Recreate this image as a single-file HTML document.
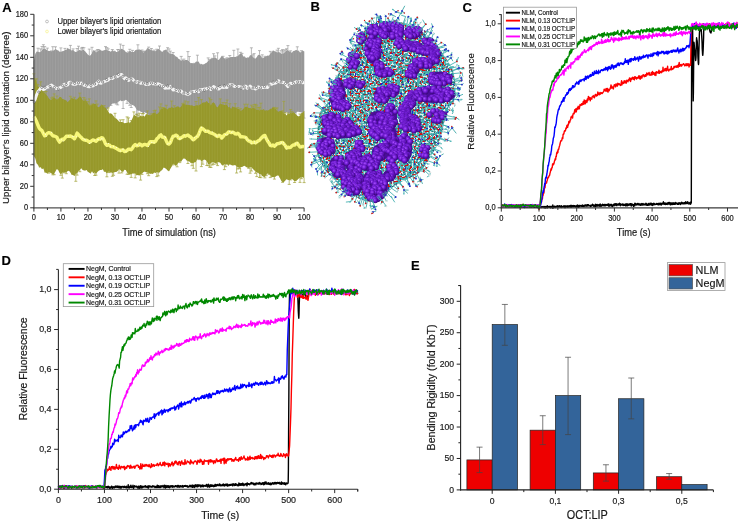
<!DOCTYPE html>
<html><head><meta charset="utf-8"><style>
html,body{margin:0;padding:0;background:#fff;overflow:hidden;}
svg{display:block;font-family:"Liberation Sans",sans-serif;will-change:transform;}
text{stroke:#1a1a1a;stroke-width:0.18px;}
</style></head><body>
<svg width="738" height="522" viewBox="0 0 738 522">
<text transform="translate(2.2 11.6) scale(1 1.0)" font-size="13" font-weight="bold" fill="#000">A</text>
<text transform="translate(310.6 11.4) scale(1 1.0)" font-size="13" font-weight="bold" fill="#000">B</text>
<text transform="translate(462.6 11.8) scale(1 1.0)" font-size="13" font-weight="bold" fill="#000">C</text>
<text transform="translate(1.4 264.9) scale(1 1.0)" font-size="13" font-weight="bold" fill="#000">D</text>
<text transform="translate(411 270.1) scale(1 1.0)" font-size="13" font-weight="bold" fill="#000">E</text>
<path d="M33.9,61.0L35.3,53.8L36.6,51.8L38.0,51.2L39.3,52.2L40.7,52.1L42.0,50.2L43.4,48.7L44.7,48.8L46.1,49.6L47.4,50.6L48.8,50.9L50.1,51.1L51.5,51.3L52.8,50.8L54.2,50.2L55.5,48.7L56.9,50.0L58.2,50.6L59.6,51.8L60.9,51.8L62.3,51.2L63.6,51.1L65.0,50.1L66.3,50.1L67.7,47.8L69.0,49.3L70.4,48.9L71.7,50.7L73.1,49.6L74.4,51.6L75.8,51.9L77.1,51.4L78.5,50.3L79.8,49.9L81.2,50.8L82.5,49.9L83.9,50.0L85.2,51.6L86.6,53.1L87.9,54.8L89.3,55.6L90.6,55.5L92.0,52.8L93.3,50.2L94.7,50.7L96.0,52.5L97.4,51.6L98.7,50.6L100.1,49.8L101.4,50.7L102.8,50.8L104.2,50.2L105.5,49.7L106.9,49.6L108.2,51.1L109.6,51.1L110.9,51.8L112.3,50.1L113.6,51.5L115.0,51.1L116.3,52.0L117.7,52.0L119.0,50.5L120.4,49.4L121.7,48.7L123.1,49.4L124.4,50.3L125.8,52.0L127.1,52.5L128.5,52.8L129.8,50.6L131.2,51.7L132.5,51.9L133.9,52.1L135.2,50.3L136.6,49.8L137.9,49.6L139.3,49.4L140.6,50.1L142.0,50.4L143.3,53.1L144.7,51.4L146.0,50.3L147.4,48.1L148.7,48.8L150.1,49.5L151.4,50.0L152.8,50.8L154.1,51.0L155.5,51.2L156.8,49.8L158.2,49.1L159.5,49.2L160.9,50.9L162.2,51.9L163.6,50.5L164.9,49.9L166.3,49.6L167.6,51.5L169.0,53.0L170.4,54.0L171.7,53.8L173.1,54.0L174.4,54.9L175.8,56.5L177.1,56.9L178.5,58.7L179.8,59.4L181.2,60.9L182.5,59.6L183.9,60.6L185.2,60.0L186.6,60.0L187.9,60.2L189.3,61.6L190.6,63.3L192.0,63.1L193.3,63.5L194.7,63.3L196.0,61.7L197.4,61.2L198.7,61.8L200.1,64.4L201.4,64.0L202.8,64.5L204.1,64.3L205.5,63.3L206.8,62.7L208.2,60.7L209.5,60.2L210.9,58.8L212.2,58.6L213.6,57.8L214.9,57.6L216.3,58.0L217.6,60.1L219.0,59.8L220.3,58.0L221.7,56.1L223.0,56.7L224.4,58.5L225.7,59.6L227.1,58.5L228.4,57.9L229.8,57.2L231.1,57.1L232.5,56.9L233.8,57.0L235.2,56.9L236.6,56.5L237.9,55.9L239.3,54.4L240.6,53.7L242.0,53.8L243.3,56.5L244.7,56.5L246.0,57.9L247.4,57.5L248.7,57.4L250.1,55.5L251.4,54.7L252.8,56.9L254.1,58.0L255.5,58.7L256.8,57.0L258.2,55.1L259.5,54.6L260.9,55.9L262.2,58.2L263.6,57.8L264.9,56.8L266.3,56.3L267.6,55.6L269.0,55.8L270.3,53.5L271.7,52.2L273.0,50.2L274.4,51.3L275.7,51.6L277.1,52.4L278.4,52.1L279.8,52.6L281.1,53.4L282.5,54.1L283.8,53.0L285.2,51.9L286.5,50.4L287.9,50.0L289.2,51.3L290.6,52.1L291.9,52.7L293.3,51.0L294.6,50.7L296.0,50.0L297.3,50.2L298.7,50.8L300.0,52.4L301.4,51.9L302.7,50.6L304.1,51.4L304.1,113.2L302.7,113.1L301.4,112.1L300.0,112.2L298.7,111.8L297.3,111.7L296.0,113.0L294.6,113.8L293.3,114.0L291.9,113.0L290.6,113.4L289.2,113.1L287.9,113.0L286.5,111.9L285.2,113.0L283.8,113.5L282.5,113.7L281.1,113.1L279.8,112.5L278.4,112.2L277.1,111.9L275.7,111.8L274.4,112.4L273.0,113.2L271.7,113.1L270.3,113.1L269.0,112.6L267.6,112.9L266.3,113.4L264.9,114.3L263.6,114.7L262.2,114.5L260.9,113.1L259.5,112.2L258.2,112.1L256.8,113.1L255.5,113.4L254.1,113.9L252.8,114.5L251.4,115.9L250.1,115.5L248.7,116.1L247.4,115.5L246.0,115.3L244.7,114.9L243.3,114.7L242.0,114.8L240.6,113.5L239.3,113.4L237.9,114.7L236.6,115.2L235.2,115.3L233.8,114.3L232.5,114.6L231.1,115.2L229.8,115.3L228.4,115.1L227.1,114.7L225.7,114.8L224.4,115.8L223.0,115.7L221.7,116.2L220.3,115.6L219.0,115.9L217.6,115.7L216.3,116.3L214.9,116.4L213.6,116.9L212.2,116.6L210.9,117.2L209.5,117.2L208.2,117.4L206.8,117.1L205.5,117.0L204.1,116.8L202.8,117.9L201.4,118.2L200.1,118.7L198.7,118.4L197.4,118.3L196.0,118.8L194.7,118.1L193.3,118.1L192.0,117.7L190.6,117.8L189.3,118.4L187.9,118.4L186.6,118.4L185.2,117.8L183.9,117.5L182.5,117.1L181.2,117.8L179.8,117.7L178.5,118.4L177.1,118.2L175.8,118.2L174.4,118.2L173.1,118.0L171.7,117.0L170.4,116.0L169.0,116.0L167.6,116.7L166.3,117.7L164.9,117.5L163.6,117.3L162.2,116.5L160.9,116.5L159.5,117.1L158.2,117.3L156.8,117.1L155.5,115.6L154.1,114.1L152.8,114.0L151.4,114.8L150.1,115.3L148.7,115.0L147.4,113.4L146.0,113.3L144.7,112.1L143.3,113.7L142.0,112.0L140.6,111.8L139.3,110.4L137.9,110.9L136.6,109.7L135.2,107.0L133.9,105.6L132.5,104.9L131.2,104.4L129.8,103.8L128.5,102.0L127.1,100.8L125.8,99.8L124.4,100.8L123.1,100.8L121.7,101.2L120.4,100.3L119.0,101.4L117.7,102.0L116.3,103.9L115.0,103.3L113.6,103.6L112.3,103.4L110.9,105.3L109.6,106.7L108.2,108.1L106.9,109.7L105.5,110.4L104.2,112.0L102.8,113.0L101.4,112.9L100.1,112.7L98.7,113.1L97.4,114.6L96.0,114.5L94.7,114.8L93.3,114.6L92.0,115.7L90.6,114.7L89.3,115.0L87.9,114.9L86.6,116.0L85.2,116.1L83.9,115.8L82.5,115.4L81.2,115.1L79.8,115.8L78.5,115.9L77.1,116.1L75.8,116.1L74.4,115.3L73.1,115.8L71.7,115.1L70.4,116.4L69.0,116.5L67.7,117.0L66.3,117.3L65.0,116.6L63.6,116.7L62.3,116.6L60.9,117.6L59.6,118.1L58.2,118.3L56.9,118.4L55.5,118.7L54.2,118.9L52.8,119.2L51.5,120.1L50.1,120.1L48.8,119.7L47.4,120.2L46.1,120.2L44.7,121.4L43.4,121.9L42.0,122.7L40.7,123.9L39.3,123.4L38.0,124.6L36.6,124.1L35.3,127.6L33.9,129.8Z" fill="#979797"/>
<path d="M33.9,61.0V129.8M36.6,51.8V124.1M39.3,52.2V123.4M42.0,50.2V122.7M44.7,48.8V121.4M47.4,50.6V120.2M50.1,51.1V120.1M52.8,50.8V119.2M55.5,48.7V118.7M58.2,50.6V118.3M60.9,51.8V117.6M63.6,51.1V116.7M66.3,50.1V117.3M69.0,49.3V116.5M71.7,50.7V115.1M74.4,51.6V115.3M77.1,51.4V116.1M79.8,49.9V115.8M82.5,49.9V115.4M85.2,51.6V116.1M87.9,54.8V114.9M90.6,55.5V114.7M93.3,50.2V114.6M96.0,52.5V114.5M98.7,50.6V113.1M101.4,50.7V112.9M104.2,50.2V112.0M106.9,49.6V109.7M109.6,51.1V106.7M112.3,50.1V103.4M115.0,51.1V103.3M117.7,52.0V102.0M120.4,49.4V100.3M123.1,49.4V100.8M125.8,52.0V99.8M128.5,52.8V102.0M131.2,51.7V104.4M133.9,52.1V105.6M136.6,49.8V109.7M139.3,49.4V110.4M142.0,50.4V112.0M144.7,51.4V112.1M147.4,48.1V113.4M150.1,49.5V115.3M152.8,50.8V114.0M155.5,51.2V115.6M158.2,49.1V117.3M160.9,50.9V116.5M163.6,50.5V117.3M166.3,49.6V117.7M169.0,53.0V116.0M171.7,53.8V117.0M174.4,54.9V118.2M177.1,56.9V118.2M179.8,59.4V117.7M182.5,59.6V117.1M185.2,60.0V117.8M187.9,60.2V118.4M190.6,63.3V117.8M193.3,63.5V118.1M196.0,61.7V118.8M198.7,61.8V118.4M201.4,64.0V118.2M204.1,64.3V116.8M206.8,62.7V117.1M209.5,60.2V117.2M212.2,58.6V116.6M214.9,57.6V116.4M217.6,60.1V115.7M220.3,58.0V115.6M223.0,56.7V115.7M225.7,59.6V114.8M228.4,57.9V115.1M231.1,57.1V115.2M233.8,57.0V114.3M236.6,56.5V115.2M239.3,54.4V113.4M242.0,53.8V114.8M244.7,56.5V114.9M247.4,57.5V115.5M250.1,55.5V115.5M252.8,56.9V114.5M255.5,58.7V113.4M258.2,55.1V112.1M260.9,55.9V113.1M263.6,57.8V114.7M266.3,56.3V113.4M269.0,55.8V112.6M271.7,52.2V113.1M274.4,51.3V112.4M277.1,52.4V111.9M279.8,52.6V112.5M282.5,54.1V113.7M285.2,51.9V113.0M287.9,50.0V113.0M290.6,52.1V113.4M293.3,51.0V114.0M296.0,50.0V113.0M298.7,50.8V111.8M301.4,51.9V112.1M304.1,51.4V113.2" stroke="#a9a9a9" stroke-width="0.45" fill="none"/>
<path d="M33.9,129.8V132.8M32.4,132.8h3M38.0,51.2V48.2M36.5,48.2h3M39.3,123.4V125.6M37.8,125.6h3M40.7,52.1V48.9M39.2,48.9h3M40.7,123.9V127.8M39.2,127.8h3M42.0,50.2V46.5M40.5,46.5h3M43.4,48.7V44.7M41.9,44.7h3M44.7,48.8V46.6M43.2,46.6h3M47.4,50.6V48.1M45.9,48.1h3M50.1,120.1V124.6M48.6,124.6h3M51.5,51.3V50.9M50.0,50.9h3M52.8,50.8V46.7M51.3,46.7h3M55.5,48.7V46.8M54.0,46.8h3M55.5,118.7V120.0M54.0,120.0h3M58.2,118.3V122.1M56.7,122.1h3M60.9,51.8V47.9M59.4,47.9h3M63.6,116.7V116.9M62.1,116.9h3M65.0,50.1V48.4M63.5,48.4h3M65.0,116.6V121.8M63.5,121.8h3M69.0,116.5V119.0M67.5,119.0h3M70.4,48.9V45.4M68.9,45.4h3M71.7,115.1V123.4M70.2,123.4h3M73.1,49.6V48.9M71.6,48.9h3M73.1,115.8V116.8M71.6,116.8h3M74.4,115.3V120.0M72.9,120.0h3M75.8,116.1V116.9M74.3,116.9h3M77.1,51.4V48.5M75.6,48.5h3M78.5,50.3V46.2M77.0,46.2h3M78.5,115.9V119.1M77.0,119.1h3M79.8,115.8V116.5M78.3,116.5h3M81.2,50.8V48.0M79.7,48.0h3M82.5,49.9V47.4M81.0,47.4h3M83.9,50.0V47.7M82.4,47.7h3M89.3,55.6V49.1M87.8,49.1h3M90.6,114.7V115.4M89.1,115.4h3M92.0,52.8V47.3M90.5,47.3h3M93.3,114.6V115.7M91.8,115.7h3M96.0,52.5V50.8M94.5,50.8h3M97.4,51.6V49.6M95.9,49.6h3M98.7,50.6V49.6M97.2,49.6h3M101.4,112.9V118.0M99.9,118.0h3M105.5,49.7V46.6M104.0,46.6h3M106.9,49.6V47.6M105.4,47.6h3M106.9,109.7V117.8M105.4,117.8h3M108.2,51.1V48.8M106.7,48.8h3M110.9,105.3V105.4M109.4,105.4h3M112.3,50.1V49.5M110.8,49.5h3M113.6,51.5V51.2M112.1,51.2h3M116.3,103.9V104.1M114.8,104.1h3M117.7,52.0V49.5M116.2,49.5h3M117.7,102.0V104.9M116.2,104.9h3M119.0,50.5V49.6M117.5,49.6h3M120.4,49.4V44.1M118.9,44.1h3M123.1,49.4V45.4M121.6,45.4h3M123.1,100.8V108.5M121.6,108.5h3M127.1,100.8V103.4M125.6,103.4h3M128.5,52.8V51.9M127.0,51.9h3M129.8,50.6V49.3M128.3,49.3h3M129.8,103.8V105.3M128.3,105.3h3M131.2,104.4V107.5M129.7,107.5h3M132.5,51.9V50.4M131.0,50.4h3M136.6,109.7V114.4M135.1,114.4h3M137.9,49.6V44.8M136.4,44.8h3M137.9,110.9V119.9M136.4,119.9h3M142.0,50.4V50.0M140.5,50.0h3M143.3,53.1V51.6M141.8,51.6h3M144.7,51.4V51.1M143.2,51.1h3M147.4,113.4V117.6M145.9,117.6h3M148.7,48.8V47.1M147.2,47.1h3M151.4,50.0V48.5M149.9,48.5h3M154.1,51.0V50.1M152.6,50.1h3M155.5,115.6V118.3M154.0,118.3h3M156.8,49.8V49.2M155.3,49.2h3M159.5,49.2V46.0M158.0,46.0h3M160.9,116.5V117.7M159.4,117.7h3M163.6,117.3V123.1M162.1,123.1h3M166.3,117.7V126.4M164.8,126.4h3M167.6,51.5V47.7M166.1,47.7h3M167.6,116.7V118.1M166.1,118.1h3M169.0,53.0V48.9M167.5,48.9h3M170.4,54.0V51.1M168.9,51.1h3M173.1,54.0V52.5M171.6,52.5h3M173.1,118.0V124.5M171.6,124.5h3M174.4,118.2V119.4M172.9,119.4h3M175.8,118.2V119.6M174.3,119.6h3M181.2,60.9V56.4M179.7,56.4h3M181.2,117.8V118.3M179.7,118.3h3M182.5,117.1V118.5M181.0,118.5h3M183.9,60.6V59.1M182.4,59.1h3M187.9,60.2V51.6M186.4,51.6h3M187.9,118.4V122.0M186.4,122.0h3M189.3,61.6V56.5M187.8,56.5h3M189.3,118.4V121.9M187.8,121.9h3M190.6,117.8V122.9M189.1,122.9h3M194.7,63.3V63.3M193.2,63.3h3M196.0,118.8V125.2M194.5,125.2h3M197.4,61.2V55.2M195.9,55.2h3M197.4,118.3V119.9M195.9,119.9h3M198.7,118.4V118.9M197.2,118.9h3M200.1,64.4V64.3M198.6,64.3h3M201.4,118.2V119.8M199.9,119.8h3M208.2,60.7V57.9M206.7,57.9h3M208.2,117.4V118.0M206.7,118.0h3M209.5,60.2V59.7M208.0,59.7h3M209.5,117.2V118.7M208.0,118.7h3M212.2,58.6V58.3M210.7,58.3h3M213.6,57.8V53.7M212.1,53.7h3M213.6,116.9V121.3M212.1,121.3h3M214.9,57.6V55.9M213.4,55.9h3M214.9,116.4V117.7M213.4,117.7h3M217.6,60.1V52.8M216.1,52.8h3M219.0,115.9V118.7M217.5,118.7h3M220.3,115.6V118.5M218.8,118.5h3M223.0,56.7V56.3M221.5,56.3h3M223.0,115.7V116.7M221.5,116.7h3M224.4,115.8V118.7M222.9,118.7h3M225.7,59.6V58.7M224.2,58.7h3M227.1,58.5V57.8M225.6,57.8h3M227.1,114.7V116.4M225.6,116.4h3M229.8,57.2V55.5M228.3,55.5h3M229.8,115.3V116.7M228.3,116.7h3M233.8,57.0V50.3M232.3,50.3h3M235.2,115.3V117.3M233.7,117.3h3M236.6,115.2V115.4M235.1,115.4h3M237.9,55.9V49.0M236.4,49.0h3M237.9,114.7V115.9M236.4,115.9h3M240.6,53.7V52.3M239.1,52.3h3M240.6,113.5V116.5M239.1,116.5h3M242.0,53.8V53.4M240.5,53.4h3M242.0,114.8V116.6M240.5,116.6h3M243.3,114.7V118.5M241.8,118.5h3M250.1,115.5V117.1M248.6,117.1h3M251.4,54.7V47.8M249.9,47.8h3M252.8,56.9V54.8M251.3,54.8h3M254.1,58.0V53.6M252.6,53.6h3M254.1,113.9V114.0M252.6,114.0h3M259.5,54.6V50.6M258.0,50.6h3M259.5,112.2V114.7M258.0,114.7h3M262.2,58.2V54.8M260.7,54.8h3M263.6,114.7V115.0M262.1,115.0h3M264.9,56.8V56.3M263.4,56.3h3M267.6,112.9V115.0M266.1,115.0h3M269.0,112.6V119.7M267.5,119.7h3M270.3,53.5V51.4M268.8,51.4h3M270.3,113.1V113.4M268.8,113.4h3M271.7,113.1V115.3M270.2,115.3h3M273.0,113.2V115.4M271.5,115.4h3M274.4,112.4V115.4M272.9,115.4h3M277.1,52.4V50.1M275.6,50.1h3M278.4,52.1V48.3M276.9,48.3h3M279.8,112.5V116.3M278.3,116.3h3M281.1,53.4V50.7M279.6,50.7h3M281.1,113.1V115.9M279.6,115.9h3M282.5,54.1V49.6M281.0,49.6h3M283.8,53.0V50.8M282.3,50.8h3M285.2,51.9V49.8M283.7,49.8h3M286.5,50.4V48.8M285.0,48.8h3M287.9,50.0V45.6M286.4,45.6h3M289.2,113.1V113.5M287.7,113.5h3M290.6,52.1V50.8M289.1,50.8h3M290.6,113.4V114.4M289.1,114.4h3M291.9,113.0V115.3M290.4,115.3h3M293.3,114.0V116.9M291.8,116.9h3M294.6,113.8V115.6M293.1,115.6h3M296.0,113.0V116.4M294.5,116.4h3M297.3,50.2V46.8M295.8,46.8h3M301.4,51.9V50.7M299.9,50.7h3M301.4,112.1V114.5M299.9,114.5h3M304.1,113.2V118.1M302.6,118.1h3" stroke="#9c9c9c" stroke-width="0.7" fill="none"/>
<path d="M33.9,76.6L35.3,79.1L36.6,82.1L38.0,86.9L39.3,86.8L40.7,89.1L42.0,90.3L43.4,92.2L44.7,93.1L46.1,94.6L47.4,96.1L48.8,98.2L50.1,99.7L51.5,100.0L52.8,98.1L54.2,97.2L55.5,98.8L56.9,99.6L58.2,99.0L59.6,97.1L60.9,97.0L62.3,98.9L63.6,99.2L65.0,100.0L66.3,100.6L67.7,102.3L69.0,100.8L70.4,99.4L71.7,97.4L73.1,99.1L74.4,98.3L75.8,99.8L77.1,99.3L78.5,97.8L79.8,96.3L81.2,97.2L82.5,100.1L83.9,101.1L85.2,100.0L86.6,100.9L87.9,103.4L89.3,105.3L90.6,105.4L92.0,104.4L93.3,103.6L94.7,104.1L96.0,104.1L97.4,107.1L98.7,107.3L100.1,106.2L101.4,104.6L102.8,105.3L104.2,107.3L105.5,107.5L106.9,109.8L108.2,111.3L109.6,113.7L110.9,113.3L112.3,114.6L113.6,115.9L115.0,117.9L116.3,118.4L117.7,119.9L119.0,121.4L120.4,122.1L121.7,121.9L123.1,122.3L124.4,123.2L125.8,123.0L127.1,122.8L128.5,122.1L129.8,123.3L131.2,120.9L132.5,118.3L133.9,114.8L135.2,115.4L136.6,116.2L137.9,117.5L139.3,116.8L140.6,115.6L142.0,116.5L143.3,115.4L144.7,116.7L146.0,114.0L147.4,114.6L148.7,114.7L150.1,115.3L151.4,114.4L152.8,113.3L154.1,112.4L155.5,112.9L156.8,114.3L158.2,113.2L159.5,111.4L160.9,108.6L162.2,108.7L163.6,107.7L164.9,108.1L166.3,108.6L167.6,109.5L169.0,107.7L170.4,108.1L171.7,106.6L173.1,108.1L174.4,107.6L175.8,107.3L177.1,106.5L178.5,106.5L179.8,107.8L181.2,106.6L182.5,104.0L183.9,104.0L185.2,104.4L186.6,104.8L187.9,104.9L189.3,104.9L190.6,105.5L192.0,105.3L193.3,106.0L194.7,105.9L196.0,105.3L197.4,105.3L198.7,105.6L200.1,104.6L201.4,103.8L202.8,102.6L204.1,102.6L205.5,102.3L206.8,101.1L208.2,103.0L209.5,102.9L210.9,105.4L212.2,103.0L213.6,102.2L214.9,103.8L216.3,106.5L217.6,107.5L219.0,105.0L220.3,103.5L221.7,104.3L223.0,104.6L224.4,104.9L225.7,105.0L227.1,104.7L228.4,107.5L229.8,107.0L231.1,109.1L232.5,106.3L233.8,107.2L235.2,107.3L236.6,108.0L237.9,108.8L239.3,109.0L240.6,110.9L242.0,110.3L243.3,109.1L244.7,106.9L246.0,107.1L247.4,106.8L248.7,107.9L250.1,108.0L251.4,108.5L252.8,107.7L254.1,108.0L255.5,108.9L256.8,110.1L258.2,109.8L259.5,110.6L260.9,109.6L262.2,110.1L263.6,109.0L264.9,110.8L266.3,110.2L267.6,110.4L269.0,110.1L270.3,108.7L271.7,108.8L273.0,106.8L274.4,107.9L275.7,109.0L277.1,111.1L278.4,111.7L279.8,111.1L281.1,110.7L282.5,111.4L283.8,113.2L285.2,113.5L286.5,115.4L287.9,113.4L289.2,113.9L290.6,112.6L291.9,113.2L293.3,112.3L294.6,113.0L296.0,114.5L297.3,115.8L298.7,116.4L300.0,115.8L301.4,113.3L302.7,112.5L304.1,111.0L304.1,177.9L302.7,177.3L301.4,177.4L300.0,177.8L298.7,178.6L297.3,179.9L296.0,181.1L294.6,181.6L293.3,180.0L291.9,178.7L290.6,179.7L289.2,180.5L287.9,179.8L286.5,179.2L285.2,180.5L283.8,182.2L282.5,182.2L281.1,180.5L279.8,177.8L278.4,175.5L277.1,175.4L275.7,176.4L274.4,177.4L273.0,177.0L271.7,177.2L270.3,175.2L269.0,173.9L267.6,173.4L266.3,174.8L264.9,176.9L263.6,176.8L262.2,176.1L260.9,173.9L259.5,174.4L258.2,172.8L256.8,172.8L255.5,171.2L254.1,170.3L252.8,168.7L251.4,167.1L250.1,167.2L248.7,168.0L247.4,167.5L246.0,167.1L244.7,165.7L243.3,166.3L242.0,167.0L240.6,167.1L239.3,168.1L237.9,167.1L236.6,166.8L235.2,164.9L233.8,165.3L232.5,165.4L231.1,164.9L229.8,164.3L228.4,165.7L227.1,164.2L225.7,164.7L224.4,164.1L223.0,165.6L221.7,165.0L220.3,162.7L219.0,162.3L217.6,162.0L216.3,163.2L214.9,163.1L213.6,162.1L212.2,161.9L210.9,163.3L209.5,164.5L208.2,163.9L206.8,161.3L205.5,160.0L204.1,159.5L202.8,160.5L201.4,161.6L200.1,159.4L198.7,159.3L197.4,158.7L196.0,162.0L194.7,162.2L193.3,163.2L192.0,163.1L190.6,162.7L189.3,161.5L187.9,161.0L186.6,160.5L185.2,158.7L183.9,158.0L182.5,159.4L181.2,161.8L179.8,161.5L178.5,162.6L177.1,164.5L175.8,165.9L174.4,164.6L173.1,163.8L171.7,166.6L170.4,168.7L169.0,171.2L167.6,170.4L166.3,169.0L164.9,168.0L163.6,167.5L162.2,170.1L160.9,170.8L159.5,172.5L158.2,172.7L156.8,171.9L155.5,173.1L154.1,172.5L152.8,174.0L151.4,173.1L150.1,173.8L148.7,173.1L147.4,172.5L146.0,172.3L144.7,171.6L143.3,172.3L142.0,173.4L140.6,174.4L139.3,175.4L137.9,175.0L136.6,175.3L135.2,173.5L133.9,173.6L132.5,173.4L131.2,174.6L129.8,174.3L128.5,173.9L127.1,172.6L125.8,169.9L124.4,169.7L123.1,171.7L121.7,171.8L120.4,170.1L119.0,169.2L117.7,170.9L116.3,172.0L115.0,171.9L113.6,172.8L112.3,173.1L110.9,172.2L109.6,171.8L108.2,171.8L106.9,173.7L105.5,171.8L104.2,171.7L102.8,169.3L101.4,170.0L100.1,170.1L98.7,170.7L97.4,172.0L96.0,174.1L94.7,172.6L93.3,173.2L92.0,171.2L90.6,173.5L89.3,172.8L87.9,171.8L86.6,170.1L85.2,170.5L83.9,170.6L82.5,169.7L81.2,168.2L79.8,170.0L78.5,171.1L77.1,173.6L75.8,173.8L74.4,176.0L73.1,175.0L71.7,174.7L70.4,172.5L69.0,170.7L67.7,171.1L66.3,172.7L65.0,172.6L63.6,172.4L62.3,172.5L60.9,174.5L59.6,173.1L58.2,170.0L56.9,168.9L55.5,171.2L54.2,173.7L52.8,174.6L51.5,173.6L50.1,172.6L48.8,172.1L47.4,173.6L46.1,172.8L44.7,172.6L43.4,168.6L42.0,169.1L40.7,167.2L39.3,167.5L38.0,165.0L36.6,163.3L35.3,158.6L33.9,156.0Z" fill="#97982a"/>
<path d="M33.9,76.6V156.0M36.6,82.1V163.3M39.3,86.8V167.5M42.0,90.3V169.1M44.7,93.1V172.6M47.4,96.1V173.6M50.1,99.7V172.6M52.8,98.1V174.6M55.5,98.8V171.2M58.2,99.0V170.0M60.9,97.0V174.5M63.6,99.2V172.4M66.3,100.6V172.7M69.0,100.8V170.7M71.7,97.4V174.7M74.4,98.3V176.0M77.1,99.3V173.6M79.8,96.3V170.0M82.5,100.1V169.7M85.2,100.0V170.5M87.9,103.4V171.8M90.6,105.4V173.5M93.3,103.6V173.2M96.0,104.1V174.1M98.7,107.3V170.7M101.4,104.6V170.0M104.2,107.3V171.7M106.9,109.8V173.7M109.6,113.7V171.8M112.3,114.6V173.1M115.0,117.9V171.9M117.7,119.9V170.9M120.4,122.1V170.1M123.1,122.3V171.7M125.8,123.0V169.9M128.5,122.1V173.9M131.2,120.9V174.6M133.9,114.8V173.6M136.6,116.2V175.3M139.3,116.8V175.4M142.0,116.5V173.4M144.7,116.7V171.6M147.4,114.6V172.5M150.1,115.3V173.8M152.8,113.3V174.0M155.5,112.9V173.1M158.2,113.2V172.7M160.9,108.6V170.8M163.6,107.7V167.5M166.3,108.6V169.0M169.0,107.7V171.2M171.7,106.6V166.6M174.4,107.6V164.6M177.1,106.5V164.5M179.8,107.8V161.5M182.5,104.0V159.4M185.2,104.4V158.7M187.9,104.9V161.0M190.6,105.5V162.7M193.3,106.0V163.2M196.0,105.3V162.0M198.7,105.6V159.3M201.4,103.8V161.6M204.1,102.6V159.5M206.8,101.1V161.3M209.5,102.9V164.5M212.2,103.0V161.9M214.9,103.8V163.1M217.6,107.5V162.0M220.3,103.5V162.7M223.0,104.6V165.6M225.7,105.0V164.7M228.4,107.5V165.7M231.1,109.1V164.9M233.8,107.2V165.3M236.6,108.0V166.8M239.3,109.0V168.1M242.0,110.3V167.0M244.7,106.9V165.7M247.4,106.8V167.5M250.1,108.0V167.2M252.8,107.7V168.7M255.5,108.9V171.2M258.2,109.8V172.8M260.9,109.6V173.9M263.6,109.0V176.8M266.3,110.2V174.8M269.0,110.1V173.9M271.7,108.8V177.2M274.4,107.9V177.4M277.1,111.1V175.4M279.8,111.1V177.8M282.5,111.4V182.2M285.2,113.5V180.5M287.9,113.4V179.8M290.6,112.6V179.7M293.3,112.3V180.0M296.0,114.5V181.1M298.7,116.4V178.6M301.4,113.3V177.4M304.1,111.0V177.9" stroke="#a4a540" stroke-width="0.45" fill="none"/>
<path d="M33.9,76.6V73.8M32.4,73.8h3M36.6,82.1V78.8M35.1,78.8h3M38.0,86.9V84.4M36.5,84.4h3M40.7,89.1V81.8M39.2,81.8h3M43.4,92.2V88.5M41.9,88.5h3M44.7,93.1V91.1M43.2,91.1h3M46.1,94.6V91.5M44.6,91.5h3M48.8,172.1V173.1M47.3,173.1h3M51.5,100.0V97.9M50.0,97.9h3M52.8,98.1V97.0M51.3,97.0h3M52.8,174.6V174.8M51.3,174.8h3M54.2,97.2V93.9M52.7,93.9h3M54.2,173.7V174.7M52.7,174.7h3M56.9,99.6V96.0M55.4,96.0h3M60.9,174.5V175.3M59.4,175.3h3M62.3,172.5V178.1M60.8,178.1h3M63.6,172.4V172.8M62.1,172.8h3M66.3,172.7V173.7M64.8,173.7h3M70.4,99.4V96.3M68.9,96.3h3M74.4,98.3V97.3M72.9,97.3h3M75.8,173.8V181.3M74.3,181.3h3M77.1,173.6V175.1M75.6,175.1h3M79.8,96.3V93.1M78.3,93.1h3M79.8,170.0V171.7M78.3,171.7h3M83.9,101.1V97.5M82.4,97.5h3M85.2,100.0V99.1M83.7,99.1h3M87.9,103.4V101.6M86.4,101.6h3M89.3,105.3V98.9M87.8,98.9h3M90.6,105.4V105.2M89.1,105.2h3M92.0,104.4V104.1M90.5,104.1h3M94.7,172.6V175.5M93.2,175.5h3M96.0,104.1V100.9M94.5,100.9h3M96.0,174.1V175.2M94.5,175.2h3M97.4,107.1V104.1M95.9,104.1h3M104.2,107.3V105.6M102.7,105.6h3M106.9,173.7V176.8M105.4,176.8h3M108.2,111.3V107.9M106.7,107.9h3M108.2,171.8V172.1M106.7,172.1h3M109.6,171.8V172.6M108.1,172.6h3M112.3,173.1V176.3M110.8,176.3h3M113.6,172.8V175.3M112.1,175.3h3M115.0,117.9V113.3M113.5,113.3h3M119.0,169.2V173.1M117.5,173.1h3M120.4,122.1V119.9M118.9,119.9h3M121.7,171.8V172.9M120.2,172.9h3M123.1,122.3V119.7M121.6,119.7h3M127.1,122.8V116.9M125.6,116.9h3M127.1,172.6V174.3M125.6,174.3h3M128.5,122.1V117.9M127.0,117.9h3M128.5,173.9V174.4M127.0,174.4h3M129.8,123.3V123.0M128.3,123.0h3M131.2,120.9V120.6M129.7,120.6h3M131.2,174.6V177.4M129.7,177.4h3M133.9,114.8V111.9M132.4,111.9h3M135.2,173.5V177.9M133.7,177.9h3M136.6,116.2V114.1M135.1,114.1h3M137.9,117.5V115.2M136.4,115.2h3M139.3,116.8V113.2M137.8,113.2h3M140.6,174.4V180.1M139.1,180.1h3M142.0,116.5V113.4M140.5,113.4h3M142.0,173.4V174.4M140.5,174.4h3M143.3,115.4V113.5M141.8,113.5h3M147.4,114.6V110.9M145.9,110.9h3M147.4,172.5V173.7M145.9,173.7h3M148.7,173.1V175.7M147.2,175.7h3M151.4,114.4V113.9M149.9,113.9h3M151.4,173.1V173.4M149.9,173.4h3M154.1,112.4V110.6M152.6,110.6h3M155.5,112.9V110.2M154.0,110.2h3M156.8,171.9V176.6M155.3,176.6h3M158.2,172.7V175.8M156.7,175.8h3M159.5,111.4V107.0M158.0,107.0h3M160.9,108.6V103.9M159.4,103.9h3M162.2,108.7V107.6M160.7,107.6h3M163.6,107.7V107.5M162.1,107.5h3M166.3,108.6V105.3M164.8,105.3h3M171.7,106.6V101.0M170.2,101.0h3M173.1,163.8V164.9M171.6,164.9h3M174.4,107.6V105.7M172.9,105.7h3M177.1,164.5V166.8M175.6,166.8h3M179.8,161.5V162.6M178.3,162.6h3M182.5,104.0V103.8M181.0,103.8h3M183.9,104.0V103.1M182.4,103.1h3M183.9,158.0V158.1M182.4,158.1h3M185.2,104.4V101.0M183.7,101.0h3M187.9,104.9V101.8M186.4,101.8h3M187.9,161.0V163.5M186.4,163.5h3M192.0,163.1V165.7M190.5,165.7h3M193.3,163.2V168.3M191.8,168.3h3M196.0,105.3V101.5M194.5,101.5h3M196.0,162.0V171.0M194.5,171.0h3M198.7,105.6V97.6M197.2,97.6h3M198.7,159.3V159.6M197.2,159.6h3M201.4,103.8V99.6M199.9,99.6h3M201.4,161.6V166.6M199.9,166.6h3M202.8,160.5V164.2M201.3,164.2h3M206.8,161.3V165.5M205.3,165.5h3M208.2,163.9V165.7M206.7,165.7h3M209.5,102.9V98.0M208.0,98.0h3M209.5,164.5V167.2M208.0,167.2h3M210.9,105.4V99.6M209.4,99.6h3M210.9,163.3V167.5M209.4,167.5h3M212.2,161.9V165.0M210.7,165.0h3M213.6,162.1V164.3M212.1,164.3h3M216.3,163.2V164.0M214.8,164.0h3M217.6,162.0V165.6M216.1,165.6h3M220.3,103.5V98.9M218.8,98.9h3M223.0,104.6V102.6M221.5,102.6h3M224.4,164.1V169.6M222.9,169.6h3M225.7,105.0V102.6M224.2,102.6h3M225.7,164.7V166.7M224.2,166.7h3M227.1,104.7V100.1M225.6,100.1h3M229.8,107.0V103.7M228.3,103.7h3M235.2,107.3V103.7M233.7,103.7h3M236.6,166.8V173.0M235.1,173.0h3M237.9,108.8V107.5M236.4,107.5h3M237.9,167.1V169.0M236.4,169.0h3M239.3,168.1V168.6M237.8,168.6h3M240.6,110.9V108.7M239.1,108.7h3M240.6,167.1V171.9M239.1,171.9h3M244.7,106.9V104.2M243.2,104.2h3M247.4,106.8V104.2M245.9,104.2h3M248.7,168.0V168.3M247.2,168.3h3M250.1,167.2V173.2M248.6,173.2h3M251.4,108.5V105.2M249.9,105.2h3M251.4,167.1V171.0M249.9,171.0h3M252.8,107.7V106.6M251.3,106.6h3M254.1,108.0V104.6M252.6,104.6h3M255.5,108.9V104.3M254.0,104.3h3M255.5,171.2V173.3M254.0,173.3h3M256.8,110.1V105.1M255.3,105.1h3M256.8,172.8V176.6M255.3,176.6h3M258.2,109.8V107.4M256.7,107.4h3M259.5,110.6V107.4M258.0,107.4h3M259.5,174.4V177.5M258.0,177.5h3M260.9,109.6V103.2M259.4,103.2h3M260.9,173.9V177.7M259.4,177.7h3M264.9,176.9V177.9M263.4,177.9h3M266.3,174.8V175.7M264.8,175.7h3M269.0,173.9V174.4M267.5,174.4h3M270.3,175.2V177.6M268.8,177.6h3M274.4,107.9V107.4M272.9,107.4h3M274.4,177.4V179.1M272.9,179.1h3M275.7,109.0V108.4M274.2,108.4h3M277.1,111.1V107.9M275.6,107.9h3M282.5,111.4V110.8M281.0,110.8h3M282.5,182.2V182.3M281.0,182.3h3M283.8,113.2V101.4M282.3,101.4h3M285.2,113.5V112.7M283.7,112.7h3M287.9,113.4V113.0M286.4,113.0h3M289.2,180.5V184.4M287.7,184.4h3M290.6,112.6V109.5M289.1,109.5h3M290.6,179.7V179.9M289.1,179.9h3M291.9,113.2V111.7M290.4,111.7h3M294.6,181.6V182.5M293.1,182.5h3M300.0,115.8V114.0M298.5,114.0h3M300.0,177.8V182.4M298.5,182.4h3M301.4,177.4V178.7M299.9,178.7h3M304.1,177.9V182.6M302.6,182.6h3" stroke="#a0a238" stroke-width="0.7" fill="none"/>
<path d="M33.9,101.4L35.3,98.9L36.6,94.8L38.0,91.6L39.3,90.2L40.7,88.1L42.0,87.9L43.4,89.5L44.7,89.1L46.1,87.6L47.4,87.1L48.8,86.9L50.1,85.9L51.5,85.1L52.8,86.2L54.2,87.3L55.5,87.9L56.9,88.5L58.2,88.5L59.6,87.7L60.9,87.4L62.3,86.3L63.6,84.6L65.0,84.2L66.3,85.3L67.7,84.8L69.0,82.4L70.4,82.2L71.7,83.5L73.1,84.2L74.4,84.1L75.8,84.3L77.1,82.9L78.5,82.9L79.8,83.7L81.2,83.1L82.5,84.0L83.9,85.2L85.2,85.3L86.6,85.4L87.9,86.6L89.3,86.8L90.6,85.3L92.0,85.9L93.3,85.7L94.7,84.0L96.0,84.5L97.4,82.7L98.7,81.2L100.1,83.1L101.4,83.3L102.8,81.8L104.2,81.8L105.5,81.1L106.9,80.5L108.2,80.0L109.6,78.4L110.9,78.5L112.3,78.6L113.6,77.6L115.0,76.9L116.3,76.7L117.7,76.4L119.0,75.0L120.4,74.7L121.7,74.5L123.1,76.8L124.4,78.6L125.8,77.8L127.1,79.2L128.5,80.5L129.8,79.7L131.2,79.1L132.5,79.1L133.9,80.7L135.2,82.0L136.6,82.4L137.9,81.4L139.3,81.8L140.6,83.3L142.0,83.1L143.3,83.1L144.7,83.7L146.0,84.5L147.4,84.6L148.7,84.3L150.1,83.7L151.4,82.9L152.8,83.7L154.1,83.7L155.5,84.0L156.8,83.9L158.2,83.8L159.5,84.3L160.9,85.4L162.2,85.7L163.6,86.2L164.9,88.3L166.3,87.9L167.6,87.7L169.0,87.9L170.4,86.3L171.7,87.5L173.1,90.0L174.4,89.8L175.8,89.6L177.1,90.4L178.5,91.3L179.8,91.1L181.2,91.0L182.5,92.6L183.9,93.4L185.2,93.1L186.6,94.1L187.9,94.4L189.3,93.7L190.6,92.7L192.0,91.4L193.3,91.5L194.7,91.5L196.0,91.1L197.4,91.5L198.7,91.7L200.1,89.5L201.4,89.7L202.8,89.4L204.1,89.1L205.5,89.2L206.8,88.5L208.2,88.5L209.5,87.9L210.9,89.4L212.2,88.7L213.6,86.6L214.9,87.5L216.3,88.7L217.6,88.8L219.0,88.9L220.3,87.7L221.7,87.0L223.0,87.4L224.4,87.3L225.7,87.3L227.1,87.4L228.4,85.8L229.8,84.8L231.1,84.7L232.5,84.8L233.8,86.1L235.2,86.5L236.6,86.6L237.9,86.5L239.3,86.6L240.6,86.9L242.0,87.7L243.3,88.2L244.7,86.3L246.0,86.3L247.4,88.3L248.7,87.8L250.1,86.2L251.4,87.4L252.8,88.5L254.1,88.0L255.5,89.0L256.8,88.1L258.2,86.9L259.5,87.4L260.9,87.9L262.2,87.6L263.6,87.5L264.9,87.3L266.3,87.2L267.6,87.4L269.0,85.2L270.3,84.1L271.7,84.3L273.0,83.4L274.4,83.3L275.7,83.0L277.1,81.6L278.4,80.8L279.8,81.9L281.1,82.4L282.5,82.3L283.8,82.4L285.2,83.4L286.5,84.8L287.9,86.6L289.2,85.2L290.6,83.2L291.9,83.6L293.3,83.5L294.6,82.6L296.0,82.0L297.3,81.6L298.7,82.2L300.0,81.6L301.4,81.8L302.7,82.8L304.1,82.2" stroke="#f4f4f4" stroke-width="3" fill="none" stroke-linejoin="round"/>
<g fill="#ffffff" stroke="#303030" stroke-width="0.5"><circle cx="34.2" cy="102.0" r="1.1"/><circle cx="38.8" cy="92.1" r="1.1"/><circle cx="41.8" cy="87.4" r="1.1"/><circle cx="45.0" cy="87.3" r="1.1"/><circle cx="50.1" cy="86.5" r="1.1"/><circle cx="54.3" cy="87.6" r="1.1"/><circle cx="58.3" cy="88.9" r="1.1"/><circle cx="62.7" cy="85.7" r="1.1"/><circle cx="66.2" cy="84.5" r="1.1"/><circle cx="70.9" cy="83.0" r="1.1"/><circle cx="74.7" cy="83.4" r="1.1"/><circle cx="78.5" cy="82.8" r="1.1"/><circle cx="82.6" cy="83.9" r="1.1"/><circle cx="86.7" cy="85.2" r="1.1"/><circle cx="90.9" cy="85.5" r="1.1"/><circle cx="94.6" cy="84.0" r="1.1"/><circle cx="98.6" cy="81.7" r="1.1"/><circle cx="102.7" cy="82.0" r="1.1"/><circle cx="106.7" cy="79.6" r="1.1"/><circle cx="111.2" cy="77.9" r="1.1"/><circle cx="115.2" cy="77.1" r="1.1"/><circle cx="118.5" cy="74.5" r="1.1"/><circle cx="122.9" cy="76.3" r="1.1"/><circle cx="126.8" cy="79.6" r="1.1"/><circle cx="131.1" cy="79.3" r="1.1"/><circle cx="135.1" cy="82.1" r="1.1"/><circle cx="139.1" cy="81.8" r="1.1"/><circle cx="143.5" cy="83.1" r="1.1"/><circle cx="147.2" cy="83.9" r="1.1"/><circle cx="151.5" cy="83.1" r="1.1"/><circle cx="155.4" cy="83.5" r="1.1"/><circle cx="159.7" cy="85.8" r="1.1"/><circle cx="163.5" cy="86.4" r="1.1"/><circle cx="167.8" cy="86.1" r="1.1"/><circle cx="171.7" cy="87.1" r="1.1"/><circle cx="176.2" cy="89.5" r="1.1"/><circle cx="179.6" cy="91.0" r="1.1"/><circle cx="183.9" cy="93.1" r="1.1"/><circle cx="187.9" cy="93.6" r="1.1"/><circle cx="191.9" cy="91.9" r="1.1"/><circle cx="196.6" cy="91.5" r="1.1"/><circle cx="200.2" cy="90.2" r="1.1"/><circle cx="204.4" cy="90.1" r="1.1"/><circle cx="208.5" cy="88.4" r="1.1"/><circle cx="212.3" cy="88.8" r="1.1"/><circle cx="216.4" cy="88.8" r="1.1"/><circle cx="220.1" cy="86.4" r="1.1"/><circle cx="224.2" cy="86.0" r="1.1"/><circle cx="228.5" cy="85.8" r="1.1"/><circle cx="232.0" cy="85.2" r="1.1"/><circle cx="236.8" cy="86.6" r="1.1"/><circle cx="241.1" cy="88.0" r="1.1"/><circle cx="244.3" cy="86.9" r="1.1"/><circle cx="248.8" cy="88.0" r="1.1"/><circle cx="253.0" cy="88.1" r="1.1"/><circle cx="256.6" cy="87.6" r="1.1"/><circle cx="260.6" cy="87.8" r="1.1"/><circle cx="264.5" cy="86.7" r="1.1"/><circle cx="269.1" cy="85.1" r="1.1"/><circle cx="273.1" cy="82.2" r="1.1"/><circle cx="276.8" cy="81.3" r="1.1"/><circle cx="281.1" cy="82.1" r="1.1"/><circle cx="285.5" cy="83.4" r="1.1"/><circle cx="289.2" cy="85.2" r="1.1"/><circle cx="293.5" cy="83.3" r="1.1"/><circle cx="297.7" cy="81.9" r="1.1"/><circle cx="301.4" cy="81.9" r="1.1"/></g>
<path d="M33.9,116.6L35.3,118.9L36.6,121.7L38.0,125.3L39.3,128.3L40.7,129.7L42.0,130.7L43.4,133.6L44.7,135.8L46.1,134.8L47.4,133.2L48.8,132.6L50.1,132.9L51.5,134.1L52.8,135.8L54.2,136.0L55.5,136.5L56.9,137.2L58.2,140.0L59.6,142.1L60.9,140.2L62.3,139.2L63.6,139.6L65.0,137.9L66.3,136.3L67.7,136.1L69.0,136.3L70.4,136.0L71.7,136.7L73.1,137.5L74.4,138.8L75.8,136.3L77.1,133.1L78.5,134.7L79.8,136.2L81.2,137.4L82.5,139.0L83.9,139.8L85.2,140.2L86.6,140.3L87.9,141.0L89.3,142.3L90.6,141.6L92.0,140.5L93.3,139.9L94.7,140.6L96.0,141.2L97.4,139.8L98.7,138.8L100.1,139.1L101.4,137.7L102.8,138.2L104.2,140.7L105.5,143.9L106.9,145.3L108.2,144.8L109.6,145.2L110.9,146.6L112.3,146.7L113.6,146.8L115.0,147.8L116.3,148.4L117.7,149.3L119.0,150.2L120.4,150.7L121.7,150.2L123.1,149.9L124.4,151.5L125.8,151.4L127.1,150.4L128.5,149.1L129.8,149.3L131.2,149.7L132.5,148.2L133.9,145.7L135.2,144.6L136.6,145.8L137.9,145.6L139.3,144.0L140.6,144.3L142.0,145.8L143.3,144.9L144.7,144.4L146.0,144.7L147.4,145.4L148.7,143.9L150.1,141.8L151.4,141.8L152.8,141.6L154.1,142.3L155.5,141.4L156.8,138.9L158.2,137.7L159.5,135.8L160.9,134.9L162.2,137.0L163.6,137.2L164.9,137.7L166.3,140.9L167.6,143.5L169.0,144.1L170.4,142.6L171.7,139.1L173.1,136.1L174.4,136.1L175.8,135.1L177.1,135.7L178.5,138.0L179.8,138.6L181.2,137.8L182.5,137.1L183.9,135.8L185.2,136.2L186.6,135.5L187.9,135.0L189.3,136.3L190.6,136.8L192.0,138.5L193.3,139.7L194.7,138.8L196.0,137.4L197.4,136.5L198.7,134.4L200.1,130.6L201.4,128.1L202.8,128.8L204.1,129.9L205.5,131.4L206.8,131.3L208.2,131.3L209.5,132.5L210.9,133.0L212.2,133.2L213.6,133.9L214.9,134.7L216.3,135.8L217.6,136.6L219.0,135.3L220.3,135.8L221.7,138.0L223.0,136.7L224.4,134.8L225.7,134.4L227.1,133.7L228.4,132.0L229.8,131.9L231.1,132.6L232.5,132.1L233.8,132.7L235.2,133.8L236.6,134.0L237.9,133.3L239.3,134.5L240.6,136.8L242.0,136.8L243.3,136.9L244.7,137.2L246.0,137.6L247.4,139.8L248.7,141.0L250.1,141.1L251.4,142.8L252.8,142.6L254.1,142.0L255.5,142.9L256.8,141.9L258.2,140.9L259.5,140.3L260.9,138.5L262.2,137.2L263.6,135.8L264.9,135.4L266.3,138.4L267.6,141.0L269.0,142.9L270.3,145.4L271.7,145.8L273.0,145.1L274.4,146.3L275.7,145.1L277.1,143.7L278.4,143.6L279.8,143.1L281.1,142.6L282.5,142.4L283.8,143.9L285.2,145.5L286.5,147.9L287.9,147.2L289.2,147.6L290.6,147.3L291.9,145.9L293.3,145.0L294.6,145.0L296.0,143.5L297.3,143.1L298.7,145.3L300.0,147.0L301.4,146.9L302.7,146.4L304.1,147.0" stroke="#f7f77a" stroke-width="3.4" fill="none" stroke-linejoin="round"/>
<path d="M34.4,117.4h0.8M35.7,119.0h0.8M43.3,132.9h0.8M45.0,134.6h0.8M45.9,136.3h0.8M51.3,132.4h0.8M59.4,140.3h0.8M61.2,139.7h0.8M62.7,141.2h0.8M68.3,135.9h0.8M72.3,136.3h0.8M73.4,136.7h0.8M76.3,136.7h0.8M82.5,138.4h0.8M84.2,139.3h0.8M85.1,139.9h0.8M89.2,143.5h0.8M90.5,142.9h0.8M93.8,140.1h0.8M98.0,139.4h0.8M97.3,139.6h0.8M100.5,139.9h0.8M101.4,138.5h0.8M102.6,139.0h0.8M105.7,143.7h0.8M108.0,143.5h0.8M110.1,146.7h0.8M113.0,146.6h0.8M116.0,147.5h0.8M120.1,151.0h0.8M122.1,149.2h0.8M123.0,149.1h0.8M125.6,151.7h0.8M131.9,147.0h0.8M136.3,145.1h0.8M137.0,145.2h0.8M139.2,145.9h0.8M148.1,146.5h0.8M148.8,144.1h0.8M150.9,142.3h0.8M151.6,142.6h0.8M153.6,142.7h0.8M163.8,136.3h0.8M165.2,137.5h0.8M167.3,144.1h0.8M168.6,143.6h0.8M170.1,141.8h0.8M171.6,138.3h0.8M174.6,136.2h0.8M176.9,136.3h0.8M179.6,139.0h0.8M179.2,138.9h0.8M180.8,138.4h0.8M184.3,134.9h0.8M191.7,140.0h0.8M194.1,137.7h0.8M196.4,136.4h0.8M198.8,134.8h0.8M199.2,131.9h0.8M201.2,127.3h0.8M205.3,130.5h0.8M207.6,131.1h0.8M211.9,132.0h0.8M214.8,135.0h0.8M216.4,136.0h0.8M216.6,136.2h0.8M218.7,135.1h0.8M221.6,138.1h0.8M225.2,134.5h0.8M226.8,134.6h0.8M229.2,131.4h0.8M231.0,132.4h0.8M232.5,131.9h0.8M245.4,137.7h0.8M246.6,139.2h0.8M248.5,140.4h0.8M250.6,141.9h0.8M251.4,143.7h0.8M254.5,143.3h0.8M254.2,141.8h0.8M256.7,142.4h0.8M259.6,139.6h0.8M263.6,137.9h0.8M265.4,137.8h0.8M268.1,140.6h0.8M269.7,145.3h0.8M275.9,145.1h0.8M280.5,143.3h0.8M280.9,142.3h0.8M283.0,142.6h0.8M283.7,144.3h0.8M284.8,146.9h0.8M286.5,149.0h0.8M295.0,144.0h0.8M296.9,142.9h0.8M300.9,147.2h0.8" stroke="#fffff0" stroke-width="0.9" fill="none"/>
<path d="M33.9,14.3L33.9,208.3" stroke="#505050" stroke-width="1.3"/>
<path d="M33.4,207.8L304.1,207.8" stroke="#505050" stroke-width="1.3"/>
<path d="M30.2,207.8L33.9,207.8" stroke="#333" stroke-width="1.0"/>
<text transform="translate(28.2 210.1) scale(1 1.12)" font-size="7.5" text-anchor="end" fill="#1a1a1a">0</text>
<path d="M30.2,186.3L33.9,186.3" stroke="#333" stroke-width="1.0"/>
<text transform="translate(28.2 188.6) scale(1 1.12)" font-size="7.5" text-anchor="end" fill="#1a1a1a">20</text>
<path d="M30.2,164.8L33.9,164.8" stroke="#333" stroke-width="1.0"/>
<text transform="translate(28.2 167.1) scale(1 1.12)" font-size="7.5" text-anchor="end" fill="#1a1a1a">40</text>
<path d="M30.2,143.3L33.9,143.3" stroke="#333" stroke-width="1.0"/>
<text transform="translate(28.2 145.6) scale(1 1.12)" font-size="7.5" text-anchor="end" fill="#1a1a1a">60</text>
<path d="M30.2,121.8L33.9,121.8" stroke="#333" stroke-width="1.0"/>
<text transform="translate(28.2 124.1) scale(1 1.12)" font-size="7.5" text-anchor="end" fill="#1a1a1a">80</text>
<path d="M30.2,100.3L33.9,100.3" stroke="#333" stroke-width="1.0"/>
<text transform="translate(28.2 102.6) scale(1 1.12)" font-size="7.5" text-anchor="end" fill="#1a1a1a">100</text>
<path d="M30.2,78.8L33.9,78.8" stroke="#333" stroke-width="1.0"/>
<text transform="translate(28.2 81.1) scale(1 1.12)" font-size="7.5" text-anchor="end" fill="#1a1a1a">120</text>
<path d="M30.2,57.3L33.9,57.3" stroke="#333" stroke-width="1.0"/>
<text transform="translate(28.2 59.6) scale(1 1.12)" font-size="7.5" text-anchor="end" fill="#1a1a1a">140</text>
<path d="M30.2,35.8L33.9,35.8" stroke="#333" stroke-width="1.0"/>
<text transform="translate(28.2 38.1) scale(1 1.12)" font-size="7.5" text-anchor="end" fill="#1a1a1a">160</text>
<path d="M30.2,14.3L33.9,14.3" stroke="#333" stroke-width="1.0"/>
<text transform="translate(28.2 16.6) scale(1 1.12)" font-size="7.5" text-anchor="end" fill="#1a1a1a">180</text>
<path d="M31.7,197.05L33.9,197.05" stroke="#333" stroke-width="1.0"/>
<path d="M31.7,175.55L33.9,175.55" stroke="#333" stroke-width="1.0"/>
<path d="M31.7,154.05L33.9,154.05" stroke="#333" stroke-width="1.0"/>
<path d="M31.7,132.55L33.9,132.55" stroke="#333" stroke-width="1.0"/>
<path d="M31.7,111.05L33.9,111.05" stroke="#333" stroke-width="1.0"/>
<path d="M31.7,89.55L33.9,89.55" stroke="#333" stroke-width="1.0"/>
<path d="M31.7,68.05L33.9,68.05" stroke="#333" stroke-width="1.0"/>
<path d="M31.7,46.55L33.9,46.55" stroke="#333" stroke-width="1.0"/>
<path d="M31.7,25.05L33.9,25.05" stroke="#333" stroke-width="1.0"/>
<path d="M33.9,207.8L33.9,211.6" stroke="#333" stroke-width="1.0"/>
<text transform="translate(33.9 220.4) scale(1 1.12)" font-size="7.5" text-anchor="middle" fill="#1a1a1a">0</text>
<path d="M60.92,207.8L60.92,211.6" stroke="#333" stroke-width="1.0"/>
<text transform="translate(60.92 220.4) scale(1 1.12)" font-size="7.5" text-anchor="middle" fill="#1a1a1a">10</text>
<path d="M87.94,207.8L87.94,211.6" stroke="#333" stroke-width="1.0"/>
<text transform="translate(87.94 220.4) scale(1 1.12)" font-size="7.5" text-anchor="middle" fill="#1a1a1a">20</text>
<path d="M114.96,207.8L114.96,211.6" stroke="#333" stroke-width="1.0"/>
<text transform="translate(114.96 220.4) scale(1 1.12)" font-size="7.5" text-anchor="middle" fill="#1a1a1a">30</text>
<path d="M141.98,207.8L141.98,211.6" stroke="#333" stroke-width="1.0"/>
<text transform="translate(141.98 220.4) scale(1 1.12)" font-size="7.5" text-anchor="middle" fill="#1a1a1a">40</text>
<path d="M169,207.8L169,211.6" stroke="#333" stroke-width="1.0"/>
<text transform="translate(169 220.4) scale(1 1.12)" font-size="7.5" text-anchor="middle" fill="#1a1a1a">50</text>
<path d="M196.02,207.8L196.02,211.6" stroke="#333" stroke-width="1.0"/>
<text transform="translate(196.02 220.4) scale(1 1.12)" font-size="7.5" text-anchor="middle" fill="#1a1a1a">60</text>
<path d="M223.04,207.8L223.04,211.6" stroke="#333" stroke-width="1.0"/>
<text transform="translate(223.04 220.4) scale(1 1.12)" font-size="7.5" text-anchor="middle" fill="#1a1a1a">70</text>
<path d="M250.06,207.8L250.06,211.6" stroke="#333" stroke-width="1.0"/>
<text transform="translate(250.06 220.4) scale(1 1.12)" font-size="7.5" text-anchor="middle" fill="#1a1a1a">80</text>
<path d="M277.08,207.8L277.08,211.6" stroke="#333" stroke-width="1.0"/>
<text transform="translate(277.08 220.4) scale(1 1.12)" font-size="7.5" text-anchor="middle" fill="#1a1a1a">90</text>
<path d="M304.1,207.8L304.1,211.6" stroke="#333" stroke-width="1.0"/>
<text transform="translate(304.1 220.4) scale(1 1.12)" font-size="7.5" text-anchor="middle" fill="#1a1a1a">100</text>
<path d="M47.41,207.8L47.41,210" stroke="#333" stroke-width="1.0"/>
<path d="M74.43,207.8L74.43,210" stroke="#333" stroke-width="1.0"/>
<path d="M101.45,207.8L101.45,210" stroke="#333" stroke-width="1.0"/>
<path d="M128.47,207.8L128.47,210" stroke="#333" stroke-width="1.0"/>
<path d="M155.49,207.8L155.49,210" stroke="#333" stroke-width="1.0"/>
<path d="M182.51,207.8L182.51,210" stroke="#333" stroke-width="1.0"/>
<path d="M209.53,207.8L209.53,210" stroke="#333" stroke-width="1.0"/>
<path d="M236.55,207.8L236.55,210" stroke="#333" stroke-width="1.0"/>
<path d="M263.57,207.8L263.57,210" stroke="#333" stroke-width="1.0"/>
<path d="M290.59,207.8L290.59,210" stroke="#333" stroke-width="1.0"/>
<text transform="translate(169.1 235.9) scale(1 1.12)" font-size="9.3" text-anchor="middle" fill="#1a1a1a">Time of simulation (ns)</text>
<text transform="translate(8.9 117.7) rotate(-90) scale(1 1.0)" font-size="9.75" text-anchor="middle" fill="#1a1a1a">Upper bilayer's lipid orientation (degree)</text>
<circle cx="47" cy="21.5" r="1.4" fill="#fff" stroke="#9a9a9a" stroke-width="0.6"/>
<circle cx="47" cy="31.5" r="1.4" fill="#fffff0" stroke="#f6f290" stroke-width="0.7"/>
<text transform="translate(57.4 24.3) scale(1 1.12)" font-size="7.62" fill="#1a1a1a">Upper bilayer's lipid orientation</text>
<text transform="translate(57.4 33.8) scale(1 1.12)" font-size="7.62" fill="#1a1a1a">Lower bilayer's lipid orientation</text>
<clipPath id="clipC"><rect x="501" y="0" width="237" height="212"/></clipPath>
<g clip-path="url(#clipC)">
<path d="M501.3,206.2L501.5,206.1L501.7,206.3L501.9,206.7L502.1,206.1L502.2,206.2L502.4,206.5L502.6,206.2L502.8,206.3L503.0,206.3L503.2,206.4L503.4,206.2L503.6,206.6L503.8,206.4L503.9,206.5L504.1,206.3L504.3,206.4L504.5,206.5L504.7,206.6L504.9,206.5L505.1,206.4L505.3,206.5L505.4,206.1L505.6,206.2L505.8,207.1L506.0,206.9L506.2,206.5L506.4,206.6L506.6,206.4L506.8,206.4L507.0,206.0L507.1,206.8L507.3,206.6L507.5,206.0L507.7,206.3L507.9,206.3L508.1,206.6L508.3,206.9L508.5,206.5L508.7,206.5L508.8,206.8L509.0,206.7L509.2,206.5L509.4,206.8L509.6,206.6L509.8,206.5L510.0,206.5L510.2,206.7L510.3,206.4L510.5,206.3L510.7,206.5L510.9,206.8L511.1,206.4L511.3,206.7L511.5,206.4L511.7,206.9L511.9,206.4L512.0,206.6L512.2,206.9L512.4,206.7L512.6,206.6L512.8,206.5L513.0,206.9L513.2,206.9L513.4,206.6L513.6,206.7L513.7,206.6L513.9,206.4L514.1,207.0L514.3,206.6L514.5,206.3L514.7,206.7L514.9,206.9L515.1,206.5L515.2,206.6L515.4,206.4L515.6,206.7L515.8,207.0L516.0,206.7L516.2,206.8L516.4,206.5L516.6,206.6L516.8,207.1L516.9,207.0L517.1,206.5L517.3,206.5L517.5,206.9L517.7,206.7L517.9,206.6L518.1,206.6L518.3,206.5L518.5,206.6L518.6,206.7L518.8,206.8L519.0,206.5L519.2,207.3L519.4,206.8L519.6,206.7L519.8,207.1L520.0,206.7L520.1,206.9L520.3,206.5L520.5,206.8L520.7,206.6L520.9,206.4L521.1,206.7L521.3,207.0L521.5,207.1L521.7,206.3L521.8,206.8L522.0,206.9L522.2,206.7L522.4,206.8L522.6,206.6L522.8,206.8L523.0,206.8L523.2,207.0L523.4,206.7L523.5,207.0L523.7,206.6L523.9,206.4L524.1,207.2L524.3,207.4L524.5,206.6L524.7,206.2L524.9,207.0L525.1,207.1L525.2,206.7L525.4,207.0L525.6,206.9L525.8,206.9L526.0,206.7L526.2,206.9L526.4,206.7L526.6,206.9L526.7,207.0L526.9,206.9L527.1,207.1L527.3,206.8L527.5,207.1L527.7,207.1L527.9,206.5L528.1,206.8L528.3,206.8L528.4,206.7L528.6,206.9L528.8,206.9L529.0,206.7L529.2,206.8L529.4,207.1L529.6,206.6L529.8,207.0L530.0,207.1L530.1,207.1L530.3,206.9L530.5,206.4L530.7,207.1L530.9,206.8L531.1,207.4L531.3,206.9L531.5,206.6L531.6,206.9L531.8,207.0L532.0,206.8L532.2,206.7L532.4,206.7L532.6,206.4L532.8,206.8L533.0,207.0L533.2,206.9L533.3,206.9L533.5,206.8L533.7,206.9L533.9,206.8L534.1,207.3L534.3,206.7L534.5,207.0L534.7,207.2L534.9,206.7L535.0,206.5L535.2,206.8L535.4,206.8L535.6,207.1L535.8,206.2L536.0,206.7L536.2,207.2L536.4,207.1L536.5,206.9L536.7,207.3L536.9,206.8L537.1,207.0L537.3,206.6L537.5,206.6L537.7,207.6L537.9,206.9L538.1,207.3L538.2,206.3L538.4,206.8L538.6,206.6L538.8,207.5L539.0,205.9L539.2,205.8L539.4,207.5L539.6,206.7L539.8,207.3L539.9,206.9L540.1,207.6L540.3,205.8L540.5,207.4L540.7,207.0L540.9,206.6L541.1,207.2L541.3,207.0L541.5,207.2L541.6,206.9L541.8,207.5L542.0,207.1L542.2,207.0L542.4,207.1L542.6,206.8L542.8,207.0L543.0,206.5L543.1,207.0L543.3,206.9L543.5,207.2L543.7,207.2L543.9,207.6L544.1,206.6L544.3,207.5L544.5,207.3L544.7,206.7L544.8,206.6L545.0,207.1L545.2,208.0L545.4,206.6L545.6,206.7L545.8,207.6L546.0,206.4L546.2,207.2L546.4,207.5L546.5,206.8L546.7,206.9L546.9,206.7L547.1,207.7L547.3,205.8L547.5,207.2L547.7,207.7L547.9,206.5L548.0,207.0L548.2,206.6L548.4,207.0L548.6,206.9L548.8,206.7L549.0,207.2L549.2,206.4L549.4,207.1L549.6,207.3L549.7,206.8L549.9,206.6L550.1,206.9L550.3,207.3L550.5,206.5L550.7,207.8L550.9,207.4L551.1,206.8L551.3,207.5L551.4,206.8L551.6,206.8L551.8,206.3L552.0,207.3L552.2,207.1L552.4,206.6L552.6,208.1L552.8,205.0L552.9,207.1L553.1,207.2L553.3,206.3L553.5,206.8L553.7,207.7L553.9,206.4L554.1,206.3L554.3,207.0L554.5,206.9L554.6,206.5L554.8,207.2L555.0,206.5L555.2,206.6L555.4,207.1L555.6,207.5L555.8,206.8L556.0,207.2L556.2,206.1L556.3,206.6L556.5,206.3L556.7,206.6L556.9,206.5L557.1,207.1L557.3,206.3L557.5,205.7L557.7,206.8L557.9,207.0L558.0,206.7L558.2,206.9L558.4,207.0L558.6,206.6L558.8,206.8L559.0,205.8L559.2,206.6L559.4,206.4L559.5,206.1L559.7,206.8L559.9,205.8L560.1,207.0L560.3,207.0L560.5,206.8L560.7,206.7L560.9,207.4L561.1,206.6L561.2,207.5L561.4,205.8L561.6,206.6L561.8,206.9L562.0,207.1L562.2,206.8L562.4,206.7L562.6,207.1L562.8,207.0L562.9,206.6L563.1,206.8L563.3,206.0L563.5,205.9L563.7,206.5L563.9,206.3L564.1,207.2L564.3,206.1L564.4,206.5L564.6,206.2L564.8,205.6L565.0,207.7L565.2,206.3L565.4,207.1L565.6,206.1L565.8,207.2L566.0,206.7L566.1,206.3L566.3,206.1L566.5,206.4L566.7,206.9L566.9,206.7L567.1,205.9L567.3,206.4L567.5,207.3L567.7,205.9L567.8,206.2L568.0,205.9L568.2,206.6L568.4,205.9L568.6,207.0L568.8,206.1L569.0,206.6L569.2,206.0L569.3,205.8L569.5,206.8L569.7,206.4L569.9,206.3L570.1,205.7L570.3,205.9L570.5,207.0L570.7,206.1L570.9,205.9L571.0,205.1L571.2,207.2L571.4,206.6L571.6,205.6L571.8,207.0L572.0,206.9L572.2,206.0L572.4,205.7L572.6,206.6L572.7,206.0L572.9,206.2L573.1,205.4L573.3,206.2L573.5,205.7L573.7,206.7L573.9,206.3L574.1,206.3L574.2,205.6L574.4,205.9L574.6,206.6L574.8,205.8L575.0,205.8L575.2,206.2L575.4,206.3L575.6,206.3L575.8,207.1L575.9,206.0L576.1,206.0L576.3,206.6L576.5,205.7L576.7,206.9L576.9,206.4L577.1,206.4L577.3,205.0L577.5,207.0L577.6,205.8L577.8,205.6L578.0,205.9L578.2,205.4L578.4,206.6L578.6,207.3L578.8,205.6L579.0,206.7L579.2,206.2L579.3,206.7L579.5,205.4L579.7,205.5L579.9,206.4L580.1,205.5L580.3,205.9L580.5,206.1L580.7,206.0L580.8,206.1L581.0,205.6L581.2,205.8L581.4,206.2L581.6,205.4L581.8,206.3L582.0,205.8L582.2,205.7L582.4,205.1L582.5,206.2L582.7,205.0L582.9,205.8L583.1,206.0L583.3,206.3L583.5,205.6L583.7,205.9L583.9,206.5L584.1,206.5L584.2,206.2L584.4,206.2L584.6,205.2L584.8,205.1L585.0,205.4L585.2,205.6L585.4,206.1L585.6,205.8L585.7,205.3L585.9,204.6L586.1,205.3L586.3,205.9L586.5,205.8L586.7,206.0L586.9,206.2L587.1,205.9L587.3,205.6L587.4,204.7L587.6,205.7L587.8,205.0L588.0,204.7L588.2,205.7L588.4,204.8L588.6,205.3L588.8,205.9L589.0,205.5L589.1,205.7L589.3,205.8L589.5,205.8L589.7,205.6L589.9,205.4L590.1,206.1L590.3,205.6L590.5,206.5L590.6,205.5L590.8,205.3L591.0,205.5L591.2,205.5L591.4,205.3L591.6,206.0L591.8,205.7L592.0,205.3L592.2,205.0L592.3,205.4L592.5,204.2L592.7,205.6L592.9,205.0L593.1,204.8L593.3,205.6L593.5,206.0L593.7,206.2L593.9,205.4L594.0,204.9L594.2,205.4L594.4,205.4L594.6,205.7L594.8,205.2L595.0,206.7L595.2,205.3L595.4,205.4L595.5,206.2L595.7,204.2L595.9,206.2L596.1,206.0L596.3,206.1L596.5,204.8L596.7,205.9L596.9,205.0L597.1,205.1L597.2,205.3L597.4,206.1L597.6,205.7L597.8,204.5L598.0,206.1L598.2,205.8L598.4,205.4L598.6,204.9L598.8,205.2L598.9,204.9L599.1,205.9L599.3,204.8L599.5,205.0L599.7,206.2L599.9,204.5L600.1,204.0L600.3,205.7L600.5,205.3L600.6,204.5L600.8,206.1L601.0,206.4L601.2,206.0L601.4,205.6L601.6,205.6L601.8,204.9L602.0,205.1L602.1,205.9L602.3,204.9L602.5,204.2L602.7,204.6L602.9,204.7L603.1,205.2L603.3,204.6L603.5,205.7L603.7,204.8L603.8,205.2L604.0,204.5L604.2,204.9L604.4,205.8L604.6,205.1L604.8,204.5L605.0,205.8L605.2,205.4L605.4,205.5L605.5,205.9L605.7,204.6L605.9,204.4L606.1,204.7L606.3,205.0L606.5,205.1L606.7,205.0L606.9,205.5L607.0,204.6L607.2,204.5L607.4,204.5L607.6,205.3L607.8,205.0L608.0,205.1L608.2,204.0L608.4,204.9L608.6,206.1L608.7,204.8L608.9,204.0L609.1,204.6L609.3,204.5L609.5,205.0L609.7,206.1L609.9,206.0L610.1,205.7L610.3,205.0L610.4,204.8L610.6,204.6L610.8,205.1L611.0,204.4L611.2,205.1L611.4,205.3L611.6,204.5L611.8,205.4L611.9,206.4L612.1,205.5L612.3,204.9L612.5,206.6L612.7,205.1L612.9,205.1L613.1,205.7L613.3,205.7L613.5,205.1L613.6,205.2L613.8,204.2L614.0,204.7L614.2,205.7L614.4,205.3L614.6,204.5L614.8,203.8L615.0,204.6L615.2,204.7L615.3,203.8L615.5,204.8L615.7,205.0L615.9,205.6L616.1,205.1L616.3,203.6L616.5,205.6L616.7,204.8L616.9,205.6L617.0,204.7L617.2,204.3L617.4,204.9L617.6,204.4L617.8,204.4L618.0,204.5L618.2,203.8L618.4,204.3L618.5,204.9L618.7,205.1L618.9,205.2L619.1,204.5L619.3,204.9L619.5,203.2L619.7,203.7L619.9,204.8L620.1,204.9L620.2,203.8L620.4,205.7L620.6,205.0L620.8,204.2L621.0,205.2L621.2,205.0L621.4,204.9L621.6,204.3L621.8,204.6L621.9,204.5L622.1,204.3L622.3,204.6L622.5,204.0L622.7,205.1L622.9,205.4L623.1,205.6L623.3,205.5L623.4,204.9L623.6,204.1L623.8,204.5L624.0,205.0L624.2,205.2L624.4,204.9L624.6,204.8L624.8,204.9L625.0,205.4L625.1,204.9L625.3,204.0L625.5,205.8L625.7,204.7L625.9,205.8L626.1,204.5L626.3,205.0L626.5,205.7L626.7,204.5L626.8,203.6L627.0,204.5L627.2,203.9L627.4,204.6L627.6,205.7L627.8,204.3L628.0,204.8L628.2,205.4L628.3,204.1L628.5,204.4L628.7,204.8L628.9,204.1L629.1,205.0L629.3,204.2L629.5,205.0L629.7,204.2L629.9,205.1L630.0,203.7L630.2,204.4L630.4,203.7L630.6,205.0L630.8,204.8L631.0,204.0L631.2,206.0L631.4,205.1L631.6,203.9L631.7,204.2L631.9,203.9L632.1,204.6L632.3,204.2L632.5,204.9L632.7,205.2L632.9,205.4L633.1,204.8L633.2,204.8L633.4,204.8L633.6,206.4L633.8,205.5L634.0,204.7L634.2,204.3L634.4,204.8L634.6,204.9L634.8,205.7L634.9,203.3L635.1,205.0L635.3,203.5L635.5,203.5L635.7,204.3L635.9,204.7L636.1,204.3L636.3,205.0L636.5,204.3L636.6,204.4L636.8,204.1L637.0,203.9L637.2,203.4L637.4,204.6L637.6,203.8L637.8,204.8L638.0,204.9L638.2,204.7L638.3,204.9L638.5,203.8L638.7,203.8L638.9,203.6L639.1,204.4L639.3,204.2L639.5,204.7L639.7,205.0L639.8,204.1L640.0,204.2L640.2,204.9L640.4,204.0L640.6,205.3L640.8,204.4L641.0,204.7L641.2,204.6L641.4,204.9L641.5,203.8L641.7,204.0L641.9,203.6L642.1,204.2L642.3,205.0L642.5,204.5L642.7,204.9L642.9,204.0L643.1,203.6L643.2,204.1L643.4,204.6L643.6,204.5L643.8,204.2L644.0,205.1L644.2,204.2L644.4,204.2L644.6,204.6L644.7,204.5L644.9,204.2L645.1,204.7L645.3,204.7L645.5,203.8L645.7,204.1L645.9,203.3L646.1,204.8L646.3,205.2L646.4,203.7L646.6,203.7L646.8,204.6L647.0,205.0L647.2,204.2L647.4,205.2L647.6,204.4L647.8,205.4L648.0,204.3L648.1,205.4L648.3,204.3L648.5,203.4L648.7,204.3L648.9,203.8L649.1,204.5L649.3,204.7L649.5,205.0L649.6,203.6L649.8,204.2L650.0,203.3L650.2,204.8L650.4,204.3L650.6,204.1L650.8,203.4L651.0,203.2L651.2,204.5L651.3,204.8L651.5,205.1L651.7,203.4L651.9,204.2L652.1,204.5L652.3,204.2L652.5,205.5L652.7,205.1L652.9,203.6L653.0,203.9L653.2,204.0L653.4,204.7L653.6,203.8L653.8,203.1L654.0,204.8L654.2,204.1L654.4,204.3L654.6,203.9L654.7,204.1L654.9,204.2L655.1,204.6L655.3,204.1L655.5,204.4L655.7,204.1L655.9,204.1L656.1,203.7L656.2,204.4L656.4,204.2L656.6,203.5L656.8,204.2L657.0,204.2L657.2,203.6L657.4,203.9L657.6,204.0L657.8,203.9L657.9,204.7L658.1,203.8L658.3,203.3L658.5,203.7L658.7,204.9L658.9,203.8L659.1,204.5L659.3,204.1L659.5,203.9L659.6,204.6L659.8,203.2L660.0,204.0L660.2,203.5L660.4,203.6L660.6,203.2L660.8,203.3L661.0,204.8L661.1,203.9L661.3,205.1L661.5,204.2L661.7,203.5L661.9,203.4L662.1,203.2L662.3,204.1L662.5,203.7L662.7,203.8L662.8,203.2L663.0,203.0L663.2,204.1L663.4,201.8L663.6,203.9L663.8,204.1L664.0,203.5L664.2,203.4L664.4,203.5L664.5,204.2L664.7,203.0L664.9,203.8L665.1,203.0L665.3,203.1L665.5,204.5L665.7,204.4L665.9,204.4L666.0,203.7L666.2,203.8L666.4,203.6L666.6,204.2L666.8,203.5L667.0,203.0L667.2,204.5L667.4,203.9L667.6,203.6L667.7,203.8L667.9,203.9L668.1,202.8L668.3,203.0L668.5,203.3L668.7,204.1L668.9,202.5L669.1,203.5L669.3,204.0L669.4,203.9L669.6,204.0L669.8,202.5L670.0,203.6L670.2,203.6L670.4,204.9L670.6,203.3L670.8,204.2L671.0,204.3L671.1,203.3L671.3,204.1L671.5,203.2L671.7,203.0L671.9,204.6L672.1,203.7L672.3,204.5L672.5,203.6L672.6,203.1L672.8,204.3L673.0,202.6L673.2,203.7L673.4,204.2L673.6,203.6L673.8,203.1L674.0,204.3L674.2,203.5L674.3,204.3L674.5,202.9L674.7,203.4L674.9,203.7L675.1,202.9L675.3,204.2L675.5,203.7L675.7,202.5L675.9,203.5L676.0,202.7L676.2,203.4L676.4,203.8L676.6,203.6L676.8,203.4L677.0,203.7L677.2,203.9L677.4,203.9L677.5,204.2L677.7,203.3L677.9,203.2L678.1,203.0L678.3,204.4L678.5,202.9L678.7,203.4L678.9,204.2L679.1,203.3L679.2,202.9L679.4,203.1L679.6,202.9L679.8,202.8L680.0,202.8L680.2,203.3L680.4,204.5L680.6,203.7L680.8,203.1L680.9,203.5L681.1,202.9L681.3,202.8L681.5,203.2L681.7,202.2L681.9,203.8L682.1,202.7L682.3,203.5L682.4,203.6L682.6,202.9L682.8,203.5L683.0,202.7L683.2,203.8L683.4,203.1L683.6,203.6L683.8,203.3L684.0,203.3L684.1,203.8L684.3,202.8L684.5,203.8L684.7,203.6L684.9,202.6L685.1,202.5L685.3,202.7L685.5,202.9L685.7,201.8L685.8,203.7L686.0,203.5L686.2,203.6L686.4,202.5L686.6,202.9L686.8,202.4L687.0,202.5L687.2,203.1L687.3,203.4L687.5,203.5L687.7,201.7L687.9,202.4L688.1,202.6L688.3,203.1L688.5,203.0L688.7,203.1L688.9,203.1L689.0,204.2L689.2,202.9L689.4,203.1L689.6,202.7L689.8,202.7L690.0,202.4L690.2,202.8L690.4,202.4L690.6,204.2L690.7,203.4L690.9,201.8L691.1,203.4L691.3,202.8L691.5,113.7L691.7,26.1L691.9,25.2L692.1,26.4L692.3,26.7L692.4,26.4L692.6,26.6L692.8,45.2L693.0,81.7L693.2,100.9L693.4,92.5L693.6,70.2L693.8,51.5L693.9,42.2L694.1,43.0L694.3,45.6L694.5,48.1L694.7,49.7L694.9,51.7L695.1,54.2L695.3,56.4L695.5,59.1L695.6,60.5L695.8,59.5L696.0,57.3L696.2,49.3L696.4,41.6L696.6,37.7L696.8,39.6L697.0,39.9L697.2,41.1L697.3,42.4L697.5,46.2L697.7,49.4L697.9,56.2L698.1,59.4L698.3,63.1L698.5,64.5L698.7,63.0L698.8,55.4L699.0,48.2L699.2,40.1L699.4,33.5L699.6,30.7L699.8,29.9L700.0,29.4L700.2,30.8L700.4,29.8L700.5,29.0L700.7,29.3L700.9,29.1L701.1,30.2L701.3,29.7L701.5,33.4L701.7,35.9L701.9,39.3L702.1,43.3L702.2,48.1L702.4,51.3L702.6,54.5L702.8,55.3L703.0,52.7L703.2,48.9L703.4,43.1L703.6,37.7L703.7,31.7L703.9,28.4L704.1,28.8L704.3,28.5L704.5,27.3L704.7,28.0L704.9,28.2L705.1,28.6L705.3,28.3L705.4,28.0L705.6,27.1L705.8,28.1L706.0,26.7L706.2,28.2L706.4,27.8L706.6,27.2L706.8,27.7L707.0,28.0L707.1,27.6L707.3,27.3L707.5,28.5L707.7,27.6L707.9,27.6L708.1,27.7L708.3,27.1L708.5,27.8L708.6,27.7L708.8,27.6L709.0,27.5L709.2,28.5L709.4,28.2L709.6,30.2L709.8,29.7L710.0,31.6L710.2,31.9L710.3,32.2L710.5,31.6L710.7,32.5L710.9,33.1L711.1,31.7L711.3,31.7L711.5,31.0L711.7,29.2L711.9,28.3L712.0,26.9L712.2,27.1L712.4,26.3L712.6,26.2L712.8,26.4L713.0,26.6L713.2,26.9L713.4,26.1L713.6,26.5L713.7,26.3L713.9,26.8L714.1,26.6L714.3,27.1L714.5,26.5L714.7,26.1L714.9,26.5L715.1,26.1L715.2,26.4L715.4,25.8L715.6,26.7L715.8,27.5L716.0,26.3L716.2,26.7L716.4,27.1L716.6,26.2L716.8,26.4L716.9,26.3L717.1,26.7L717.3,26.5L717.5,26.4L717.7,25.6L717.9,26.9L718.1,26.6L718.3,26.4L718.5,27.5L718.6,27.4L718.8,25.4L719.0,27.5L719.2,26.2L719.4,27.0L719.6,27.0L719.8,27.7L720.0,27.1L720.1,26.1L720.3,27.3L720.5,26.2L720.7,26.4L720.9,25.4L721.1,26.8L721.3,25.9L721.5,26.1L721.7,26.7L721.8,27.5L722.0,25.7L722.2,27.3L722.4,26.8L722.6,26.1L722.8,25.9L723.0,27.0L723.2,26.6L723.4,26.7L723.5,25.9L723.7,25.2L723.9,27.6L724.1,26.1L724.3,28.1L724.5,26.6L724.7,27.2L724.9,25.5L725.0,26.5L725.2,27.0L725.4,26.8L725.6,26.9L725.8,26.5L726.0,26.6L726.2,26.2L726.4,25.7L726.6,26.2L726.7,27.2L726.9,27.5L727.1,27.0L727.3,26.0L727.5,26.7L727.7,26.9L727.9,26.5L728.1,27.3L728.3,27.2L728.4,26.3L728.6,26.7L728.8,26.8L729.0,26.4L729.2,26.9L729.4,26.9L729.6,26.8L729.8,26.2L730.0,26.5L730.1,27.2L730.3,26.7L730.5,26.2L730.7,25.5L730.9,27.2L731.1,26.4L731.3,26.7L731.5,26.1L731.6,26.3L731.8,25.7L732.0,26.3L732.2,26.9L732.4,26.9L732.6,26.3L732.8,26.3L733.0,25.2L733.2,25.6L733.3,27.2L733.5,26.4L733.7,27.3L733.9,27.5L734.1,26.1L734.3,26.3L734.5,27.1L734.7,25.7L734.9,27.1L735.0,27.2L735.2,26.2L735.4,26.4L735.6,26.6L735.8,26.6L736.0,26.4L736.2,26.6L736.4,26.7L736.5,27.6L736.7,27.3L736.9,26.2L737.1,26.9L737.3,26.3L737.5,25.9L737.7,26.8L737.9,26.4L738.1,25.4L738.2,26.2L738.4,25.5L738.6,25.7L738.8,26.1L739.0,26.6L739.2,27.0L739.4,27.2L739.6,26.3L739.8,26.3L739.9,26.7L740.1,26.1L740.3,26.9L740.5,25.9L740.7,26.5L740.9,26.6L741.1,26.6L741.3,26.6L741.4,25.2L741.6,27.4L741.8,26.5L742.0,25.9L742.2,26.2L742.4,26.7L742.6,25.6" stroke="#000" stroke-width="1.4" fill="none" stroke-linejoin="round"/>
<path d="M501.3,205.5L501.7,205.9L502.1,205.8L502.4,206.8L502.8,204.7L503.2,205.0L503.6,205.8L503.9,205.2L504.3,205.5L504.7,205.9L505.1,205.1L505.4,205.7L505.8,205.8L506.2,206.0L506.6,205.4L507.0,205.6L507.3,205.3L507.7,205.9L508.1,205.5L508.5,206.0L508.8,205.2L509.2,205.5L509.6,205.4L510.0,205.4L510.3,206.1L510.7,205.2L511.1,204.6L511.5,206.4L511.9,206.5L512.2,206.3L512.6,205.2L513.0,205.5L513.4,205.1L513.7,205.2L514.1,205.5L514.5,205.5L514.9,205.7L515.2,205.2L515.6,206.2L516.0,205.8L516.4,205.5L516.8,204.7L517.1,206.0L517.5,206.1L517.9,205.9L518.3,205.1L518.6,205.7L519.0,204.9L519.4,206.5L519.8,205.0L520.1,205.1L520.5,206.3L520.9,205.5L521.3,205.0L521.7,205.5L522.0,205.1L522.4,204.4L522.8,205.5L523.2,205.7L523.5,206.0L523.9,205.3L524.3,205.7L524.7,205.7L525.1,205.6L525.4,205.3L525.8,206.1L526.2,206.4L526.6,206.8L526.9,205.0L527.3,205.6L527.7,204.8L528.1,205.6L528.4,206.0L528.8,205.4L529.2,205.6L529.6,206.2L530.0,206.0L530.3,204.7L530.7,205.4L531.1,205.4L531.5,205.7L531.8,205.9L532.2,205.1L532.6,205.6L533.0,206.0L533.3,205.7L533.7,206.0L534.1,205.5L534.5,205.0L534.9,206.0L535.2,204.9L535.6,205.9L536.0,205.5L536.4,206.0L536.7,205.7L537.1,205.6L537.5,205.8L537.9,205.9L538.2,206.3L538.6,206.5L539.0,209.5L539.4,207.9L539.8,206.7L540.1,205.4L540.5,204.7L540.9,201.4L541.3,202.4L541.6,201.7L542.0,197.5L542.4,199.0L542.8,195.0L543.1,195.4L543.5,192.2L543.9,193.1L544.3,188.3L544.7,188.1L545.0,187.7L545.4,183.6L545.8,183.5L546.2,183.2L546.5,183.0L546.9,181.1L547.3,180.2L547.7,178.2L548.0,177.1L548.4,177.7L548.8,176.6L549.2,175.6L549.6,175.5L549.9,173.7L550.3,172.1L550.7,170.3L551.1,168.6L551.4,170.0L551.8,167.6L552.2,167.7L552.6,163.9L552.9,165.3L553.3,163.7L553.7,164.2L554.1,163.1L554.5,160.9L554.8,160.5L555.2,158.6L555.6,159.7L556.0,156.1L556.3,156.7L556.7,152.6L557.1,153.7L557.5,151.0L557.9,152.5L558.2,149.3L558.6,149.6L559.0,147.9L559.4,146.2L559.7,145.4L560.1,143.5L560.5,141.8L560.9,140.8L561.2,140.5L561.6,140.8L562.0,139.1L562.4,137.4L562.8,138.5L563.1,134.3L563.5,134.5L563.9,133.6L564.3,131.4L564.6,130.8L565.0,130.4L565.4,130.9L565.8,128.7L566.1,127.8L566.5,128.4L566.9,125.5L567.3,125.3L567.7,127.3L568.0,124.2L568.4,125.0L568.8,121.6L569.2,121.3L569.5,122.7L569.9,121.7L570.3,119.9L570.7,119.6L571.0,116.9L571.4,117.1L571.8,117.5L572.2,115.8L572.6,118.0L572.9,114.7L573.3,113.4L573.7,113.9L574.1,113.8L574.4,111.8L574.8,109.7L575.2,111.1L575.6,112.0L575.9,108.7L576.3,111.9L576.7,108.8L577.1,109.6L577.5,107.5L577.8,109.1L578.2,106.3L578.6,107.0L579.0,108.9L579.3,108.8L579.7,106.6L580.1,104.5L580.5,105.4L580.8,105.1L581.2,105.2L581.6,103.8L582.0,103.8L582.4,103.6L582.7,104.7L583.1,102.0L583.5,101.5L583.9,104.2L584.2,99.9L584.6,101.4L585.0,102.4L585.4,103.7L585.7,100.6L586.1,100.5L586.5,101.5L586.9,102.5L587.3,99.0L587.6,100.7L588.0,100.3L588.4,96.4L588.8,96.9L589.1,98.0L589.5,99.3L589.9,97.8L590.3,100.8L590.6,97.9L591.0,98.7L591.4,99.0L591.8,99.1L592.2,96.6L592.5,96.8L592.9,96.5L593.3,95.6L593.7,97.2L594.0,97.4L594.4,97.8L594.8,96.0L595.2,94.6L595.5,95.4L595.9,94.3L596.3,96.1L596.7,95.2L597.1,95.3L597.4,95.6L597.8,92.0L598.2,92.9L598.6,94.5L598.9,94.3L599.3,93.3L599.7,94.7L600.1,92.4L600.5,94.1L600.8,92.9L601.2,93.5L601.6,92.7L602.0,93.4L602.3,93.5L602.7,92.7L603.1,92.2L603.5,91.6L603.8,91.0L604.2,89.2L604.6,89.8L605.0,90.8L605.4,89.6L605.7,91.0L606.1,88.4L606.5,89.3L606.9,91.2L607.2,88.7L607.6,88.5L608.0,92.1L608.4,89.8L608.7,89.4L609.1,90.8L609.5,89.7L609.9,89.4L610.3,87.6L610.6,87.7L611.0,84.9L611.4,88.1L611.8,86.2L612.1,87.3L612.5,86.9L612.9,88.3L613.3,89.0L613.6,87.5L614.0,85.7L614.4,84.6L614.8,85.5L615.2,85.5L615.5,86.8L615.9,84.0L616.3,84.0L616.7,85.9L617.0,85.2L617.4,86.1L617.8,83.2L618.2,84.2L618.5,84.6L618.9,83.9L619.3,83.7L619.7,84.5L620.1,85.2L620.4,85.1L620.8,85.4L621.2,82.8L621.6,80.7L621.9,84.9L622.3,82.7L622.7,82.3L623.1,83.6L623.4,82.2L623.8,83.4L624.2,80.7L624.6,82.6L625.0,81.7L625.3,80.9L625.7,81.9L626.1,83.3L626.5,81.7L626.8,80.2L627.2,81.0L627.6,80.5L628.0,81.8L628.3,80.3L628.7,79.5L629.1,80.1L629.5,77.9L629.9,80.1L630.2,80.9L630.6,81.5L631.0,78.3L631.4,79.5L631.7,78.2L632.1,78.7L632.5,77.3L632.9,77.5L633.2,79.2L633.6,78.4L634.0,77.4L634.4,79.8L634.8,76.7L635.1,76.9L635.5,77.0L635.9,78.2L636.3,77.5L636.6,79.0L637.0,77.6L637.4,78.2L637.8,77.3L638.2,77.9L638.5,76.9L638.9,75.8L639.3,78.4L639.7,75.9L640.0,79.0L640.4,79.1L640.8,76.7L641.2,76.4L641.5,75.9L641.9,78.1L642.3,76.2L642.7,75.9L643.1,74.6L643.4,75.9L643.8,75.1L644.2,76.7L644.6,75.7L644.9,75.9L645.3,74.6L645.7,76.3L646.1,76.1L646.4,74.4L646.8,73.0L647.2,74.4L647.6,74.4L648.0,75.0L648.3,73.3L648.7,73.8L649.1,72.4L649.5,73.9L649.8,75.2L650.2,74.7L650.6,75.0L651.0,75.2L651.3,72.4L651.7,72.8L652.1,74.9L652.5,71.5L652.9,73.1L653.2,74.3L653.6,72.8L654.0,73.2L654.4,73.8L654.7,75.0L655.1,72.8L655.5,72.4L655.9,75.5L656.2,71.9L656.6,71.7L657.0,72.8L657.4,72.1L657.8,72.4L658.1,73.0L658.5,72.3L658.9,70.3L659.3,73.3L659.6,71.4L660.0,71.3L660.4,72.2L660.8,71.8L661.1,72.8L661.5,72.1L661.9,71.0L662.3,70.5L662.7,71.8L663.0,67.3L663.4,71.2L663.8,70.3L664.2,70.6L664.5,70.7L664.9,68.7L665.3,70.5L665.7,68.4L666.0,68.5L666.4,70.8L666.8,68.4L667.2,70.1L667.6,66.2L667.9,69.6L668.3,70.1L668.7,71.0L669.1,70.2L669.4,69.3L669.8,69.6L670.2,69.8L670.6,69.1L671.0,68.4L671.3,66.4L671.7,69.8L672.1,68.4L672.5,68.7L672.8,69.2L673.2,68.8L673.6,68.3L674.0,66.4L674.3,67.3L674.7,67.6L675.1,66.2L675.5,66.4L675.9,66.9L676.2,66.1L676.6,67.3L677.0,65.6L677.4,65.7L677.7,66.6L678.1,67.4L678.5,64.2L678.9,65.7L679.2,62.4L679.6,66.4L680.0,64.6L680.4,65.9L680.8,65.1L681.1,64.4L681.5,66.1L681.9,65.2L682.3,64.9L682.6,64.9L683.0,64.3L683.4,63.7L683.8,63.9L684.1,64.4L684.5,65.1L684.9,65.9L685.3,65.4L685.7,65.1L686.0,63.7L686.4,64.9L686.8,65.8L687.2,63.7L687.5,65.2L687.9,65.2L688.3,64.6L688.7,63.8L689.0,67.0L689.4,65.5L689.8,64.1L690.2,64.7L690.6,65.2L690.9,48.8L691.3,29.6L691.7,30.0L692.1,27.4L692.4,26.3L692.8,27.0L693.2,25.5L693.6,26.2L693.9,26.3L694.3,26.9L694.7,24.7L695.1,26.1L695.5,26.2L695.8,26.9L696.2,23.6L696.6,24.8L697.0,25.8L697.3,26.4L697.7,27.3L698.1,25.3L698.5,25.3L698.8,27.2L699.2,24.4L699.6,24.8L700.0,26.7L700.4,26.3L700.7,26.1L701.1,25.5L701.5,25.8L701.9,27.4L702.2,24.0L702.6,25.3L703.0,24.2L703.4,24.3L703.7,25.9L704.1,25.3L704.5,24.8L704.9,24.8L705.3,25.8L705.6,26.3L706.0,25.6L706.4,26.5L706.8,26.3L707.1,27.9L707.5,25.5L707.9,26.8L708.3,26.3L708.6,25.7L709.0,25.3L709.4,23.6L709.8,25.4L710.2,27.2L710.5,25.5L710.9,26.3L711.3,25.2L711.7,26.4L712.0,26.4L712.4,26.2L712.8,26.3L713.2,27.7L713.6,26.4L713.9,25.7L714.3,24.3L714.7,26.0L715.1,26.1L715.4,25.0L715.8,25.0L716.2,23.9L716.6,25.0L716.9,25.7L717.3,24.2L717.7,24.0L718.1,26.2L718.5,25.5L718.8,27.5L719.2,26.0L719.6,26.6L720.0,25.9L720.3,26.2L720.7,25.8L721.1,25.8L721.5,25.1L721.8,25.4L722.2,26.3L722.6,27.1L723.0,24.3L723.4,24.1L723.7,26.1L724.1,25.0L724.5,27.3L724.9,27.4L725.2,25.9L725.6,24.0L726.0,26.8L726.4,26.6L726.7,23.9L727.1,27.7L727.5,24.9L727.9,25.1L728.3,25.9L728.6,25.4L729.0,22.7L729.4,26.9L729.8,26.0L730.1,25.9L730.5,26.4L730.9,27.1L731.3,23.9L731.6,25.4L732.0,27.6L732.4,26.4L732.8,25.2L733.2,25.2L733.5,27.2L733.9,25.7L734.3,25.4L734.7,25.2L735.0,25.2L735.4,27.7L735.8,23.6L736.2,25.4L736.5,23.6L736.9,22.5L737.3,25.8L737.7,27.0L738.1,24.7L738.4,25.8L738.8,26.1L739.2,26.8L739.6,23.8L739.9,26.1L740.3,27.2L740.7,26.1L741.1,26.9L741.4,25.5L741.8,26.1L742.2,26.8L742.6,25.0" stroke="#f00" stroke-width="1.4" fill="none" stroke-linejoin="round"/>
<path d="M501.3,204.6L501.7,206.9L502.1,205.4L502.4,205.9L502.8,205.8L503.2,205.7L503.6,206.6L503.9,205.7L504.3,206.0L504.7,203.9L505.1,205.5L505.4,205.8L505.8,205.7L506.2,205.9L506.6,206.1L507.0,205.8L507.3,205.4L507.7,205.7L508.1,205.1L508.5,205.7L508.8,205.6L509.2,204.8L509.6,205.3L510.0,205.8L510.3,205.7L510.7,205.3L511.1,204.6L511.5,205.7L511.9,205.7L512.2,205.1L512.6,206.0L513.0,205.7L513.4,205.2L513.7,205.3L514.1,205.5L514.5,205.3L514.9,207.0L515.2,205.1L515.6,206.1L516.0,206.4L516.4,205.5L516.8,205.2L517.1,205.8L517.5,206.1L517.9,205.6L518.3,205.6L518.6,204.9L519.0,205.2L519.4,205.5L519.8,205.0L520.1,205.7L520.5,206.1L520.9,205.3L521.3,205.3L521.7,205.7L522.0,206.0L522.4,205.5L522.8,206.8L523.2,205.2L523.5,205.3L523.9,206.4L524.3,205.6L524.7,206.1L525.1,205.2L525.4,206.6L525.8,206.0L526.2,205.2L526.6,205.0L526.9,206.7L527.3,205.8L527.7,205.4L528.1,205.9L528.4,204.8L528.8,206.2L529.2,205.4L529.6,206.1L530.0,204.9L530.3,205.6L530.7,205.8L531.1,206.4L531.5,204.8L531.8,205.2L532.2,205.2L532.6,205.0L533.0,205.4L533.3,205.9L533.7,206.0L534.1,206.0L534.5,204.9L534.9,206.3L535.2,205.9L535.6,205.8L536.0,205.5L536.4,205.3L536.7,206.2L537.1,206.5L537.5,205.6L537.9,205.0L538.2,204.8L538.6,205.4L539.0,208.2L539.4,207.3L539.8,207.3L540.1,205.3L540.5,206.0L540.9,203.6L541.3,202.2L541.6,199.7L542.0,198.2L542.4,193.6L542.8,192.6L543.1,190.5L543.5,192.2L543.9,188.2L544.3,186.5L544.7,183.3L545.0,184.6L545.4,179.0L545.8,177.3L546.2,178.2L546.5,176.0L546.9,174.0L547.3,171.2L547.7,168.6L548.0,165.2L548.4,165.8L548.8,162.8L549.2,161.5L549.6,157.8L549.9,156.9L550.3,154.3L550.7,155.0L551.1,151.9L551.4,150.6L551.8,146.0L552.2,144.8L552.6,143.7L552.9,141.6L553.3,138.3L553.7,137.3L554.1,135.3L554.5,131.4L554.8,127.0L555.2,127.7L555.6,125.9L556.0,124.5L556.3,122.5L556.7,118.2L557.1,115.6L557.5,114.3L557.9,111.9L558.2,110.4L558.6,108.9L559.0,109.6L559.4,107.4L559.7,105.9L560.1,106.1L560.5,105.0L560.9,104.6L561.2,103.4L561.6,101.5L562.0,102.3L562.4,101.4L562.8,99.8L563.1,99.5L563.5,97.8L563.9,101.4L564.3,97.6L564.6,98.5L565.0,97.2L565.4,95.9L565.8,95.0L566.1,94.5L566.5,95.0L566.9,92.8L567.3,94.4L567.7,93.7L568.0,92.1L568.4,93.1L568.8,89.6L569.2,90.4L569.5,88.6L569.9,90.5L570.3,90.5L570.7,89.4L571.0,88.3L571.4,89.4L571.8,87.9L572.2,87.9L572.6,85.7L572.9,87.8L573.3,85.6L573.7,87.1L574.1,87.1L574.4,86.5L574.8,86.6L575.2,84.8L575.6,83.5L575.9,84.2L576.3,83.3L576.7,81.9L577.1,83.1L577.5,82.9L577.8,83.1L578.2,84.3L578.6,81.4L579.0,83.9L579.3,80.9L579.7,81.4L580.1,79.9L580.5,80.9L580.8,81.5L581.2,79.9L581.6,80.7L582.0,80.0L582.4,79.5L582.7,79.5L583.1,79.3L583.5,79.8L583.9,78.9L584.2,80.8L584.6,78.4L585.0,79.3L585.4,76.5L585.7,76.2L586.1,79.5L586.5,77.0L586.9,77.1L587.3,77.9L587.6,76.0L588.0,76.9L588.4,78.2L588.8,76.4L589.1,76.0L589.5,75.6L589.9,76.9L590.3,74.7L590.6,74.4L591.0,76.3L591.4,75.6L591.8,74.8L592.2,75.2L592.5,72.5L592.9,74.1L593.3,75.3L593.7,74.9L594.0,73.9L594.4,71.2L594.8,73.8L595.2,73.3L595.5,72.8L595.9,73.2L596.3,70.5L596.7,73.5L597.1,72.0L597.4,72.5L597.8,71.8L598.2,73.7L598.6,70.3L598.9,72.2L599.3,71.9L599.7,72.8L600.1,72.4L600.5,70.9L600.8,70.3L601.2,70.4L601.6,69.7L602.0,70.1L602.3,70.7L602.7,69.7L603.1,69.8L603.5,70.4L603.8,69.4L604.2,68.6L604.6,69.6L605.0,70.1L605.4,68.8L605.7,67.3L606.1,69.5L606.5,69.2L606.9,69.1L607.2,67.5L607.6,70.7L608.0,68.1L608.4,67.0L608.7,69.1L609.1,66.4L609.5,67.3L609.9,68.4L610.3,67.4L610.6,69.2L611.0,67.9L611.4,65.2L611.8,68.0L612.1,64.8L612.5,66.8L612.9,65.5L613.3,66.4L613.6,68.8L614.0,66.8L614.4,65.8L614.8,67.1L615.2,67.2L615.5,65.2L615.9,66.1L616.3,67.1L616.7,65.9L617.0,64.0L617.4,65.4L617.8,63.7L618.2,62.9L618.5,64.4L618.9,65.5L619.3,65.6L619.7,64.0L620.1,62.9L620.4,63.4L620.8,63.0L621.2,63.9L621.6,63.0L621.9,63.7L622.3,63.4L622.7,64.4L623.1,64.5L623.4,63.2L623.8,63.8L624.2,63.5L624.6,61.5L625.0,62.3L625.3,58.8L625.7,60.9L626.1,62.5L626.5,60.8L626.8,61.1L627.2,62.2L627.6,60.1L628.0,62.0L628.3,64.4L628.7,60.1L629.1,61.5L629.5,59.1L629.9,61.3L630.2,61.8L630.6,58.7L631.0,61.5L631.4,59.9L631.7,58.5L632.1,59.8L632.5,59.9L632.9,59.6L633.2,58.7L633.6,60.4L634.0,58.7L634.4,58.7L634.8,56.6L635.1,59.5L635.5,60.0L635.9,58.1L636.3,59.3L636.6,58.4L637.0,58.5L637.4,57.2L637.8,59.2L638.2,58.4L638.5,61.1L638.9,59.1L639.3,56.4L639.7,58.7L640.0,58.6L640.4,59.1L640.8,57.0L641.2,57.4L641.5,58.8L641.9,56.7L642.3,57.0L642.7,56.4L643.1,57.8L643.4,55.1L643.8,56.5L644.2,57.0L644.6,57.3L644.9,57.0L645.3,55.6L645.7,56.8L646.1,55.2L646.4,55.7L646.8,54.8L647.2,55.3L647.6,56.1L648.0,58.1L648.3,55.6L648.7,54.9L649.1,55.5L649.5,55.0L649.8,56.1L650.2,55.9L650.6,56.4L651.0,53.8L651.3,55.0L651.7,55.7L652.1,56.5L652.5,55.1L652.9,53.3L653.2,54.3L653.6,55.5L654.0,53.0L654.4,52.9L654.7,53.3L655.1,53.5L655.5,53.0L655.9,53.5L656.2,53.2L656.6,54.8L657.0,52.2L657.4,53.5L657.8,51.5L658.1,55.9L658.5,52.7L658.9,52.3L659.3,53.7L659.6,52.7L660.0,52.3L660.4,52.4L660.8,53.6L661.1,53.1L661.5,51.7L661.9,51.3L662.3,52.6L662.7,52.5L663.0,52.3L663.4,51.4L663.8,53.6L664.2,53.9L664.5,52.2L664.9,53.5L665.3,52.9L665.7,52.1L666.0,51.6L666.4,53.3L666.8,51.2L667.2,54.0L667.6,51.4L667.9,53.7L668.3,53.3L668.7,51.2L669.1,52.3L669.4,52.7L669.8,52.3L670.2,51.2L670.6,51.7L671.0,51.7L671.3,50.5L671.7,52.4L672.1,52.1L672.5,52.1L672.8,50.2L673.2,50.3L673.6,50.0L674.0,51.4L674.3,51.5L674.7,50.3L675.1,51.6L675.5,50.2L675.9,50.3L676.2,51.8L676.6,51.0L677.0,51.0L677.4,48.9L677.7,47.9L678.1,50.8L678.5,50.6L678.9,53.0L679.2,50.2L679.6,50.4L680.0,51.4L680.4,49.3L680.8,51.8L681.1,50.2L681.5,49.7L681.9,51.1L682.3,48.7L682.6,48.3L683.0,50.9L683.4,50.8L683.8,48.4L684.1,49.0L684.5,50.1L684.9,48.9L685.3,48.6L685.7,48.4L686.0,47.2L686.4,47.5L686.8,45.7L687.2,46.0L687.5,46.5L687.9,45.9L688.3,45.4L688.7,45.8L689.0,47.7L689.4,45.2L689.8,45.8L690.2,40.4L690.6,34.8L690.9,28.7L691.3,27.9L691.7,25.6L692.1,26.5L692.4,26.5L692.8,25.6L693.2,26.2L693.6,25.5L693.9,25.6L694.3,25.3L694.7,23.5L695.1,26.1L695.5,25.6L695.8,25.9L696.2,24.9L696.6,26.9L697.0,26.4L697.3,25.7L697.7,25.0L698.1,25.7L698.5,26.2L698.8,26.6L699.2,25.1L699.6,24.0L700.0,25.3L700.4,25.4L700.7,25.1L701.1,26.7L701.5,26.0L701.9,25.9L702.2,25.3L702.6,25.7L703.0,27.0L703.4,24.4L703.7,23.8L704.1,25.9L704.5,25.2L704.9,25.3L705.3,24.8L705.6,27.3L706.0,23.9L706.4,26.2L706.8,24.2L707.1,25.6L707.5,26.1L707.9,25.8L708.3,24.6L708.6,26.6L709.0,26.1L709.4,26.2L709.8,27.5L710.2,24.2L710.5,25.0L710.9,25.7L711.3,24.4L711.7,26.7L712.0,25.7L712.4,23.7L712.8,24.6L713.2,28.1L713.6,29.3L713.9,26.8L714.3,24.5L714.7,26.2L715.1,25.9L715.4,25.0L715.8,26.6L716.2,25.4L716.6,24.8L716.9,25.1L717.3,25.2L717.7,26.3L718.1,25.1L718.5,26.1L718.8,24.2L719.2,22.8L719.6,26.5L720.0,28.0L720.3,26.1L720.7,25.2L721.1,24.5L721.5,24.4L721.8,26.5L722.2,26.5L722.6,24.2L723.0,26.8L723.4,24.4L723.7,25.9L724.1,24.8L724.5,24.9L724.9,24.8L725.2,24.7L725.6,26.7L726.0,25.3L726.4,25.6L726.7,25.3L727.1,24.3L727.5,25.9L727.9,26.4L728.3,26.4L728.6,26.0L729.0,24.8L729.4,26.5L729.8,24.4L730.1,25.3L730.5,25.9L730.9,27.1L731.3,25.4L731.6,24.9L732.0,27.6L732.4,24.3L732.8,23.8L733.2,25.3L733.5,25.1L733.9,23.0L734.3,24.3L734.7,26.6L735.0,25.7L735.4,25.8L735.8,25.8L736.2,28.3L736.5,24.8L736.9,26.3L737.3,25.5L737.7,25.8L738.1,24.7L738.4,26.0L738.8,26.5L739.2,25.1L739.6,24.1L739.9,26.0L740.3,24.1L740.7,25.4L741.1,26.2L741.4,24.0L741.8,26.5L742.2,24.5L742.6,26.2" stroke="#00f" stroke-width="1.4" fill="none" stroke-linejoin="round"/>
<path d="M501.3,205.9L501.7,205.7L502.1,204.8L502.4,205.3L502.8,206.4L503.2,205.6L503.6,205.9L503.9,205.5L504.3,206.4L504.7,205.5L505.1,205.5L505.4,204.8L505.8,205.4L506.2,205.3L506.6,206.3L507.0,204.5L507.3,206.5L507.7,205.0L508.1,205.8L508.5,206.0L508.8,205.9L509.2,205.9L509.6,205.4L510.0,205.6L510.3,204.9L510.7,206.5L511.1,205.6L511.5,206.0L511.9,205.2L512.2,206.6L512.6,205.8L513.0,205.5L513.4,206.3L513.7,205.1L514.1,205.5L514.5,205.1L514.9,205.1L515.2,206.1L515.6,206.0L516.0,205.7L516.4,205.2L516.8,205.2L517.1,205.9L517.5,205.9L517.9,206.0L518.3,205.9L518.6,205.7L519.0,205.7L519.4,204.6L519.8,205.8L520.1,205.7L520.5,205.4L520.9,206.1L521.3,205.8L521.7,205.6L522.0,205.2L522.4,206.2L522.8,204.9L523.2,205.8L523.5,205.5L523.9,205.2L524.3,205.3L524.7,205.1L525.1,205.5L525.4,205.6L525.8,205.4L526.2,206.1L526.6,205.0L526.9,206.0L527.3,206.2L527.7,204.6L528.1,205.7L528.4,206.2L528.8,204.7L529.2,205.8L529.6,205.1L530.0,206.0L530.3,205.7L530.7,206.4L531.1,206.5L531.5,206.1L531.8,205.6L532.2,205.2L532.6,204.4L533.0,206.1L533.3,205.1L533.7,205.9L534.1,205.7L534.5,206.3L534.9,206.3L535.2,206.0L535.6,206.2L536.0,205.6L536.4,205.9L536.7,205.0L537.1,205.5L537.5,205.5L537.9,205.0L538.2,205.0L538.6,205.6L539.0,207.9L539.4,207.4L539.8,204.5L540.1,202.4L540.5,199.6L540.9,195.3L541.3,192.4L541.6,186.5L542.0,183.6L542.4,175.3L542.8,171.4L543.1,166.2L543.5,160.7L543.9,156.8L544.3,152.9L544.7,147.2L545.0,144.1L545.4,140.8L545.8,134.7L546.2,132.5L546.5,124.2L546.9,121.8L547.3,117.3L547.7,110.8L548.0,107.2L548.4,106.1L548.8,102.6L549.2,99.7L549.6,97.3L549.9,97.6L550.3,95.8L550.7,93.1L551.1,92.8L551.4,90.9L551.8,89.9L552.2,90.7L552.6,89.3L552.9,90.2L553.3,86.6L553.7,84.0L554.1,85.8L554.5,82.4L554.8,81.9L555.2,82.4L555.6,81.7L556.0,80.9L556.3,81.4L556.7,80.1L557.1,79.3L557.5,78.0L557.9,77.3L558.2,78.5L558.6,76.3L559.0,77.6L559.4,76.5L559.7,75.5L560.1,75.5L560.5,75.2L560.9,74.4L561.2,74.9L561.6,74.7L562.0,73.8L562.4,72.1L562.8,73.0L563.1,70.4L563.5,71.9L563.9,75.1L564.3,71.9L564.6,69.3L565.0,70.7L565.4,70.9L565.8,71.0L566.1,68.2L566.5,68.2L566.9,68.1L567.3,68.0L567.7,66.5L568.0,66.8L568.4,68.7L568.8,66.0L569.2,66.3L569.5,66.2L569.9,64.9L570.3,65.3L570.7,68.1L571.0,62.8L571.4,63.0L571.8,63.9L572.2,63.7L572.6,62.7L572.9,64.0L573.3,61.8L573.7,62.0L574.1,61.8L574.4,62.0L574.8,61.4L575.2,59.1L575.6,58.4L575.9,59.0L576.3,59.2L576.7,59.8L577.1,57.7L577.5,56.3L577.8,59.5L578.2,56.1L578.6,59.5L579.0,57.1L579.3,56.0L579.7,57.6L580.1,57.4L580.5,55.2L580.8,54.2L581.2,55.4L581.6,53.0L582.0,55.1L582.4,52.0L582.7,53.5L583.1,53.1L583.5,52.4L583.9,52.4L584.2,50.4L584.6,49.7L585.0,51.3L585.4,51.8L585.7,52.6L586.1,51.9L586.5,50.8L586.9,50.6L587.3,50.3L587.6,50.0L588.0,49.2L588.4,50.9L588.8,50.3L589.1,47.7L589.5,47.7L589.9,49.0L590.3,46.7L590.6,48.7L591.0,48.0L591.4,49.5L591.8,46.3L592.2,47.0L592.5,45.6L592.9,45.7L593.3,46.2L593.7,45.9L594.0,44.5L594.4,45.8L594.8,45.5L595.2,45.1L595.5,44.0L595.9,43.7L596.3,42.4L596.7,44.3L597.1,42.6L597.4,44.6L597.8,43.0L598.2,43.3L598.6,41.4L598.9,42.4L599.3,43.5L599.7,42.2L600.1,42.3L600.5,42.9L600.8,42.8L601.2,43.4L601.6,39.2L602.0,42.0L602.3,41.0L602.7,43.3L603.1,43.1L603.5,41.9L603.8,41.9L604.2,40.7L604.6,42.6L605.0,40.8L605.4,39.7L605.7,42.2L606.1,40.1L606.5,42.1L606.9,40.6L607.2,40.5L607.6,38.9L608.0,41.5L608.4,40.5L608.7,39.4L609.1,41.8L609.5,40.5L609.9,41.3L610.3,41.1L610.6,39.5L611.0,39.4L611.4,37.2L611.8,38.5L612.1,38.5L612.5,40.1L612.9,40.2L613.3,39.6L613.6,42.2L614.0,37.8L614.4,40.3L614.8,40.7L615.2,40.0L615.5,38.4L615.9,38.0L616.3,39.7L616.7,38.8L617.0,39.3L617.4,40.2L617.8,38.9L618.2,39.0L618.5,40.7L618.9,37.7L619.3,40.6L619.7,38.6L620.1,39.9L620.4,39.6L620.8,39.5L621.2,37.9L621.6,40.0L621.9,38.8L622.3,36.8L622.7,39.2L623.1,38.4L623.4,37.6L623.8,39.0L624.2,37.7L624.6,38.9L625.0,37.4L625.3,38.1L625.7,39.1L626.1,36.5L626.5,38.1L626.8,38.3L627.2,38.9L627.6,38.4L628.0,37.9L628.3,37.6L628.7,36.5L629.1,39.1L629.5,38.0L629.9,36.3L630.2,37.3L630.6,37.0L631.0,35.7L631.4,37.0L631.7,36.8L632.1,37.4L632.5,35.3L632.9,36.1L633.2,38.0L633.6,36.6L634.0,38.4L634.4,35.9L634.8,36.3L635.1,37.2L635.5,37.4L635.9,38.9L636.3,36.0L636.6,37.0L637.0,37.2L637.4,36.0L637.8,37.5L638.2,37.4L638.5,37.4L638.9,38.1L639.3,33.9L639.7,36.8L640.0,36.9L640.4,35.5L640.8,39.9L641.2,36.5L641.5,36.4L641.9,37.4L642.3,35.8L642.7,38.5L643.1,36.3L643.4,35.3L643.8,38.7L644.2,37.8L644.6,36.4L644.9,36.2L645.3,36.9L645.7,35.7L646.1,35.8L646.4,37.6L646.8,36.2L647.2,37.5L647.6,38.3L648.0,38.7L648.3,34.8L648.7,36.1L649.1,33.8L649.5,37.5L649.8,36.3L650.2,35.5L650.6,36.0L651.0,35.2L651.3,35.6L651.7,36.4L652.1,38.3L652.5,36.7L652.9,33.7L653.2,34.7L653.6,34.0L654.0,36.2L654.4,35.7L654.7,36.4L655.1,35.0L655.5,35.3L655.9,34.8L656.2,33.3L656.6,36.2L657.0,34.4L657.4,36.7L657.8,33.9L658.1,35.6L658.5,35.2L658.9,34.9L659.3,33.2L659.6,35.0L660.0,35.5L660.4,36.2L660.8,34.6L661.1,35.8L661.5,35.4L661.9,34.8L662.3,34.0L662.7,35.5L663.0,34.0L663.4,32.7L663.8,36.3L664.2,33.1L664.5,32.2L664.9,35.2L665.3,33.9L665.7,36.1L666.0,34.1L666.4,34.9L666.8,34.1L667.2,35.5L667.6,35.4L667.9,34.9L668.3,35.2L668.7,35.1L669.1,34.6L669.4,35.6L669.8,34.5L670.2,33.8L670.6,36.9L671.0,34.1L671.3,35.1L671.7,35.5L672.1,35.7L672.5,35.2L672.8,35.0L673.2,33.8L673.6,35.6L674.0,33.0L674.3,35.0L674.7,33.4L675.1,32.9L675.5,35.4L675.9,32.9L676.2,31.6L676.6,34.4L677.0,33.3L677.4,34.0L677.7,33.7L678.1,34.0L678.5,34.3L678.9,32.9L679.2,32.7L679.6,33.6L680.0,31.9L680.4,32.4L680.8,32.7L681.1,34.3L681.5,31.3L681.9,31.9L682.3,35.7L682.6,34.5L683.0,33.8L683.4,32.2L683.8,31.8L684.1,33.4L684.5,32.8L684.9,32.2L685.3,34.3L685.7,32.2L686.0,33.1L686.4,32.5L686.8,32.7L687.2,33.9L687.5,33.6L687.9,32.4L688.3,32.2L688.7,32.6L689.0,31.1L689.4,32.6L689.8,33.4L690.2,32.3L690.6,31.8L690.9,31.3L691.3,26.5L691.7,24.2L692.1,23.6L692.4,24.0L692.8,24.9L693.2,23.6L693.6,25.0L693.9,24.4L694.3,25.8L694.7,24.6L695.1,25.1L695.5,24.3L695.8,22.7L696.2,22.1L696.6,23.6L697.0,24.7L697.3,23.8L697.7,24.5L698.1,25.4L698.5,24.8L698.8,25.0L699.2,25.4L699.6,23.2L700.0,25.3L700.4,25.3L700.7,23.9L701.1,25.5L701.5,26.0L701.9,25.7L702.2,24.2L702.6,24.3L703.0,24.4L703.4,25.2L703.7,25.7L704.1,23.7L704.5,26.3L704.9,24.9L705.3,26.2L705.6,25.2L706.0,24.9L706.4,23.4L706.8,27.9L707.1,23.2L707.5,25.7L707.9,24.4L708.3,23.8L708.6,25.6L709.0,24.8L709.4,24.2L709.8,24.8L710.2,25.5L710.5,24.5L710.9,24.6L711.3,26.4L711.7,23.2L712.0,24.5L712.4,27.4L712.8,25.6L713.2,22.8L713.6,23.0L713.9,24.4L714.3,26.6L714.7,25.0L715.1,23.5L715.4,24.3L715.8,25.1L716.2,25.5L716.6,23.8L716.9,24.9L717.3,24.4L717.7,24.2L718.1,22.9L718.5,24.5L718.8,24.4L719.2,26.7L719.6,23.5L720.0,23.7L720.3,24.7L720.7,27.2L721.1,25.4L721.5,24.7L721.8,22.4L722.2,24.1L722.6,23.9L723.0,23.8L723.4,23.3L723.7,26.0L724.1,25.7L724.5,26.1L724.9,25.1L725.2,25.2L725.6,24.7L726.0,25.9L726.4,24.7L726.7,25.7L727.1,22.4L727.5,25.4L727.9,22.0L728.3,23.0L728.6,26.1L729.0,23.7L729.4,24.1L729.8,26.5L730.1,24.1L730.5,24.9L730.9,24.4L731.3,25.8L731.6,24.9L732.0,24.4L732.4,25.0L732.8,25.5L733.2,25.0L733.5,25.9L733.9,24.5L734.3,27.7L734.7,23.2L735.0,24.8L735.4,24.4L735.8,23.9L736.2,26.3L736.5,22.4L736.9,26.1L737.3,24.4L737.7,24.6L738.1,23.5L738.4,24.9L738.8,26.5L739.2,24.6L739.6,27.7L739.9,25.2L740.3,25.5L740.7,23.2L741.1,25.3L741.4,25.5L741.8,25.8L742.2,25.9L742.6,25.6" stroke="#f0f" stroke-width="1.4" fill="none" stroke-linejoin="round"/>
<path d="M501.3,206.1L501.7,206.4L502.1,205.7L502.4,205.3L502.8,204.9L503.2,205.5L503.6,205.9L503.9,206.0L504.3,205.2L504.7,204.6L505.1,205.4L505.4,206.3L505.8,206.1L506.2,204.7L506.6,205.5L507.0,206.6L507.3,205.6L507.7,206.3L508.1,206.0L508.5,205.9L508.8,206.0L509.2,205.3L509.6,205.6L510.0,205.9L510.3,205.4L510.7,205.1L511.1,206.5L511.5,205.7L511.9,206.2L512.2,205.7L512.6,206.3L513.0,205.6L513.4,205.6L513.7,205.8L514.1,206.2L514.5,205.8L514.9,206.2L515.2,206.4L515.6,205.5L516.0,206.2L516.4,204.9L516.8,205.2L517.1,206.7L517.5,205.4L517.9,206.2L518.3,205.6L518.6,205.6L519.0,206.7L519.4,205.7L519.8,205.7L520.1,205.0L520.5,206.3L520.9,205.2L521.3,206.2L521.7,205.8L522.0,206.1L522.4,204.8L522.8,205.3L523.2,204.2L523.5,205.2L523.9,205.1L524.3,205.1L524.7,205.9L525.1,205.6L525.4,204.8L525.8,205.8L526.2,205.5L526.6,205.6L526.9,205.2L527.3,205.8L527.7,205.7L528.1,205.5L528.4,205.5L528.8,206.1L529.2,205.1L529.6,206.3L530.0,206.3L530.3,206.3L530.7,205.0L531.1,205.8L531.5,206.2L531.8,206.3L532.2,205.3L532.6,206.2L533.0,206.3L533.3,205.2L533.7,206.3L534.1,205.8L534.5,205.6L534.9,205.9L535.2,205.6L535.6,204.8L536.0,205.9L536.4,206.3L536.7,206.7L537.1,205.7L537.5,205.8L537.9,205.4L538.2,206.2L538.6,206.2L539.0,208.7L539.4,207.9L539.8,205.5L540.1,203.8L540.5,199.9L540.9,193.7L541.3,191.1L541.6,188.9L542.0,179.5L542.4,175.8L542.8,172.0L543.1,164.1L543.5,159.9L543.9,155.6L544.3,150.8L544.7,146.4L545.0,139.6L545.4,132.5L545.8,128.3L546.2,121.4L546.5,113.8L546.9,112.6L547.3,106.0L547.7,103.0L548.0,101.2L548.4,99.0L548.8,95.8L549.2,93.4L549.6,93.0L549.9,90.7L550.3,88.4L550.7,87.7L551.1,85.7L551.4,85.1L551.8,84.0L552.2,81.3L552.6,82.0L552.9,81.7L553.3,80.1L553.7,81.4L554.1,79.9L554.5,77.7L554.8,77.3L555.2,75.4L555.6,76.8L556.0,78.1L556.3,73.2L556.7,73.7L557.1,76.0L557.5,72.3L557.9,73.6L558.2,75.4L558.6,73.1L559.0,72.7L559.4,69.4L559.7,72.0L560.1,70.7L560.5,70.1L560.9,69.6L561.2,69.7L561.6,67.7L562.0,66.0L562.4,66.0L562.8,67.4L563.1,67.1L563.5,64.9L563.9,65.3L564.3,64.6L564.6,65.4L565.0,60.1L565.4,60.8L565.8,62.6L566.1,59.6L566.5,58.4L566.9,62.6L567.3,59.6L567.7,58.7L568.0,56.6L568.4,56.9L568.8,56.3L569.2,55.4L569.5,52.2L569.9,51.1L570.3,53.9L570.7,53.7L571.0,48.4L571.4,52.5L571.8,51.4L572.2,50.1L572.6,49.0L572.9,47.7L573.3,48.1L573.7,49.2L574.1,46.9L574.4,46.8L574.8,44.2L575.2,46.2L575.6,47.5L575.9,46.7L576.3,43.1L576.7,45.3L577.1,47.0L577.5,44.8L577.8,43.8L578.2,42.0L578.6,44.6L579.0,42.2L579.3,41.8L579.7,43.5L580.1,42.6L580.5,39.9L580.8,39.8L581.2,40.7L581.6,41.2L582.0,40.0L582.4,41.4L582.7,41.2L583.1,42.0L583.5,40.8L583.9,40.7L584.2,36.9L584.6,40.6L585.0,38.5L585.4,38.3L585.7,40.1L586.1,38.2L586.5,42.4L586.9,39.3L587.3,38.2L587.6,42.2L588.0,40.5L588.4,37.5L588.8,39.1L589.1,40.0L589.5,38.9L589.9,39.0L590.3,37.2L590.6,37.5L591.0,38.3L591.4,38.6L591.8,37.7L592.2,35.8L592.5,36.9L592.9,36.4L593.3,37.3L593.7,38.7L594.0,37.8L594.4,35.9L594.8,36.5L595.2,37.7L595.5,38.5L595.9,36.2L596.3,36.7L596.7,36.6L597.1,36.5L597.4,35.6L597.8,35.5L598.2,34.5L598.6,34.5L598.9,33.9L599.3,34.5L599.7,35.9L600.1,35.5L600.5,34.7L600.8,35.7L601.2,34.5L601.6,33.7L602.0,36.1L602.3,37.3L602.7,33.4L603.1,34.9L603.5,33.9L603.8,36.5L604.2,32.5L604.6,33.7L605.0,34.8L605.4,35.0L605.7,34.4L606.1,34.7L606.5,34.8L606.9,35.8L607.2,32.7L607.6,34.3L608.0,34.1L608.4,34.0L608.7,37.2L609.1,33.4L609.5,34.4L609.9,34.4L610.3,33.8L610.6,35.1L611.0,32.8L611.4,34.7L611.8,34.9L612.1,34.8L612.5,33.5L612.9,32.7L613.3,34.4L613.6,35.5L614.0,32.1L614.4,34.9L614.8,31.9L615.2,33.5L615.5,34.3L615.9,34.2L616.3,32.7L616.7,32.1L617.0,33.5L617.4,32.0L617.8,30.5L618.2,33.4L618.5,34.6L618.9,34.4L619.3,34.8L619.7,33.8L620.1,33.9L620.4,34.6L620.8,32.2L621.2,36.2L621.6,34.5L621.9,30.2L622.3,31.4L622.7,32.0L623.1,32.1L623.4,30.4L623.8,31.9L624.2,32.5L624.6,34.1L625.0,32.6L625.3,33.4L625.7,33.4L626.1,33.3L626.5,32.4L626.8,32.8L627.2,31.2L627.6,34.0L628.0,32.5L628.3,29.8L628.7,32.1L629.1,30.6L629.5,30.6L629.9,30.4L630.2,31.1L630.6,33.8L631.0,32.3L631.4,32.4L631.7,33.9L632.1,32.5L632.5,33.5L632.9,34.0L633.2,31.5L633.6,31.8L634.0,32.6L634.4,32.9L634.8,32.4L635.1,32.1L635.5,32.1L635.9,31.6L636.3,32.1L636.6,31.0L637.0,30.8L637.4,31.0L637.8,32.3L638.2,32.2L638.5,30.8L638.9,31.6L639.3,31.4L639.7,34.5L640.0,34.7L640.4,30.8L640.8,30.8L641.2,29.4L641.5,30.2L641.9,30.8L642.3,31.1L642.7,32.9L643.1,29.9L643.4,31.8L643.8,30.3L644.2,30.7L644.6,30.6L644.9,29.7L645.3,31.5L645.7,31.3L646.1,31.9L646.4,31.3L646.8,28.6L647.2,31.2L647.6,29.2L648.0,29.6L648.3,29.7L648.7,29.6L649.1,31.9L649.5,30.1L649.8,28.5L650.2,31.4L650.6,30.6L651.0,31.4L651.3,30.0L651.7,31.8L652.1,28.3L652.5,30.9L652.9,32.3L653.2,28.0L653.6,29.0L654.0,29.6L654.4,29.6L654.7,30.7L655.1,30.5L655.5,29.2L655.9,29.0L656.2,28.9L656.6,29.8L657.0,30.7L657.4,30.3L657.8,28.6L658.1,28.1L658.5,30.4L658.9,30.5L659.3,28.3L659.6,28.9L660.0,28.9L660.4,31.5L660.8,30.3L661.1,30.4L661.5,29.5L661.9,31.9L662.3,28.0L662.7,29.3L663.0,29.1L663.4,31.1L663.8,29.6L664.2,27.8L664.5,31.5L664.9,29.1L665.3,28.5L665.7,30.3L666.0,28.3L666.4,29.8L666.8,27.7L667.2,28.6L667.6,29.0L667.9,26.7L668.3,28.1L668.7,27.5L669.1,30.7L669.4,30.0L669.8,28.0L670.2,27.9L670.6,29.1L671.0,28.0L671.3,30.3L671.7,28.7L672.1,30.4L672.5,28.4L672.8,29.5L673.2,29.6L673.6,28.7L674.0,26.4L674.3,30.0L674.7,29.5L675.1,27.3L675.5,29.2L675.9,26.3L676.2,28.3L676.6,28.4L677.0,28.1L677.4,26.3L677.7,27.6L678.1,27.8L678.5,28.1L678.9,30.4L679.2,29.5L679.6,26.4L680.0,27.3L680.4,27.7L680.8,27.5L681.1,29.0L681.5,27.8L681.9,29.4L682.3,27.7L682.6,29.1L683.0,28.4L683.4,27.5L683.8,28.5L684.1,27.3L684.5,27.5L684.9,27.6L685.3,26.3L685.7,29.9L686.0,30.0L686.4,27.2L686.8,26.7L687.2,25.4L687.5,27.0L687.9,26.8L688.3,29.0L688.7,26.9L689.0,27.0L689.4,29.2L689.8,29.0L690.2,28.0L690.6,27.5L690.9,31.6L691.3,27.7L691.7,27.5L692.1,28.0L692.4,27.4L692.8,27.2L693.2,29.1L693.6,27.2L693.9,28.1L694.3,28.9L694.7,27.4L695.1,25.8L695.5,29.6L695.8,29.8L696.2,29.8L696.6,25.1L697.0,28.0L697.3,27.7L697.7,28.6L698.1,28.8L698.5,30.2L698.8,27.4L699.2,27.2L699.6,30.1L700.0,28.9L700.4,28.5L700.7,27.6L701.1,27.2L701.5,26.1L701.9,25.7L702.2,26.1L702.6,25.8L703.0,29.0L703.4,28.2L703.7,26.0L704.1,27.1L704.5,27.4L704.9,30.0L705.3,29.8L705.6,26.5L706.0,27.0L706.4,27.8L706.8,27.9L707.1,29.6L707.5,26.9L707.9,26.0L708.3,25.2L708.6,27.3L709.0,27.6L709.4,28.7L709.8,25.7L710.2,25.1L710.5,28.1L710.9,26.9L711.3,27.2L711.7,28.0L712.0,30.5L712.4,27.7L712.8,26.4L713.2,29.1L713.6,28.3L713.9,31.4L714.3,25.5L714.7,26.5L715.1,27.1L715.4,27.5L715.8,28.0L716.2,27.3L716.6,27.5L716.9,27.5L717.3,27.2L717.7,27.0L718.1,25.1L718.5,29.0L718.8,26.8L719.2,27.9L719.6,28.5L720.0,30.1L720.3,26.3L720.7,28.3L721.1,28.0L721.5,26.4L721.8,28.4L722.2,27.0L722.6,27.1L723.0,26.0L723.4,25.7L723.7,28.1L724.1,25.8L724.5,27.1L724.9,26.8L725.2,27.3L725.6,26.0L726.0,28.5L726.4,26.6L726.7,25.4L727.1,27.3L727.5,24.3L727.9,27.9L728.3,26.6L728.6,27.5L729.0,27.7L729.4,28.3L729.8,27.6L730.1,27.0L730.5,27.9L730.9,25.7L731.3,24.9L731.6,28.8L732.0,25.8L732.4,26.6L732.8,26.5L733.2,23.7L733.5,25.3L733.9,26.4L734.3,26.6L734.7,29.6L735.0,25.8L735.4,27.8L735.8,26.6L736.2,26.7L736.5,25.5L736.9,24.2L737.3,25.5L737.7,25.1L738.1,27.1L738.4,26.2L738.8,25.8L739.2,28.6L739.6,24.1L739.9,27.7L740.3,28.4L740.7,24.6L741.1,24.0L741.4,27.6L741.8,27.5L742.2,22.7L742.6,26.6" stroke="#080" stroke-width="1.4" fill="none" stroke-linejoin="round"/>
</g>
<path d="M501.3,14.2L501.3,208.3" stroke="#3a3a3a" stroke-width="1.2"/>
<path d="M500.8,207.8L738,207.8" stroke="#3a3a3a" stroke-width="1.3"/>
<path d="M497.7,207.8L501.3,207.8" stroke="#333" stroke-width="1.0"/>
<text transform="translate(495.6 209.8) scale(1 1.12)" font-size="7.5" text-anchor="end" fill="#1a1a1a">0,0</text>
<path d="M497.7,171L501.3,171" stroke="#333" stroke-width="1.0"/>
<text transform="translate(495.6 173) scale(1 1.12)" font-size="7.5" text-anchor="end" fill="#1a1a1a">0,2</text>
<path d="M497.7,134.2L501.3,134.2" stroke="#333" stroke-width="1.0"/>
<text transform="translate(495.6 136.2) scale(1 1.12)" font-size="7.5" text-anchor="end" fill="#1a1a1a">0,4</text>
<path d="M497.7,97.4L501.3,97.4" stroke="#333" stroke-width="1.0"/>
<text transform="translate(495.6 99.4) scale(1 1.12)" font-size="7.5" text-anchor="end" fill="#1a1a1a">0,6</text>
<path d="M497.7,60.6L501.3,60.6" stroke="#333" stroke-width="1.0"/>
<text transform="translate(495.6 62.6) scale(1 1.12)" font-size="7.5" text-anchor="end" fill="#1a1a1a">0,8</text>
<path d="M497.7,23.8L501.3,23.8" stroke="#333" stroke-width="1.0"/>
<text transform="translate(495.6 25.8) scale(1 1.12)" font-size="7.5" text-anchor="end" fill="#1a1a1a">1,0</text>
<path d="M499.1,189.4L501.3,189.4" stroke="#333" stroke-width="1.0"/>
<path d="M499.1,152.6L501.3,152.6" stroke="#333" stroke-width="1.0"/>
<path d="M499.1,115.8L501.3,115.8" stroke="#333" stroke-width="1.0"/>
<path d="M499.1,79L501.3,79" stroke="#333" stroke-width="1.0"/>
<path d="M499.1,42.2L501.3,42.2" stroke="#333" stroke-width="1.0"/>
<path d="M499.1,14.6L501.3,14.6" stroke="#333" stroke-width="1.0"/>
<path d="M501.3,207.8L501.3,211.6" stroke="#333" stroke-width="1.0"/>
<text transform="translate(501.3 220.8) scale(1 1.12)" font-size="7.5" text-anchor="middle" fill="#1a1a1a">0</text>
<path d="M539,207.8L539,211.6" stroke="#333" stroke-width="1.0"/>
<text transform="translate(539 220.8) scale(1 1.12)" font-size="7.5" text-anchor="middle" fill="#1a1a1a">100</text>
<path d="M576.7,207.8L576.7,211.6" stroke="#333" stroke-width="1.0"/>
<text transform="translate(576.7 220.8) scale(1 1.12)" font-size="7.5" text-anchor="middle" fill="#1a1a1a">200</text>
<path d="M614.4,207.8L614.4,211.6" stroke="#333" stroke-width="1.0"/>
<text transform="translate(614.4 220.8) scale(1 1.12)" font-size="7.5" text-anchor="middle" fill="#1a1a1a">300</text>
<path d="M652.1,207.8L652.1,211.6" stroke="#333" stroke-width="1.0"/>
<text transform="translate(652.1 220.8) scale(1 1.12)" font-size="7.5" text-anchor="middle" fill="#1a1a1a">400</text>
<path d="M689.8,207.8L689.8,211.6" stroke="#333" stroke-width="1.0"/>
<text transform="translate(689.8 220.8) scale(1 1.12)" font-size="7.5" text-anchor="middle" fill="#1a1a1a">500</text>
<path d="M727.5,207.8L727.5,211.6" stroke="#333" stroke-width="1.0"/>
<text transform="translate(727.5 220.8) scale(1 1.12)" font-size="7.5" text-anchor="middle" fill="#1a1a1a">600</text>
<path d="M520.15,207.8L520.15,210" stroke="#333" stroke-width="1.0"/>
<path d="M557.85,207.8L557.85,210" stroke="#333" stroke-width="1.0"/>
<path d="M595.55,207.8L595.55,210" stroke="#333" stroke-width="1.0"/>
<path d="M633.25,207.8L633.25,210" stroke="#333" stroke-width="1.0"/>
<path d="M670.95,207.8L670.95,210" stroke="#333" stroke-width="1.0"/>
<path d="M708.65,207.8L708.65,210" stroke="#333" stroke-width="1.0"/>
<text transform="translate(633.7 235.6) scale(1 1.12)" font-size="9.3" text-anchor="middle" fill="#1a1a1a">Time (s)</text>
<text transform="translate(474.2 101.4) rotate(-90) scale(1 1.0)" font-size="9.75" text-anchor="middle" fill="#1a1a1a">Relative Fluorescence</text>
<rect x="503.4" y="7.2" width="73.1" height="41.2" fill="#fff" stroke="#9a9a9a" stroke-width="0.8"/>
<path d="M505.9,12.7L520,12.7" stroke="#000" stroke-width="1.9"/>
<text transform="translate(521.5 14.9) scale(1 1.12)" font-size="6.2" fill="#1a1a1a">NLM, Control</text>
<path d="M505.9,20.62L520,20.62" stroke="#f00" stroke-width="1.9"/>
<text transform="translate(521.5 22.82) scale(1 1.12)" font-size="6.2" fill="#1a1a1a">NLM, 0.13 OCT:LIP</text>
<path d="M505.9,28.54L520,28.54" stroke="#00f" stroke-width="1.9"/>
<text transform="translate(521.5 30.74) scale(1 1.12)" font-size="6.2" fill="#1a1a1a">NLM, 0.19 OCT:LIP</text>
<path d="M505.9,36.46L520,36.46" stroke="#f0f" stroke-width="1.9"/>
<text transform="translate(521.5 38.66) scale(1 1.12)" font-size="6.2" fill="#1a1a1a">NLM, 0.25 OCT:LIP</text>
<path d="M505.9,44.38L520,44.38" stroke="#080" stroke-width="1.9"/>
<text transform="translate(521.5 46.58) scale(1 1.12)" font-size="6.2" fill="#1a1a1a">NLM, 0.31 OCT:LIP</text>
<path d="M58.4,487.6L58.6,487.2L58.9,487.3L59.1,487.7L59.3,487.7L59.6,487.7L59.8,487.4L60.0,487.6L60.2,487.4L60.5,488.1L60.7,487.2L60.9,487.6L61.2,487.4L61.4,487.6L61.6,487.7L61.9,487.5L62.1,487.4L62.3,487.6L62.5,487.6L62.8,487.4L63.0,487.8L63.2,488.0L63.5,487.5L63.7,487.7L63.9,488.1L64.2,487.8L64.4,487.7L64.6,487.9L64.8,488.0L65.1,487.5L65.3,487.3L65.5,487.6L65.8,487.7L66.0,487.4L66.2,487.4L66.5,487.6L66.7,487.4L66.9,487.3L67.1,487.6L67.4,487.8L67.6,487.4L67.8,487.5L68.1,487.2L68.3,487.9L68.5,487.7L68.8,487.8L69.0,488.0L69.2,487.5L69.5,487.4L69.7,487.7L69.9,487.1L70.1,487.3L70.4,487.3L70.6,487.4L70.8,487.3L71.1,487.9L71.3,487.3L71.5,487.3L71.8,488.0L72.0,487.4L72.2,487.6L72.4,487.3L72.7,487.6L72.9,487.5L73.1,487.4L73.4,487.7L73.6,487.3L73.8,487.5L74.1,487.3L74.3,487.6L74.5,487.2L74.7,487.3L75.0,487.5L75.2,487.3L75.4,487.1L75.7,487.0L75.9,487.9L76.1,487.2L76.4,487.3L76.6,487.5L76.8,487.7L77.1,487.1L77.3,487.8L77.5,487.3L77.7,487.1L78.0,487.9L78.2,487.5L78.4,487.8L78.7,487.4L78.9,487.0L79.1,486.9L79.4,487.9L79.6,487.6L79.8,487.2L80.0,487.0L80.3,487.3L80.5,487.6L80.7,487.3L81.0,487.4L81.2,487.5L81.4,487.6L81.7,487.3L81.9,487.3L82.1,487.4L82.3,487.5L82.6,487.8L82.8,487.5L83.0,487.1L83.3,487.5L83.5,487.8L83.7,487.0L84.0,487.3L84.2,486.8L84.4,487.4L84.6,487.5L84.9,487.8L85.1,487.0L85.3,486.7L85.6,487.6L85.8,487.6L86.0,487.2L86.3,487.6L86.5,487.4L86.7,487.5L87.0,487.3L87.2,487.1L87.4,487.4L87.6,487.1L87.9,487.5L88.1,487.3L88.3,487.9L88.6,487.7L88.8,487.1L89.0,487.5L89.3,487.2L89.5,487.2L89.7,487.0L89.9,487.1L90.2,487.1L90.4,487.4L90.6,487.5L90.9,487.5L91.1,487.5L91.3,487.6L91.6,487.5L91.8,487.4L92.0,487.3L92.2,487.4L92.5,487.8L92.7,487.3L92.9,487.3L93.2,487.0L93.4,487.2L93.6,487.5L93.9,487.5L94.1,486.8L94.3,487.1L94.5,486.8L94.8,486.7L95.0,487.5L95.2,487.2L95.5,487.2L95.7,487.1L95.9,487.1L96.2,487.2L96.4,487.2L96.6,487.7L96.9,487.3L97.1,487.5L97.3,487.2L97.5,487.4L97.8,487.1L98.0,487.0L98.2,487.2L98.5,487.2L98.7,487.2L98.9,487.4L99.2,487.3L99.4,487.4L99.6,487.1L99.8,487.2L100.1,487.1L100.3,487.6L100.5,487.0L100.8,487.4L101.0,487.4L101.2,487.3L101.5,487.4L101.7,487.2L101.9,487.4L102.1,487.5L102.4,487.5L102.6,486.9L102.8,487.2L103.1,487.5L103.3,487.2L103.5,488.1L103.8,486.1L104.0,488.1L104.2,486.9L104.5,486.9L104.7,488.1L104.9,487.0L105.1,486.6L105.4,486.9L105.6,487.0L105.8,486.6L106.1,487.1L106.3,487.0L106.5,487.3L106.8,486.8L107.0,487.7L107.2,486.7L107.4,487.5L107.7,487.8L107.9,487.0L108.1,486.2L108.4,486.6L108.6,487.5L108.8,486.7L109.1,487.4L109.3,487.2L109.5,487.1L109.7,488.5L110.0,487.0L110.2,487.8L110.4,487.6L110.7,488.0L110.9,488.0L111.1,487.7L111.4,486.6L111.6,486.1L111.8,487.1L112.0,486.5L112.3,487.3L112.5,488.3L112.7,487.0L113.0,486.9L113.2,487.4L113.4,486.9L113.7,486.8L113.9,487.6L114.1,488.0L114.4,487.2L114.6,487.2L114.8,487.3L115.0,486.5L115.3,486.1L115.5,487.3L115.7,486.7L116.0,486.5L116.2,486.7L116.4,486.5L116.7,487.3L116.9,486.6L117.1,485.9L117.3,486.6L117.6,487.4L117.8,486.7L118.0,486.3L118.3,486.8L118.5,487.4L118.7,486.1L119.0,487.8L119.2,486.8L119.4,487.1L119.6,487.8L119.9,486.3L120.1,486.8L120.3,487.7L120.6,486.7L120.8,487.3L121.0,488.2L121.3,487.4L121.5,486.9L121.7,486.6L121.9,486.9L122.2,487.0L122.4,486.7L122.6,487.1L122.9,486.3L123.1,486.9L123.3,486.8L123.6,486.7L123.8,487.6L124.0,487.4L124.3,486.1L124.5,486.8L124.7,487.2L124.9,486.8L125.2,487.3L125.4,486.8L125.6,487.4L125.9,486.8L126.1,487.9L126.3,486.2L126.6,487.3L126.8,487.9L127.0,487.1L127.2,487.2L127.5,486.9L127.7,487.6L127.9,486.7L128.2,484.8L128.4,487.7L128.6,486.7L128.9,487.1L129.1,486.8L129.3,488.0L129.5,487.6L129.8,486.7L130.0,487.0L130.2,486.0L130.5,487.4L130.7,486.8L130.9,485.2L131.2,487.4L131.4,487.5L131.6,486.9L131.8,486.9L132.1,486.4L132.3,486.8L132.5,487.4L132.8,486.8L133.0,485.3L133.2,486.1L133.5,488.6L133.7,487.0L133.9,487.4L134.2,486.5L134.4,487.0L134.6,485.7L134.8,486.3L135.1,486.3L135.3,486.8L135.5,486.9L135.8,486.7L136.0,486.1L136.2,486.5L136.5,487.1L136.7,486.1L136.9,486.7L137.1,486.9L137.4,487.3L137.6,487.2L137.8,487.2L138.1,488.5L138.3,486.2L138.5,486.5L138.8,487.0L139.0,486.2L139.2,486.6L139.4,486.6L139.7,488.3L139.9,487.0L140.1,486.5L140.4,485.9L140.6,485.7L140.8,486.0L141.1,487.5L141.3,488.1L141.5,486.5L141.8,486.8L142.0,486.2L142.2,486.9L142.4,486.7L142.7,487.7L142.9,486.5L143.1,487.1L143.4,486.6L143.6,486.5L143.8,486.9L144.1,486.6L144.3,486.8L144.5,486.3L144.7,486.5L145.0,487.1L145.2,487.1L145.4,485.7L145.7,486.8L145.9,486.2L146.1,486.5L146.4,487.1L146.6,487.2L146.8,486.7L147.0,486.6L147.3,486.4L147.5,487.5L147.7,487.1L148.0,486.8L148.2,485.8L148.4,488.1L148.7,486.5L148.9,487.0L149.1,486.5L149.3,487.0L149.6,486.5L149.8,485.8L150.0,486.5L150.3,486.4L150.5,486.5L150.7,487.1L151.0,486.4L151.2,486.8L151.4,487.2L151.7,486.7L151.9,486.8L152.1,486.2L152.3,486.7L152.6,487.0L152.8,485.8L153.0,486.1L153.3,485.9L153.5,486.3L153.7,486.7L154.0,486.9L154.2,486.8L154.4,486.1L154.6,486.6L154.9,487.5L155.1,486.7L155.3,487.5L155.6,486.5L155.8,487.4L156.0,487.4L156.3,486.6L156.5,486.7L156.7,487.6L156.9,486.2L157.2,485.3L157.4,487.5L157.6,485.5L157.9,487.0L158.1,486.9L158.3,486.7L158.6,487.5L158.8,485.8L159.0,486.3L159.2,487.0L159.5,486.8L159.7,487.5L159.9,486.8L160.2,486.0L160.4,487.6L160.6,486.8L160.9,486.5L161.1,485.9L161.3,485.8L161.6,486.8L161.8,487.0L162.0,486.3L162.2,486.8L162.5,486.7L162.7,485.9L162.9,485.5L163.2,486.4L163.4,486.6L163.6,486.2L163.9,487.7L164.1,486.5L164.3,487.2L164.5,485.1L164.8,486.1L165.0,486.4L165.2,486.6L165.5,488.0L165.7,486.1L165.9,485.5L166.2,486.9L166.4,486.1L166.6,486.1L166.8,487.4L167.1,485.9L167.3,485.7L167.5,486.3L167.8,486.5L168.0,486.0L168.2,487.4L168.5,486.4L168.7,485.8L168.9,487.2L169.2,485.9L169.4,486.7L169.6,487.7L169.8,486.5L170.1,487.0L170.3,486.2L170.5,487.1L170.8,485.8L171.0,486.9L171.2,486.2L171.5,486.8L171.7,486.6L171.9,485.7L172.1,486.3L172.4,486.6L172.6,487.2L172.8,485.7L173.1,486.0L173.3,486.6L173.5,486.2L173.8,487.0L174.0,487.0L174.2,486.9L174.4,486.2L174.7,486.2L174.9,486.8L175.1,485.9L175.4,485.9L175.6,486.3L175.8,485.7L176.1,486.5L176.3,486.4L176.5,486.1L176.7,486.4L177.0,485.9L177.2,487.1L177.4,485.5L177.7,486.8L177.9,486.4L178.1,487.1L178.4,486.0L178.6,485.5L178.8,485.7L179.1,485.8L179.3,487.2L179.5,486.8L179.7,486.6L180.0,486.8L180.2,485.6L180.4,486.2L180.7,486.3L180.9,486.0L181.1,486.8L181.4,486.8L181.6,486.8L181.8,486.0L182.0,486.1L182.3,485.9L182.5,485.6L182.7,487.1L183.0,486.6L183.2,486.1L183.4,487.0L183.7,486.5L183.9,485.6L184.1,485.6L184.3,485.6L184.6,486.2L184.8,486.3L185.0,485.6L185.3,486.4L185.5,486.0L185.7,485.4L186.0,486.4L186.2,486.6L186.4,486.2L186.6,485.8L186.9,485.9L187.1,486.1L187.3,485.8L187.6,487.1L187.8,486.7L188.0,486.1L188.3,486.7L188.5,487.0L188.7,486.9L189.0,486.7L189.2,486.2L189.4,486.7L189.6,486.0L189.9,485.1L190.1,486.2L190.3,485.4L190.6,485.9L190.8,486.8L191.0,486.3L191.3,486.7L191.5,485.6L191.7,486.8L191.9,485.3L192.2,485.7L192.4,487.3L192.6,485.6L192.9,485.1L193.1,486.5L193.3,485.5L193.6,487.1L193.8,485.9L194.0,487.0L194.2,485.8L194.5,487.1L194.7,487.6L194.9,485.8L195.2,484.7L195.4,486.4L195.6,485.5L195.9,486.0L196.1,486.2L196.3,485.6L196.6,485.0L196.8,486.7L197.0,485.7L197.2,485.8L197.5,486.8L197.7,485.0L197.9,484.8L198.2,486.5L198.4,484.9L198.6,485.9L198.9,486.1L199.1,485.1L199.3,485.8L199.5,485.8L199.8,485.0L200.0,485.2L200.2,485.4L200.5,486.8L200.7,486.9L200.9,485.2L201.2,486.5L201.4,485.8L201.6,486.5L201.8,486.0L202.1,486.7L202.3,484.9L202.5,486.5L202.8,485.9L203.0,486.0L203.2,485.1L203.5,486.7L203.7,485.9L203.9,486.0L204.1,485.5L204.4,485.5L204.6,486.1L204.8,485.7L205.1,486.0L205.3,485.5L205.5,485.9L205.8,486.2L206.0,485.8L206.2,485.6L206.5,484.4L206.7,486.1L206.9,485.6L207.1,484.9L207.4,487.0L207.6,486.8L207.8,486.4L208.1,485.8L208.3,484.3L208.5,485.5L208.8,485.0L209.0,485.8L209.2,487.2L209.4,487.1L209.7,485.1L209.9,485.6L210.1,486.4L210.4,485.0L210.6,486.6L210.8,485.0L211.1,484.8L211.3,486.1L211.5,486.3L211.7,485.1L212.0,486.2L212.2,485.1L212.4,486.3L212.7,485.1L212.9,485.5L213.1,485.8L213.4,486.1L213.6,485.4L213.8,486.7L214.0,485.7L214.3,485.8L214.5,485.1L214.7,486.2L215.0,484.5L215.2,485.7L215.4,486.2L215.7,484.6L215.9,484.5L216.1,485.6L216.4,486.0L216.6,485.4L216.8,485.8L217.0,485.6L217.3,484.5L217.5,485.2L217.7,485.3L218.0,485.2L218.2,485.4L218.4,484.9L218.7,484.8L218.9,485.6L219.1,485.3L219.3,483.9L219.6,485.1L219.8,485.4L220.0,484.1L220.3,485.3L220.5,485.9L220.7,484.9L221.0,485.8L221.2,485.6L221.4,485.0L221.6,485.3L221.9,485.7L222.1,485.5L222.3,485.6L222.6,484.5L222.8,485.6L223.0,485.5L223.3,483.9L223.5,485.5L223.7,484.3L223.9,484.4L224.2,485.2L224.4,486.0L224.6,484.8L224.9,484.7L225.1,484.5L225.3,485.0L225.6,484.4L225.8,484.2L226.0,485.7L226.3,484.2L226.5,484.9L226.7,485.4L226.9,485.2L227.2,483.9L227.4,484.4L227.6,486.1L227.9,484.9L228.1,485.1L228.3,485.1L228.6,485.3L228.8,485.8L229.0,484.4L229.2,485.5L229.5,485.1L229.7,485.3L229.9,485.3L230.2,484.4L230.4,484.6L230.6,485.3L230.9,485.4L231.1,485.1L231.3,484.3L231.5,484.7L231.8,484.7L232.0,485.0L232.2,484.9L232.5,484.7L232.7,485.9L232.9,483.8L233.2,485.2L233.4,485.1L233.6,483.9L233.9,484.6L234.1,484.7L234.3,485.1L234.5,485.6L234.8,484.6L235.0,484.0L235.2,485.2L235.5,483.8L235.7,485.3L235.9,485.1L236.2,484.3L236.4,484.6L236.6,484.2L236.8,485.0L237.1,485.2L237.3,485.7L237.5,485.3L237.8,485.2L238.0,485.4L238.2,484.4L238.5,484.9L238.7,485.7L238.9,483.0L239.1,485.0L239.4,485.2L239.6,483.7L239.8,483.8L240.1,485.2L240.3,485.3L240.5,485.0L240.8,483.8L241.0,484.6L241.2,484.9L241.4,484.4L241.7,483.7L241.9,485.2L242.1,484.6L242.4,485.2L242.6,483.1L242.8,483.3L243.1,483.8L243.3,484.4L243.5,483.9L243.8,485.6L244.0,484.1L244.2,485.1L244.4,485.1L244.7,484.7L244.9,484.5L245.1,483.9L245.4,483.8L245.6,484.1L245.8,484.8L246.1,483.8L246.3,484.3L246.5,483.5L246.7,484.7L247.0,485.8L247.2,484.5L247.4,482.9L247.7,483.9L247.9,484.3L248.1,483.6L248.4,483.8L248.6,483.8L248.8,484.4L249.0,484.0L249.3,484.0L249.5,484.5L249.7,484.7L250.0,484.0L250.2,483.5L250.4,483.6L250.7,483.7L250.9,483.7L251.1,482.5L251.3,483.8L251.6,483.4L251.8,482.8L252.0,483.9L252.3,483.8L252.5,483.3L252.7,482.9L253.0,483.8L253.2,483.7L253.4,483.9L253.7,484.6L253.9,483.2L254.1,484.0L254.3,484.9L254.6,484.0L254.8,484.9L255.0,484.5L255.3,483.8L255.5,484.4L255.7,483.2L256.0,484.7L256.2,483.7L256.4,483.5L256.6,482.9L256.9,483.2L257.1,483.6L257.3,483.7L257.6,483.8L257.8,483.1L258.0,484.1L258.3,483.4L258.5,483.8L258.7,483.6L258.9,483.9L259.2,482.4L259.4,484.1L259.6,483.5L259.9,483.5L260.1,483.3L260.3,483.4L260.6,483.4L260.8,483.1L261.0,484.6L261.3,483.6L261.5,484.4L261.7,483.5L261.9,484.3L262.2,484.2L262.4,483.6L262.6,482.8L262.9,483.2L263.1,483.4L263.3,482.7L263.6,484.1L263.8,484.8L264.0,483.8L264.2,483.7L264.5,482.8L264.7,482.3L264.9,484.3L265.2,482.0L265.4,482.6L265.6,483.0L265.9,483.3L266.1,482.0L266.3,483.4L266.5,483.8L266.8,483.4L267.0,484.3L267.2,483.2L267.5,483.5L267.7,483.3L267.9,483.2L268.2,484.1L268.4,482.7L268.6,484.0L268.8,482.9L269.1,484.4L269.3,483.2L269.5,483.9L269.8,483.4L270.0,483.8L270.2,484.7L270.5,484.1L270.7,483.3L270.9,483.0L271.2,484.3L271.4,484.6L271.6,483.9L271.8,483.5L272.1,483.7L272.3,483.8L272.5,482.8L272.8,482.8L273.0,482.9L273.2,483.9L273.5,483.3L273.7,483.4L273.9,484.2L274.1,482.8L274.4,483.3L274.6,483.6L274.8,482.5L275.1,482.8L275.3,482.8L275.5,482.6L275.8,482.9L276.0,484.0L276.2,483.5L276.4,482.7L276.7,483.7L276.9,483.3L277.1,483.0L277.4,482.4L277.6,482.5L277.8,482.7L278.1,483.4L278.3,482.7L278.5,482.9L278.7,483.3L279.0,482.4L279.2,482.9L279.4,483.7L279.7,482.5L279.9,483.4L280.1,482.9L280.4,484.1L280.6,483.2L280.8,483.8L281.1,483.8L281.3,484.4L281.5,481.9L281.7,483.3L282.0,483.1L282.2,482.6L282.4,483.3L282.7,482.9L282.9,484.0L283.1,483.1L283.4,483.5L283.6,482.9L283.8,483.1L284.0,484.0L284.3,484.3L284.5,483.8L284.7,482.8L285.0,483.0L285.2,483.0L285.4,484.4L285.7,484.8L285.9,483.6L286.1,483.4L286.3,483.6L286.6,483.0L286.8,483.3L287.0,483.9L287.3,483.7L287.5,483.1L287.7,483.2L288.0,483.3L288.2,481.9L288.4,469.2L288.6,433.5L288.9,388.0L289.1,341.5L289.3,305.5L289.6,291.3L289.8,291.7L290.0,291.4L290.3,291.6L290.5,292.7L290.7,293.6L291.0,290.2L291.2,291.1L291.4,291.6L291.6,292.6L291.9,292.4L292.1,290.8L292.3,293.3L292.6,291.8L292.8,291.1L293.0,291.5L293.3,291.1L293.5,291.7L293.7,290.2L293.9,292.2L294.2,292.4L294.4,291.4L294.6,290.7L294.9,291.6L295.1,291.0L295.3,291.9L295.6,292.3L295.8,290.8L296.0,290.7L296.2,290.7L296.5,291.9L296.7,292.3L296.9,292.3L297.2,291.7L297.4,291.2L297.6,293.3L297.9,299.3L298.1,304.8L298.3,311.2L298.6,316.1L298.8,318.2L299.0,314.4L299.2,305.5L299.5,297.4L299.7,293.5L299.9,294.0L300.2,293.4L300.4,293.7L300.6,294.9L300.9,293.4L301.1,293.8L301.3,293.1L301.5,293.8L301.8,293.8L302.0,293.7L302.2,293.9L302.5,294.2L302.7,295.0L302.9,292.9L303.2,295.0L303.4,294.3L303.6,293.8L303.8,294.0L304.1,294.0L304.3,294.0L304.5,293.7L304.8,294.4L305.0,293.0L305.2,295.6L305.5,295.2L305.7,296.0L305.9,296.5L306.1,296.4L306.4,296.1L306.6,297.7L306.8,297.9L307.1,297.2L307.3,297.1L307.5,295.9L307.8,295.9L308.0,295.7L308.2,295.3L308.5,294.2L308.7,293.8L308.9,293.9L309.1,292.7L309.4,292.7L309.6,292.7L309.8,292.9L310.1,291.6L310.3,292.2L310.5,292.0L310.8,293.0L311.0,293.2L311.2,292.8L311.4,292.4L311.7,292.8L311.9,292.7L312.1,292.0L312.4,292.4L312.6,293.2L312.8,292.9L313.1,293.0L313.3,292.5L313.5,293.3L313.7,292.7L314.0,292.2L314.2,292.6L314.4,293.1L314.7,293.0L314.9,292.5L315.1,292.3L315.4,292.1L315.6,292.7L315.8,293.4L316.0,291.7L316.3,292.4L316.5,292.4L316.7,292.4L317.0,293.2L317.2,292.8L317.4,292.4L317.7,292.0L317.9,292.6L318.1,294.5L318.4,292.7L318.6,292.4L318.8,291.8L319.0,292.2L319.3,291.1L319.5,291.7L319.7,291.8L320.0,292.0L320.2,293.4L320.4,292.1L320.7,292.2L320.9,292.9L321.1,292.2L321.3,292.3L321.6,292.9L321.8,292.7L322.0,292.8L322.3,292.5L322.5,292.8L322.7,292.3L323.0,293.7L323.2,292.8L323.4,293.6L323.6,292.9L323.9,292.3L324.1,292.6L324.3,292.7L324.6,292.6L324.8,291.7L325.0,293.3L325.3,292.1L325.5,293.5L325.7,292.9L326.0,292.5L326.2,293.1L326.4,292.5L326.6,292.2L326.9,293.3L327.1,292.6L327.3,292.8L327.6,293.8L327.8,292.7L328.0,293.1L328.3,291.8L328.5,293.1L328.7,291.6L328.9,292.9L329.2,291.4L329.4,292.3L329.6,292.3L329.9,292.1L330.1,292.1L330.3,291.8L330.6,291.6L330.8,292.8L331.0,293.3L331.2,294.2L331.5,292.8L331.7,292.1L331.9,292.4L332.2,292.5L332.4,292.8L332.6,293.0L332.9,292.8L333.1,292.4L333.3,293.7L333.5,292.2L333.8,293.5L334.0,292.7L334.2,293.0L334.5,292.8L334.7,293.2L334.9,293.3L335.2,292.7L335.4,293.2L335.6,291.1L335.9,292.8L336.1,293.0L336.3,292.9L336.5,293.2L336.8,294.1L337.0,292.8L337.2,292.4L337.5,293.5L337.7,292.6L337.9,293.3L338.2,292.6L338.4,292.4L338.6,292.3L338.8,292.3L339.1,293.0L339.3,292.1L339.5,292.9L339.8,292.4L340.0,292.2L340.2,292.8L340.5,293.4L340.7,292.2L340.9,293.3L341.1,293.1L341.4,293.3L341.6,292.1L341.8,292.7L342.1,293.9L342.3,292.2L342.5,291.4L342.8,291.5L343.0,292.9L343.2,292.6L343.4,292.3L343.7,292.1L343.9,292.6L344.1,293.3L344.4,292.1L344.6,292.2L344.8,293.4L345.1,292.8L345.3,292.4L345.5,292.6L345.8,292.3L346.0,292.1L346.2,292.3L346.4,292.7L346.7,293.4L346.9,292.2L347.1,291.8L347.4,291.4L347.6,292.6L347.8,292.6L348.1,291.7L348.3,291.7L348.5,292.4L348.7,292.2L349.0,293.1L349.2,292.3L349.4,293.1L349.7,292.7L349.9,292.7L350.1,292.9L350.4,293.9L350.6,293.1L350.8,292.4L351.0,292.6L351.3,292.8L351.5,292.3L351.7,292.2L352.0,292.1L352.2,293.1L352.4,292.6L352.7,292.8L352.9,293.1L353.1,293.5L353.4,292.7L353.6,293.1L353.8,291.3L354.0,292.7L354.3,292.7L354.5,292.8L354.7,291.5L355.0,293.2L355.2,292.7L355.4,293.1L355.7,292.7L355.9,292.6L356.1,291.9L356.3,293.5L356.6,292.6L356.8,291.6L357.0,292.9L357.3,292.7L357.5,293.1L357.7,294.2" stroke="#000" stroke-width="1.4" fill="none" stroke-linejoin="round"/>
<path d="M58.4,486.8L58.9,486.2L59.3,486.4L59.8,486.4L60.2,485.9L60.7,487.5L61.2,487.1L61.6,487.5L62.1,486.9L62.5,486.3L63.0,486.8L63.5,486.5L63.9,487.8L64.4,486.7L64.8,487.3L65.3,485.8L65.8,486.3L66.2,486.3L66.7,486.8L67.1,486.5L67.6,486.5L68.1,487.0L68.5,487.1L69.0,486.9L69.5,487.1L69.9,487.1L70.4,487.0L70.8,487.2L71.3,486.4L71.8,487.7L72.2,486.4L72.7,487.1L73.1,487.1L73.6,487.5L74.1,486.9L74.5,486.9L75.0,486.7L75.4,487.1L75.9,486.8L76.4,485.8L76.8,486.6L77.3,487.1L77.7,486.3L78.2,486.9L78.7,486.5L79.1,486.5L79.6,487.0L80.0,487.8L80.5,487.0L81.0,486.5L81.4,487.0L81.9,486.6L82.3,486.3L82.8,487.1L83.3,486.1L83.7,485.9L84.2,486.2L84.6,486.2L85.1,486.2L85.6,485.6L86.0,486.7L86.5,486.8L87.0,486.5L87.4,487.3L87.9,487.6L88.3,487.3L88.8,486.6L89.3,486.5L89.7,487.6L90.2,487.8L90.6,487.0L91.1,486.9L91.6,486.8L92.0,486.4L92.5,486.1L92.9,486.7L93.4,486.5L93.9,487.4L94.3,487.4L94.8,486.7L95.2,486.4L95.7,486.4L96.2,486.5L96.6,486.4L97.1,486.4L97.5,487.7L98.0,487.2L98.5,486.6L98.9,486.5L99.4,487.6L99.8,486.2L100.3,487.0L100.8,486.9L101.2,486.7L101.7,486.4L102.1,487.6L102.6,486.3L103.1,486.8L103.5,487.7L104.0,487.4L104.5,485.7L104.9,477.8L105.4,474.8L105.8,474.3L106.3,472.7L106.8,471.7L107.2,470.9L107.7,469.3L108.1,470.2L108.6,470.1L109.1,468.8L109.5,466.7L110.0,469.3L110.4,468.1L110.9,470.4L111.4,466.7L111.8,467.4L112.3,466.4L112.7,468.0L113.2,469.1L113.7,466.7L114.1,466.8L114.6,468.7L115.0,469.4L115.5,467.1L116.0,467.8L116.4,464.4L116.9,468.2L117.3,468.1L117.8,467.5L118.3,469.4L118.7,468.4L119.2,465.3L119.6,467.4L120.1,468.0L120.6,468.8L121.0,466.5L121.5,466.4L121.9,466.9L122.4,467.6L122.9,466.8L123.3,466.6L123.8,467.9L124.3,466.3L124.7,469.6L125.2,468.6L125.6,467.4L126.1,467.1L126.6,468.3L127.0,466.5L127.5,465.6L127.9,466.3L128.4,466.6L128.9,465.8L129.3,466.3L129.8,468.2L130.2,467.0L130.7,465.2L131.2,468.1L131.6,466.6L132.1,467.1L132.5,467.7L133.0,467.8L133.5,466.5L133.9,466.2L134.4,466.2L134.8,468.3L135.3,466.8L135.8,466.1L136.2,465.3L136.7,465.6L137.1,465.4L137.6,465.1L138.1,465.4L138.5,467.3L139.0,466.3L139.4,467.2L139.9,469.1L140.4,468.3L140.8,463.7L141.3,467.6L141.8,468.9L142.2,466.9L142.7,464.3L143.1,466.2L143.6,465.6L144.1,466.4L144.5,466.1L145.0,464.5L145.4,465.0L145.9,466.1L146.4,464.9L146.8,464.6L147.3,466.1L147.7,465.5L148.2,465.5L148.7,466.6L149.1,464.4L149.6,465.9L150.0,466.4L150.5,467.7L151.0,467.1L151.4,463.7L151.9,466.9L152.3,465.0L152.8,465.9L153.3,464.8L153.7,464.6L154.2,466.3L154.6,465.6L155.1,465.1L155.6,465.1L156.0,465.2L156.5,465.5L156.9,464.3L157.4,463.4L157.9,464.3L158.3,465.8L158.8,464.4L159.2,464.8L159.7,464.2L160.2,462.5L160.6,464.9L161.1,464.7L161.6,465.7L162.0,464.9L162.5,465.2L162.9,462.5L163.4,464.1L163.9,465.1L164.3,462.0L164.8,465.9L165.2,463.2L165.7,463.0L166.2,463.5L166.6,464.4L167.1,464.2L167.5,464.4L168.0,463.1L168.5,466.7L168.9,464.5L169.4,463.7L169.8,464.5L170.3,466.0L170.8,464.1L171.2,464.7L171.7,462.8L172.1,462.0L172.6,463.6L173.1,465.9L173.5,463.8L174.0,464.7L174.4,462.7L174.9,461.5L175.4,463.1L175.8,461.0L176.3,461.6L176.7,462.5L177.2,464.4L177.7,463.1L178.1,464.9L178.6,461.9L179.1,462.9L179.5,461.4L180.0,462.7L180.4,465.3L180.9,462.2L181.4,461.8L181.8,460.9L182.3,464.0L182.7,463.9L183.2,462.7L183.7,464.0L184.1,464.4L184.6,464.0L185.0,459.6L185.5,463.4L186.0,463.9L186.4,463.2L186.9,462.6L187.3,461.0L187.8,461.4L188.3,461.6L188.7,462.5L189.2,462.3L189.6,463.2L190.1,464.2L190.6,460.0L191.0,462.9L191.5,461.1L191.9,462.7L192.4,462.4L192.9,462.4L193.3,463.9L193.8,462.3L194.2,461.7L194.7,461.1L195.2,461.5L195.6,460.9L196.1,461.7L196.6,462.0L197.0,464.3L197.5,462.6L197.9,460.1L198.4,461.8L198.9,460.9L199.3,462.1L199.8,462.6L200.2,459.3L200.7,461.3L201.2,459.9L201.6,461.1L202.1,462.0L202.5,464.3L203.0,461.5L203.5,463.4L203.9,464.2L204.4,460.0L204.8,460.6L205.3,460.7L205.8,461.3L206.2,461.4L206.7,460.8L207.1,461.1L207.6,461.2L208.1,460.4L208.5,464.2L209.0,460.1L209.4,461.9L209.9,460.1L210.4,459.7L210.8,462.1L211.3,460.1L211.7,460.1L212.2,461.8L212.7,461.6L213.1,460.8L213.6,463.6L214.0,461.4L214.5,460.7L215.0,461.4L215.4,462.7L215.9,461.3L216.4,458.9L216.8,459.1L217.3,460.8L217.7,461.6L218.2,460.6L218.7,460.6L219.1,461.4L219.6,460.9L220.0,459.8L220.5,459.3L221.0,463.4L221.4,459.2L221.9,460.2L222.3,459.0L222.8,460.3L223.3,459.7L223.7,458.3L224.2,463.8L224.6,458.3L225.1,459.9L225.6,462.3L226.0,463.3L226.5,459.7L226.9,461.2L227.4,458.8L227.9,459.7L228.3,460.1L228.8,458.7L229.2,459.6L229.7,458.9L230.2,458.8L230.6,459.4L231.1,458.8L231.5,458.7L232.0,461.3L232.5,459.9L232.9,459.7L233.4,460.0L233.9,461.4L234.3,460.2L234.8,459.0L235.2,459.2L235.7,457.5L236.2,460.1L236.6,459.8L237.1,460.0L237.5,459.6L238.0,459.9L238.5,461.4L238.9,458.7L239.4,457.9L239.8,457.7L240.3,460.3L240.8,459.2L241.2,456.7L241.7,459.1L242.1,458.5L242.6,459.0L243.1,457.6L243.5,457.6L244.0,456.0L244.4,458.1L244.9,458.1L245.4,460.1L245.8,459.1L246.3,459.4L246.7,458.9L247.2,460.1L247.7,457.0L248.1,459.7L248.6,458.0L249.0,459.8L249.5,457.9L250.0,456.2L250.4,459.2L250.9,457.7L251.3,458.2L251.8,457.7L252.3,457.5L252.7,458.7L253.2,458.1L253.7,458.6L254.1,458.8L254.6,459.2L255.0,456.6L255.5,458.6L256.0,456.8L256.4,456.9L256.9,458.7L257.3,456.2L257.8,458.5L258.3,456.6L258.7,455.6L259.2,458.1L259.6,458.3L260.1,458.3L260.6,454.4L261.0,457.5L261.5,458.6L261.9,456.0L262.4,457.2L262.9,456.9L263.3,458.0L263.8,459.5L264.2,457.6L264.7,458.0L265.2,458.6L265.6,457.9L266.1,457.7L266.5,455.6L267.0,455.6L267.5,455.8L267.9,457.0L268.4,457.9L268.8,456.0L269.3,455.7L269.8,455.0L270.2,456.2L270.7,456.3L271.2,455.7L271.6,457.2L272.1,457.0L272.5,455.2L273.0,457.5L273.5,456.0L273.9,454.9L274.4,455.6L274.8,455.3L275.3,457.1L275.8,455.9L276.2,456.0L276.7,455.0L277.1,455.1L277.6,455.6L278.1,453.3L278.5,454.9L279.0,455.9L279.4,456.2L279.9,455.5L280.4,456.1L280.8,453.5L281.3,454.7L281.7,455.8L282.2,456.1L282.7,456.6L283.1,455.7L283.6,453.7L284.0,454.3L284.5,455.4L285.0,455.1L285.4,457.5L285.9,454.3L286.3,455.5L286.8,453.6L287.3,455.4L287.7,455.8L288.2,455.0L288.6,456.0L289.1,451.2L289.6,445.8L290.0,435.5L290.5,422.4L291.0,407.9L291.4,390.2L291.9,373.2L292.3,353.9L292.8,339.2L293.3,323.5L293.7,311.4L294.2,301.0L294.6,294.3L295.1,290.0L295.6,291.7L296.0,291.3L296.5,293.7L296.9,294.7L297.4,297.4L297.9,294.5L298.3,293.2L298.8,296.1L299.2,294.3L299.7,295.1L300.2,297.1L300.6,295.5L301.1,297.6L301.5,297.0L302.0,295.3L302.5,296.7L302.9,298.3L303.4,295.3L303.8,298.4L304.3,297.4L304.8,297.6L305.2,297.5L305.7,298.4L306.1,299.3L306.6,295.2L307.1,298.6L307.5,298.5L308.0,300.4L308.5,297.4L308.9,294.6L309.4,292.1L309.8,289.2L310.3,290.7L310.8,292.0L311.2,292.4L311.7,290.8L312.1,292.5L312.6,292.2L313.1,293.6L313.5,292.3L314.0,290.1L314.4,292.6L314.9,292.0L315.4,295.3L315.8,290.9L316.3,292.0L316.7,290.8L317.2,292.2L317.7,293.5L318.1,294.1L318.6,291.9L319.0,292.5L319.5,293.7L320.0,292.6L320.4,293.3L320.9,291.7L321.3,293.0L321.8,294.0L322.3,292.7L322.7,293.2L323.2,290.8L323.6,293.1L324.1,294.2L324.6,292.7L325.0,292.9L325.5,292.3L326.0,292.4L326.4,293.9L326.9,292.7L327.3,292.8L327.8,294.1L328.3,293.3L328.7,292.4L329.2,294.6L329.6,294.0L330.1,293.2L330.6,292.8L331.0,292.1L331.5,294.3L331.9,292.3L332.4,291.9L332.9,290.8L333.3,293.2L333.8,293.8L334.2,294.5L334.7,292.0L335.2,291.2L335.6,293.5L336.1,292.2L336.5,291.7L337.0,291.5L337.5,293.1L337.9,291.9L338.4,292.7L338.8,293.8L339.3,292.3L339.8,292.2L340.2,293.7L340.7,292.1L341.1,290.2L341.6,294.4L342.1,291.7L342.5,291.5L343.0,292.5L343.4,292.2L343.9,292.9L344.4,291.0L344.8,293.7L345.3,292.7L345.8,294.9L346.2,292.2L346.7,292.2L347.1,294.6L347.6,293.7L348.1,292.0L348.5,293.2L349.0,294.1L349.4,295.6L349.9,292.2L350.4,290.3L350.8,293.2L351.3,292.1L351.7,292.2L352.2,292.8L352.7,292.5L353.1,292.5L353.6,293.7L354.0,289.7L354.5,289.4L355.0,292.3L355.4,290.5L355.9,293.6L356.3,292.9L356.8,291.3L357.3,294.0L357.7,294.2" stroke="#f00" stroke-width="1.4" fill="none" stroke-linejoin="round"/>
<path d="M58.4,485.8L58.9,488.5L59.3,486.3L59.8,486.8L60.2,486.1L60.7,486.6L61.2,485.8L61.6,486.8L62.1,487.1L62.5,486.5L63.0,486.6L63.5,487.0L63.9,486.9L64.4,486.4L64.8,486.4L65.3,487.1L65.8,487.0L66.2,487.8L66.7,485.9L67.1,486.9L67.6,486.1L68.1,486.6L68.5,485.8L69.0,486.0L69.5,486.6L69.9,486.0L70.4,487.3L70.8,486.1L71.3,487.6L71.8,486.6L72.2,486.2L72.7,486.7L73.1,487.0L73.6,487.2L74.1,487.0L74.5,486.2L75.0,486.3L75.4,486.9L75.9,487.5L76.4,486.4L76.8,487.6L77.3,487.1L77.7,487.2L78.2,486.4L78.7,486.7L79.1,486.6L79.6,486.7L80.0,487.2L80.5,486.5L81.0,486.0L81.4,486.8L81.9,486.5L82.3,486.9L82.8,486.3L83.3,486.4L83.7,486.3L84.2,486.6L84.6,485.9L85.1,487.0L85.6,487.0L86.0,487.1L86.5,486.5L87.0,487.1L87.4,487.2L87.9,486.4L88.3,486.2L88.8,486.5L89.3,488.3L89.7,487.3L90.2,487.4L90.6,487.5L91.1,487.0L91.6,485.8L92.0,487.0L92.5,487.2L92.9,486.4L93.4,486.8L93.9,486.7L94.3,487.2L94.8,486.8L95.2,486.6L95.7,487.8L96.2,487.7L96.6,486.2L97.1,486.4L97.5,487.1L98.0,487.4L98.5,486.9L98.9,487.4L99.4,487.0L99.8,485.9L100.3,486.7L100.8,486.2L101.2,486.9L101.7,486.6L102.1,486.1L102.6,487.5L103.1,487.0L103.5,487.0L104.0,486.8L104.5,478.6L104.9,469.8L105.4,469.6L105.8,466.3L106.3,465.5L106.8,463.4L107.2,457.3L107.7,458.4L108.1,454.6L108.6,454.0L109.1,450.8L109.5,450.2L110.0,449.4L110.4,448.7L110.9,446.3L111.4,447.9L111.8,446.9L112.3,446.7L112.7,443.1L113.2,444.4L113.7,444.7L114.1,443.3L114.6,439.3L115.0,441.9L115.5,440.3L116.0,440.3L116.4,440.5L116.9,440.9L117.3,440.0L117.8,439.7L118.3,441.5L118.7,435.3L119.2,436.9L119.6,437.5L120.1,437.4L120.6,437.7L121.0,435.2L121.5,436.2L121.9,435.0L122.4,436.9L122.9,434.3L123.3,432.0L123.8,434.4L124.3,432.7L124.7,433.2L125.2,431.6L125.6,431.3L126.1,432.1L126.6,432.5L127.0,431.2L127.5,431.1L127.9,431.6L128.4,430.0L128.9,429.7L129.3,430.9L129.8,429.7L130.2,425.8L130.7,428.0L131.2,428.5L131.6,425.4L132.1,428.6L132.5,430.8L133.0,429.8L133.5,429.1L133.9,426.7L134.4,425.5L134.8,429.0L135.3,424.8L135.8,427.4L136.2,425.3L136.7,424.8L137.1,424.6L137.6,424.9L138.1,424.4L138.5,425.7L139.0,423.8L139.4,422.7L139.9,422.6L140.4,420.3L140.8,421.9L141.3,422.1L141.8,420.8L142.2,422.2L142.7,423.9L143.1,424.8L143.6,420.3L144.1,421.0L144.5,420.4L145.0,421.6L145.4,420.6L145.9,418.5L146.4,420.1L146.8,421.6L147.3,420.6L147.7,418.2L148.2,420.9L148.7,422.4L149.1,421.8L149.6,420.4L150.0,417.5L150.5,418.1L151.0,418.8L151.4,419.2L151.9,417.5L152.3,417.2L152.8,417.4L153.3,416.8L153.7,417.1L154.2,413.8L154.6,418.5L155.1,415.2L155.6,416.3L156.0,414.0L156.5,414.9L156.9,413.9L157.4,413.5L157.9,413.7L158.3,412.5L158.8,415.2L159.2,412.2L159.7,413.4L160.2,412.5L160.6,410.9L161.1,411.2L161.6,410.0L162.0,414.9L162.5,413.2L162.9,410.7L163.4,413.1L163.9,411.8L164.3,409.3L164.8,410.2L165.2,412.2L165.7,410.3L166.2,410.0L166.6,410.5L167.1,410.5L167.5,410.1L168.0,411.9L168.5,409.7L168.9,410.9L169.4,409.1L169.8,408.8L170.3,410.2L170.8,408.3L171.2,408.4L171.7,408.7L172.1,407.6L172.6,408.6L173.1,408.4L173.5,407.8L174.0,407.8L174.4,406.1L174.9,410.1L175.4,407.5L175.8,409.3L176.3,407.3L176.7,406.2L177.2,406.4L177.7,405.0L178.1,405.6L178.6,409.1L179.1,406.9L179.5,403.5L180.0,403.3L180.4,404.9L180.9,406.7L181.4,402.0L181.8,406.9L182.3,403.9L182.7,404.1L183.2,403.6L183.7,405.1L184.1,404.0L184.6,402.0L185.0,403.7L185.5,404.6L186.0,402.8L186.4,402.5L186.9,402.5L187.3,403.1L187.8,401.4L188.3,402.0L188.7,403.1L189.2,401.2L189.6,401.3L190.1,400.9L190.6,403.0L191.0,401.7L191.5,400.1L191.9,399.3L192.4,399.8L192.9,399.9L193.3,399.1L193.8,398.6L194.2,397.5L194.7,398.9L195.2,400.0L195.6,398.6L196.1,401.3L196.6,398.8L197.0,399.2L197.5,398.5L197.9,397.8L198.4,398.2L198.9,399.8L199.3,398.4L199.8,398.7L200.2,397.7L200.7,397.1L201.2,398.5L201.6,396.3L202.1,395.5L202.5,397.3L203.0,395.9L203.5,398.4L203.9,397.2L204.4,395.2L204.8,398.4L205.3,396.7L205.8,397.1L206.2,394.5L206.7,394.4L207.1,396.3L207.6,395.3L208.1,398.5L208.5,394.2L209.0,394.7L209.4,393.4L209.9,397.7L210.4,394.3L210.8,395.0L211.3,397.6L211.7,395.2L212.2,394.3L212.7,393.1L213.1,393.7L213.6,394.5L214.0,393.2L214.5,393.7L215.0,394.3L215.4,394.6L215.9,393.1L216.4,392.9L216.8,390.8L217.3,393.4L217.7,390.8L218.2,392.2L218.7,391.1L219.1,393.5L219.6,393.3L220.0,392.5L220.5,391.0L221.0,391.7L221.4,390.9L221.9,391.3L222.3,390.3L222.8,391.2L223.3,392.0L223.7,390.6L224.2,391.0L224.6,388.9L225.1,391.1L225.6,390.6L226.0,391.0L226.5,389.1L226.9,389.4L227.4,389.5L227.9,391.7L228.3,391.9L228.8,389.6L229.2,389.0L229.7,387.9L230.2,391.8L230.6,389.7L231.1,391.4L231.5,390.4L232.0,389.4L232.5,387.9L232.9,389.5L233.4,389.6L233.9,389.1L234.3,387.0L234.8,385.5L235.2,390.2L235.7,388.5L236.2,388.6L236.6,386.6L237.1,387.3L237.5,385.9L238.0,388.8L238.5,387.5L238.9,387.9L239.4,388.6L239.8,387.3L240.3,388.4L240.8,384.3L241.2,386.3L241.7,387.9L242.1,387.3L242.6,384.3L243.1,386.9L243.5,385.3L244.0,385.4L244.4,384.6L244.9,385.1L245.4,386.0L245.8,386.4L246.3,387.7L246.7,385.5L247.2,385.2L247.7,385.8L248.1,385.4L248.6,386.6L249.0,382.5L249.5,385.6L250.0,386.2L250.4,385.6L250.9,385.1L251.3,383.9L251.8,387.6L252.3,384.1L252.7,385.4L253.2,384.8L253.7,383.3L254.1,383.6L254.6,385.3L255.0,384.5L255.5,382.1L256.0,382.7L256.4,383.2L256.9,384.2L257.3,383.0L257.8,383.7L258.3,384.8L258.7,385.2L259.2,383.4L259.6,383.5L260.1,382.5L260.6,384.5L261.0,382.1L261.5,384.2L261.9,382.2L262.4,383.0L262.9,384.3L263.3,384.7L263.8,383.7L264.2,383.8L264.7,382.3L265.2,384.2L265.6,385.0L266.1,383.2L266.5,380.8L267.0,381.1L267.5,383.7L267.9,383.2L268.4,382.4L268.8,383.5L269.3,382.9L269.8,382.9L270.2,383.7L270.7,383.1L271.2,382.8L271.6,381.8L272.1,383.4L272.5,381.8L273.0,382.9L273.5,382.6L273.9,382.8L274.4,376.5L274.8,379.7L275.3,379.4L275.8,379.9L276.2,381.0L276.7,380.5L277.1,380.0L277.6,379.6L278.1,379.3L278.5,377.9L279.0,383.1L279.4,380.0L279.9,378.3L280.4,379.3L280.8,378.9L281.3,376.6L281.7,377.9L282.2,375.8L282.7,377.7L283.1,377.1L283.6,378.4L284.0,379.2L284.5,377.0L285.0,376.1L285.4,376.3L285.9,377.1L286.3,374.4L286.8,374.7L287.3,349.5L287.7,339.6L288.2,326.9L288.6,318.5L289.1,312.4L289.6,306.5L290.0,300.7L290.5,294.9L291.0,290.6L291.4,292.2L291.9,292.1L292.3,293.8L292.8,288.2L293.3,292.9L293.7,290.5L294.2,291.0L294.6,290.0L295.1,292.6L295.6,293.5L296.0,291.4L296.5,291.1L296.9,290.2L297.4,293.6L297.9,292.1L298.3,291.9L298.8,293.2L299.2,291.8L299.7,290.6L300.2,291.6L300.6,293.3L301.1,291.2L301.5,290.6L302.0,291.0L302.5,290.6L302.9,293.6L303.4,291.0L303.8,290.9L304.3,292.0L304.8,291.7L305.2,292.5L305.7,290.1L306.1,292.0L306.6,292.7L307.1,291.4L307.5,291.5L308.0,290.8L308.5,292.6L308.9,292.4L309.4,291.1L309.8,288.9L310.3,291.0L310.8,293.2L311.2,291.4L311.7,292.5L312.1,293.8L312.6,292.4L313.1,292.3L313.5,291.1L314.0,290.0L314.4,290.2L314.9,290.6L315.4,292.1L315.8,291.4L316.3,291.7L316.7,289.9L317.2,292.4L317.7,292.3L318.1,289.8L318.6,290.9L319.0,292.2L319.5,291.4L320.0,291.4L320.4,291.4L320.9,290.7L321.3,291.2L321.8,291.8L322.3,292.2L322.7,293.7L323.2,292.2L323.6,290.3L324.1,291.4L324.6,292.4L325.0,291.9L325.5,292.7L326.0,291.3L326.4,289.2L326.9,289.5L327.3,290.2L327.8,290.7L328.3,291.9L328.7,293.1L329.2,291.6L329.6,292.2L330.1,290.7L330.6,291.5L331.0,292.4L331.5,291.1L331.9,288.2L332.4,292.8L332.9,290.3L333.3,291.0L333.8,291.8L334.2,292.6L334.7,291.7L335.2,291.4L335.6,290.8L336.1,290.9L336.5,291.3L337.0,292.5L337.5,291.3L337.9,292.3L338.4,293.0L338.8,290.7L339.3,292.5L339.8,293.2L340.2,291.6L340.7,294.1L341.1,291.8L341.6,291.2L342.1,292.3L342.5,291.5L343.0,289.2L343.4,290.1L343.9,290.7L344.4,291.1L344.8,292.4L345.3,292.0L345.8,292.2L346.2,291.8L346.7,291.7L347.1,292.8L347.6,289.9L348.1,293.1L348.5,291.4L349.0,290.6L349.4,291.9L349.9,292.7L350.4,291.8L350.8,289.6L351.3,291.1L351.7,292.2L352.2,291.2L352.7,292.2L353.1,294.2L353.6,291.6L354.0,290.7L354.5,290.6L355.0,292.0L355.4,293.7L355.9,290.5L356.3,292.2L356.8,291.1L357.3,290.6L357.7,291.6" stroke="#00f" stroke-width="1.4" fill="none" stroke-linejoin="round"/>
<path d="M58.4,486.4L58.9,487.3L59.3,487.7L59.8,488.4L60.2,487.0L60.7,486.1L61.2,486.8L61.6,486.5L62.1,486.3L62.5,487.3L63.0,485.4L63.5,487.3L63.9,486.6L64.4,485.3L64.8,486.9L65.3,486.7L65.8,487.1L66.2,486.6L66.7,488.0L67.1,487.2L67.6,485.9L68.1,486.7L68.5,486.9L69.0,486.6L69.5,486.6L69.9,486.7L70.4,486.5L70.8,487.7L71.3,486.5L71.8,487.2L72.2,486.4L72.7,486.8L73.1,487.3L73.6,486.8L74.1,487.3L74.5,486.3L75.0,486.8L75.4,486.3L75.9,487.4L76.4,485.9L76.8,487.0L77.3,486.1L77.7,486.3L78.2,487.4L78.7,486.6L79.1,487.1L79.6,486.6L80.0,486.0L80.5,486.4L81.0,486.2L81.4,487.4L81.9,486.7L82.3,486.6L82.8,486.2L83.3,487.1L83.7,486.5L84.2,486.6L84.6,487.6L85.1,487.4L85.6,486.6L86.0,487.4L86.5,487.5L87.0,486.3L87.4,486.7L87.9,486.9L88.3,486.7L88.8,487.0L89.3,487.1L89.7,487.1L90.2,486.6L90.6,486.1L91.1,487.1L91.6,486.8L92.0,486.9L92.5,487.5L92.9,486.7L93.4,486.3L93.9,487.3L94.3,486.4L94.8,487.1L95.2,486.2L95.7,486.1L96.2,487.0L96.6,487.9L97.1,487.0L97.5,487.6L98.0,487.5L98.5,486.9L98.9,486.1L99.4,486.9L99.8,486.9L100.3,487.8L100.8,487.1L101.2,487.6L101.7,486.5L102.1,487.1L102.6,486.8L103.1,486.8L103.5,487.0L104.0,485.9L104.5,486.6L104.9,485.6L105.4,480.3L105.8,473.9L106.3,467.6L106.8,464.3L107.2,457.5L107.7,455.0L108.1,450.4L108.6,449.0L109.1,444.0L109.5,444.2L110.0,442.4L110.4,438.5L110.9,438.7L111.4,437.6L111.8,434.3L112.3,434.4L112.7,431.9L113.2,432.3L113.7,429.6L114.1,427.8L114.6,427.5L115.0,424.0L115.5,425.1L116.0,423.4L116.4,421.5L116.9,418.9L117.3,419.0L117.8,417.7L118.3,415.4L118.7,412.8L119.2,413.3L119.6,412.9L120.1,410.2L120.6,407.9L121.0,408.0L121.5,405.9L121.9,407.0L122.4,403.5L122.9,402.1L123.3,400.2L123.8,399.3L124.3,397.6L124.7,398.5L125.2,395.3L125.6,396.9L126.1,394.6L126.6,391.4L127.0,390.7L127.5,392.9L127.9,389.0L128.4,389.3L128.9,388.7L129.3,386.6L129.8,385.8L130.2,383.4L130.7,385.9L131.2,383.8L131.6,382.6L132.1,383.8L132.5,379.3L133.0,377.8L133.5,379.9L133.9,377.9L134.4,377.9L134.8,376.5L135.3,376.9L135.8,374.4L136.2,376.1L136.7,372.4L137.1,372.9L137.6,369.8L138.1,374.0L138.5,371.5L139.0,372.3L139.4,370.4L139.9,369.1L140.4,370.1L140.8,370.2L141.3,370.0L141.8,367.1L142.2,365.3L142.7,364.9L143.1,365.8L143.6,366.4L144.1,365.2L144.5,366.1L145.0,365.7L145.4,362.1L145.9,363.3L146.4,362.1L146.8,362.4L147.3,360.1L147.7,359.5L148.2,361.8L148.7,360.9L149.1,360.9L149.6,358.1L150.0,357.8L150.5,359.3L151.0,355.8L151.4,358.2L151.9,359.3L152.3,360.0L152.8,357.4L153.3,356.5L153.7,357.2L154.2,355.8L154.6,354.5L155.1,355.7L155.6,354.3L156.0,353.0L156.5,354.1L156.9,355.1L157.4,353.6L157.9,353.2L158.3,351.1L158.8,353.9L159.2,355.0L159.7,352.5L160.2,352.2L160.6,352.9L161.1,351.5L161.6,351.6L162.0,350.3L162.5,352.6L162.9,352.2L163.4,351.2L163.9,351.6L164.3,349.3L164.8,349.9L165.2,350.4L165.7,348.4L166.2,349.5L166.6,348.7L167.1,348.7L167.5,349.7L168.0,349.5L168.5,349.2L168.9,350.3L169.4,349.2L169.8,347.6L170.3,348.1L170.8,349.4L171.2,345.3L171.7,349.1L172.1,347.0L172.6,346.6L173.1,345.8L173.5,348.1L174.0,346.9L174.4,347.0L174.9,345.2L175.4,345.9L175.8,345.6L176.3,345.3L176.7,343.4L177.2,344.7L177.7,344.3L178.1,346.2L178.6,344.1L179.1,346.2L179.5,343.4L180.0,344.1L180.4,345.2L180.9,345.3L181.4,343.8L181.8,343.3L182.3,344.0L182.7,343.5L183.2,343.3L183.7,343.3L184.1,342.7L184.6,342.0L185.0,340.5L185.5,341.1L186.0,342.4L186.4,339.6L186.9,339.9L187.3,341.4L187.8,339.7L188.3,341.4L188.7,341.5L189.2,341.3L189.6,338.3L190.1,339.9L190.6,339.5L191.0,339.6L191.5,340.0L191.9,338.7L192.4,338.3L192.9,336.6L193.3,339.8L193.8,336.8L194.2,337.7L194.7,340.4L195.2,337.0L195.6,336.1L196.1,336.6L196.6,337.4L197.0,337.4L197.5,339.8L197.9,336.9L198.4,336.9L198.9,338.1L199.3,336.6L199.8,337.5L200.2,333.8L200.7,337.9L201.2,337.3L201.6,338.7L202.1,336.5L202.5,335.7L203.0,335.7L203.5,336.4L203.9,334.4L204.4,335.0L204.8,333.8L205.3,335.2L205.8,337.0L206.2,334.9L206.7,335.8L207.1,333.5L207.6,335.1L208.1,334.5L208.5,334.1L209.0,335.8L209.4,334.3L209.9,332.7L210.4,334.3L210.8,333.7L211.3,333.1L211.7,334.0L212.2,333.4L212.7,332.4L213.1,333.3L213.6,332.6L214.0,332.7L214.5,333.7L215.0,333.9L215.4,329.8L215.9,330.4L216.4,332.1L216.8,330.7L217.3,330.4L217.7,330.4L218.2,331.9L218.7,333.0L219.1,332.7L219.6,331.3L220.0,329.3L220.5,328.9L221.0,331.0L221.4,331.0L221.9,329.0L222.3,327.9L222.8,331.3L223.3,329.5L223.7,329.8L224.2,330.2L224.6,330.1L225.1,330.0L225.6,329.5L226.0,331.2L226.5,329.3L226.9,328.2L227.4,328.1L227.9,328.0L228.3,328.4L228.8,328.5L229.2,326.2L229.7,328.7L230.2,328.2L230.6,326.7L231.1,328.1L231.5,329.6L232.0,328.6L232.5,328.3L232.9,327.9L233.4,328.1L233.9,326.3L234.3,326.5L234.8,326.7L235.2,327.6L235.7,325.8L236.2,325.7L236.6,324.2L237.1,327.4L237.5,326.7L238.0,324.9L238.5,327.7L238.9,326.0L239.4,325.9L239.8,326.0L240.3,327.1L240.8,325.8L241.2,327.5L241.7,324.3L242.1,326.2L242.6,325.3L243.1,325.4L243.5,325.1L244.0,325.0L244.4,324.6L244.9,325.5L245.4,324.9L245.8,326.2L246.3,326.0L246.7,325.7L247.2,325.8L247.7,326.2L248.1,325.2L248.6,323.7L249.0,323.9L249.5,324.8L250.0,323.9L250.4,323.7L250.9,320.9L251.3,325.9L251.8,323.7L252.3,325.5L252.7,322.4L253.2,324.1L253.7,323.3L254.1,323.5L254.6,322.9L255.0,327.1L255.5,325.0L256.0,323.4L256.4,325.1L256.9,322.8L257.3,321.9L257.8,324.9L258.3,323.8L258.7,322.5L259.2,321.1L259.6,322.0L260.1,322.3L260.6,324.1L261.0,323.0L261.5,322.9L261.9,323.7L262.4,322.4L262.9,323.3L263.3,323.4L263.8,320.3L264.2,322.9L264.7,320.5L265.2,323.1L265.6,322.7L266.1,324.0L266.5,323.2L267.0,320.6L267.5,322.4L267.9,324.7L268.4,320.6L268.8,323.3L269.3,322.7L269.8,322.2L270.2,324.3L270.7,320.2L271.2,320.4L271.6,322.3L272.1,321.4L272.5,322.1L273.0,322.4L273.5,321.9L273.9,323.2L274.4,321.9L274.8,322.0L275.3,319.0L275.8,322.9L276.2,319.6L276.7,320.1L277.1,320.7L277.6,321.5L278.1,318.5L278.5,318.8L279.0,320.5L279.4,320.6L279.9,320.0L280.4,317.9L280.8,321.0L281.3,319.7L281.7,318.3L282.2,321.2L282.7,319.5L283.1,317.9L283.6,319.6L284.0,319.1L284.5,320.6L285.0,318.2L285.4,319.9L285.9,318.7L286.3,317.7L286.8,318.6L287.3,316.7L287.7,316.7L288.2,316.8L288.6,316.0L289.1,316.8L289.6,318.1L290.0,312.7L290.5,310.0L291.0,307.9L291.4,304.5L291.9,298.4L292.3,297.2L292.8,294.9L293.3,294.1L293.7,290.8L294.2,294.4L294.6,296.6L295.1,293.6L295.6,294.7L296.0,295.6L296.5,293.3L296.9,294.1L297.4,292.4L297.9,293.8L298.3,292.0L298.8,292.2L299.2,293.3L299.7,292.4L300.2,291.2L300.6,292.5L301.1,295.0L301.5,293.1L302.0,293.0L302.5,291.7L302.9,293.3L303.4,291.8L303.8,293.3L304.3,293.1L304.8,293.3L305.2,293.0L305.7,293.2L306.1,292.6L306.6,293.9L307.1,294.2L307.5,293.1L308.0,292.8L308.5,293.4L308.9,292.4L309.4,292.5L309.8,290.9L310.3,294.6L310.8,290.5L311.2,295.6L311.7,294.9L312.1,292.5L312.6,293.9L313.1,293.1L313.5,293.3L314.0,294.3L314.4,294.4L314.9,293.2L315.4,292.3L315.8,292.0L316.3,292.5L316.7,293.1L317.2,291.2L317.7,295.2L318.1,292.6L318.6,291.1L319.0,290.7L319.5,291.1L320.0,291.0L320.4,291.3L320.9,292.4L321.3,295.2L321.8,293.1L322.3,292.8L322.7,290.6L323.2,292.9L323.6,292.8L324.1,291.6L324.6,293.5L325.0,292.3L325.5,291.7L326.0,292.7L326.4,292.4L326.9,294.4L327.3,293.8L327.8,292.6L328.3,290.9L328.7,293.0L329.2,293.4L329.6,293.2L330.1,291.5L330.6,293.9L331.0,292.0L331.5,292.6L331.9,292.1L332.4,293.1L332.9,292.1L333.3,290.6L333.8,292.5L334.2,292.7L334.7,295.2L335.2,291.6L335.6,292.9L336.1,291.7L336.5,292.0L337.0,293.0L337.5,292.8L337.9,293.7L338.4,289.7L338.8,290.9L339.3,291.0L339.8,290.6L340.2,290.4L340.7,291.0L341.1,290.8L341.6,289.0L342.1,294.0L342.5,291.7L343.0,292.7L343.4,291.9L343.9,294.9L344.4,293.2L344.8,290.9L345.3,293.4L345.8,291.2L346.2,292.9L346.7,292.1L347.1,293.7L347.6,292.6L348.1,293.6L348.5,291.2L349.0,293.9L349.4,291.4L349.9,292.4L350.4,292.0L350.8,290.1L351.3,292.1L351.7,292.5L352.2,291.7L352.7,290.9L353.1,292.4L353.6,289.7L354.0,291.5L354.5,292.1L355.0,292.5L355.4,291.9L355.9,291.0L356.3,290.4L356.8,291.6L357.3,292.4L357.7,291.7" stroke="#f0f" stroke-width="1.4" fill="none" stroke-linejoin="round"/>
<path d="M58.4,487.7L58.9,487.4L59.3,486.6L59.8,487.1L60.2,486.5L60.7,486.3L61.2,487.7L61.6,486.2L62.1,487.2L62.5,485.5L63.0,486.3L63.5,487.1L63.9,486.7L64.4,486.7L64.8,486.6L65.3,485.9L65.8,486.5L66.2,485.8L66.7,486.4L67.1,486.9L67.6,487.8L68.1,487.8L68.5,486.7L69.0,486.4L69.5,485.9L69.9,487.2L70.4,486.8L70.8,487.3L71.3,487.1L71.8,488.2L72.2,486.3L72.7,487.3L73.1,486.9L73.6,486.5L74.1,486.6L74.5,487.6L75.0,485.9L75.4,486.3L75.9,486.5L76.4,487.2L76.8,487.8L77.3,487.8L77.7,486.9L78.2,486.7L78.7,487.2L79.1,485.7L79.6,486.6L80.0,486.2L80.5,486.2L81.0,487.5L81.4,486.2L81.9,486.5L82.3,487.6L82.8,486.3L83.3,486.1L83.7,486.2L84.2,486.1L84.6,487.7L85.1,487.0L85.6,487.1L86.0,486.8L86.5,486.7L87.0,486.1L87.4,486.3L87.9,487.3L88.3,486.2L88.8,485.8L89.3,486.6L89.7,487.8L90.2,487.2L90.6,486.9L91.1,487.8L91.6,486.9L92.0,487.6L92.5,486.3L92.9,486.4L93.4,486.9L93.9,487.6L94.3,486.6L94.8,487.2L95.2,487.2L95.7,486.1L96.2,487.3L96.6,487.7L97.1,486.3L97.5,485.7L98.0,485.8L98.5,486.3L98.9,485.5L99.4,487.0L99.8,485.4L100.3,485.5L100.8,487.0L101.2,486.5L101.7,487.6L102.1,487.5L102.6,486.4L103.1,487.5L103.5,486.6L104.0,486.5L104.5,487.0L104.9,483.5L105.4,476.5L105.8,471.8L106.3,463.8L106.8,457.0L107.2,453.1L107.7,446.2L108.1,440.1L108.6,426.3L109.1,415.9L109.5,408.7L110.0,399.7L110.4,394.5L110.9,390.2L111.4,387.4L111.8,385.5L112.3,381.3L112.7,378.4L113.2,377.1L113.7,375.5L114.1,373.9L114.6,370.9L115.0,373.1L115.5,370.0L116.0,368.4L116.4,366.4L116.9,365.1L117.3,364.9L117.8,364.4L118.3,365.6L118.7,366.0L119.2,368.1L119.6,361.1L120.1,359.1L120.6,357.3L121.0,352.2L121.5,352.2L121.9,350.0L122.4,346.8L122.9,350.3L123.3,348.1L123.8,345.5L124.3,344.2L124.7,345.7L125.2,343.6L125.6,343.5L126.1,342.8L126.6,340.8L127.0,340.4L127.5,338.4L127.9,338.7L128.4,336.9L128.9,339.6L129.3,337.3L129.8,339.4L130.2,339.2L130.7,338.3L131.2,334.9L131.6,335.1L132.1,337.2L132.5,332.6L133.0,332.6L133.5,333.8L133.9,333.4L134.4,332.7L134.8,333.9L135.3,328.5L135.8,332.0L136.2,331.3L136.7,331.1L137.1,331.2L137.6,331.1L138.1,329.1L138.5,330.9L139.0,330.3L139.4,329.7L139.9,327.1L140.4,329.3L140.8,329.0L141.3,326.9L141.8,328.6L142.2,327.2L142.7,325.2L143.1,325.6L143.6,325.9L144.1,323.5L144.5,326.0L145.0,326.0L145.4,327.3L145.9,324.6L146.4,323.5L146.8,325.0L147.3,321.2L147.7,322.1L148.2,322.0L148.7,324.7L149.1,322.3L149.6,321.9L150.0,325.0L150.5,321.9L151.0,322.0L151.4,323.8L151.9,320.4L152.3,318.0L152.8,319.5L153.3,321.5L153.7,320.4L154.2,318.2L154.6,320.7L155.1,318.7L155.6,318.9L156.0,318.5L156.5,316.1L156.9,320.3L157.4,316.3L157.9,317.3L158.3,317.6L158.8,319.6L159.2,316.6L159.7,317.3L160.2,320.6L160.6,318.2L161.1,317.8L161.6,317.3L162.0,316.5L162.5,316.6L162.9,313.0L163.4,313.5L163.9,314.9L164.3,312.6L164.8,311.3L165.2,313.4L165.7,315.8L166.2,313.2L166.6,311.5L167.1,314.7L167.5,313.1L168.0,311.6L168.5,311.0L168.9,311.3L169.4,311.8L169.8,312.3L170.3,312.7L170.8,310.3L171.2,310.3L171.7,312.1L172.1,312.2L172.6,309.2L173.1,309.4L173.5,311.7L174.0,312.7L174.4,310.1L174.9,308.9L175.4,308.5L175.8,308.5L176.3,311.6L176.7,309.2L177.2,309.6L177.7,309.9L178.1,305.0L178.6,308.5L179.1,308.0L179.5,308.5L180.0,307.0L180.4,306.1L180.9,308.0L181.4,307.4L181.8,307.8L182.3,308.4L182.7,307.1L183.2,306.2L183.7,306.4L184.1,306.6L184.6,308.8L185.0,305.5L185.5,305.6L186.0,303.5L186.4,306.4L186.9,307.3L187.3,307.9L187.8,305.9L188.3,305.0L188.7,304.4L189.2,306.8L189.6,305.2L190.1,302.9L190.6,304.1L191.0,304.5L191.5,304.5L191.9,306.0L192.4,305.7L192.9,304.3L193.3,301.8L193.8,301.8L194.2,303.5L194.7,302.3L195.2,302.5L195.6,301.4L196.1,303.9L196.6,302.5L197.0,301.5L197.5,304.5L197.9,302.7L198.4,302.2L198.9,301.9L199.3,301.7L199.8,301.5L200.2,300.8L200.7,300.2L201.2,301.5L201.6,298.9L202.1,302.6L202.5,302.1L203.0,301.3L203.5,302.8L203.9,303.7L204.4,303.4L204.8,299.9L205.3,302.3L205.8,303.2L206.2,298.7L206.7,300.7L207.1,300.9L207.6,302.5L208.1,300.7L208.5,301.7L209.0,300.6L209.4,300.9L209.9,301.1L210.4,300.5L210.8,302.0L211.3,301.2L211.7,301.7L212.2,300.0L212.7,299.5L213.1,299.3L213.6,303.1L214.0,297.9L214.5,300.6L215.0,300.4L215.4,300.2L215.9,300.2L216.4,298.3L216.8,299.8L217.3,299.5L217.7,298.6L218.2,298.0L218.7,301.2L219.1,301.5L219.6,302.4L220.0,302.3L220.5,299.2L221.0,299.4L221.4,299.5L221.9,299.0L222.3,299.0L222.8,297.7L223.3,296.9L223.7,300.4L224.2,297.1L224.6,297.7L225.1,300.2L225.6,298.8L226.0,299.6L226.5,301.3L226.9,298.9L227.4,301.2L227.9,298.8L228.3,300.3L228.8,299.2L229.2,297.6L229.7,298.5L230.2,299.8L230.6,298.3L231.1,297.6L231.5,297.2L232.0,299.6L232.5,296.9L232.9,298.6L233.4,299.1L233.9,296.7L234.3,297.4L234.8,297.3L235.2,298.0L235.7,300.7L236.2,297.5L236.6,297.3L237.1,298.2L237.5,295.6L238.0,297.8L238.5,295.5L238.9,296.2L239.4,298.8L239.8,298.9L240.3,298.2L240.8,297.8L241.2,296.7L241.7,298.4L242.1,299.0L242.6,294.5L243.1,297.4L243.5,297.0L244.0,295.0L244.4,297.2L244.9,300.6L245.4,296.6L245.8,298.1L246.3,295.8L246.7,299.7L247.2,296.9L247.7,296.0L248.1,295.1L248.6,295.7L249.0,295.8L249.5,297.0L250.0,297.0L250.4,298.4L250.9,295.6L251.3,294.8L251.8,296.1L252.3,298.1L252.7,298.8L253.2,297.6L253.7,294.7L254.1,296.6L254.6,298.2L255.0,297.3L255.5,295.7L256.0,297.7L256.4,297.4L256.9,297.5L257.3,298.0L257.8,294.0L258.3,297.8L258.7,296.3L259.2,295.0L259.6,296.8L260.1,297.2L260.6,296.8L261.0,296.6L261.5,296.9L261.9,297.2L262.4,297.1L262.9,296.4L263.3,294.1L263.8,297.1L264.2,295.4L264.7,296.8L265.2,297.8L265.6,298.1L266.1,296.0L266.5,298.2L267.0,295.8L267.5,296.9L267.9,294.0L268.4,297.8L268.8,294.8L269.3,294.4L269.8,295.1L270.2,297.0L270.7,295.7L271.2,296.0L271.6,296.4L272.1,294.9L272.5,296.2L273.0,295.7L273.5,294.5L273.9,296.1L274.4,296.5L274.8,295.6L275.3,296.6L275.8,299.1L276.2,296.5L276.7,296.0L277.1,297.4L277.6,298.3L278.1,295.0L278.5,296.5L279.0,294.7L279.4,294.8L279.9,293.3L280.4,294.6L280.8,294.1L281.3,293.4L281.7,295.7L282.2,293.6L282.7,293.4L283.1,297.5L283.6,296.4L284.0,294.7L284.5,292.4L285.0,295.2L285.4,296.4L285.9,296.8L286.3,294.1L286.8,293.7L287.3,293.9L287.7,291.5L288.2,292.0L288.6,289.9L289.1,293.5L289.6,292.2L290.0,290.0L290.5,292.4L291.0,292.7L291.4,291.9L291.9,289.0L292.3,291.2L292.8,289.6L293.3,292.8L293.7,291.8L294.2,290.6L294.6,291.2L295.1,292.3L295.6,294.6L296.0,290.8L296.5,290.5L296.9,290.9L297.4,293.9L297.9,293.5L298.3,292.4L298.8,293.0L299.2,290.1L299.7,293.1L300.2,292.0L300.6,293.1L301.1,294.0L301.5,290.2L302.0,291.4L302.5,292.6L302.9,291.6L303.4,294.6L303.8,289.4L304.3,293.0L304.8,294.3L305.2,293.1L305.7,291.3L306.1,291.6L306.6,290.7L307.1,290.6L307.5,291.5L308.0,290.2L308.5,294.1L308.9,291.0L309.4,291.0L309.8,291.1L310.3,291.8L310.8,292.4L311.2,292.5L311.7,294.0L312.1,292.3L312.6,290.1L313.1,289.6L313.5,292.3L314.0,292.4L314.4,292.3L314.9,291.8L315.4,291.6L315.8,291.0L316.3,289.7L316.7,294.5L317.2,293.1L317.7,292.3L318.1,291.7L318.6,291.1L319.0,289.2L319.5,292.9L320.0,290.8L320.4,291.8L320.9,291.6L321.3,291.2L321.8,290.5L322.3,291.5L322.7,293.2L323.2,291.0L323.6,291.0L324.1,293.8L324.6,291.0L325.0,291.8L325.5,291.9L326.0,291.5L326.4,289.3L326.9,294.0L327.3,291.4L327.8,294.3L328.3,291.7L328.7,290.4L329.2,294.2L329.6,290.1L330.1,291.0L330.6,291.8L331.0,291.9L331.5,291.7L331.9,291.6L332.4,291.7L332.9,290.2L333.3,290.6L333.8,292.9L334.2,290.2L334.7,289.1L335.2,289.4L335.6,291.2L336.1,293.8L336.5,292.4L337.0,291.8L337.5,291.8L337.9,293.7L338.4,290.8L338.8,290.4L339.3,293.5L339.8,292.7L340.2,293.0L340.7,291.6L341.1,290.0L341.6,294.5L342.1,289.4L342.5,290.3L343.0,293.4L343.4,289.4L343.9,290.0L344.4,290.9L344.8,291.2L345.3,292.9L345.8,291.0L346.2,292.8L346.7,291.6L347.1,290.2L347.6,292.2L348.1,292.6L348.5,290.9L349.0,290.3L349.4,290.3L349.9,292.0L350.4,289.8L350.8,289.4L351.3,292.2L351.7,290.9L352.2,294.2L352.7,292.0L353.1,293.2L353.6,291.6L354.0,292.6L354.5,295.1L355.0,290.9L355.4,293.2L355.9,290.2L356.3,289.8L356.8,291.0L357.3,292.0L357.7,291.5" stroke="#080" stroke-width="1.4" fill="none" stroke-linejoin="round"/>
<path d="M58.4,269.4L58.4,489.7" stroke="#2a2a2a" stroke-width="1.1"/>
<path d="M56.2,269.4L58.4,269.4" stroke="#2a2a2a" stroke-width="1.0"/>
<path d="M57.9,489.2L357.72,489.2" stroke="#2a2a2a" stroke-width="1.1"/>
<path d="M54.1,489.2L58.4,489.2" stroke="#2a2a2a" stroke-width="1.0"/>
<text transform="translate(51.5 491.8) scale(1 1.12)" font-size="8.9" text-anchor="end" fill="#1a1a1a">0,0</text>
<path d="M54.1,449.28L58.4,449.28" stroke="#2a2a2a" stroke-width="1.0"/>
<text transform="translate(51.5 451.88) scale(1 1.12)" font-size="8.9" text-anchor="end" fill="#1a1a1a">0,2</text>
<path d="M54.1,409.36L58.4,409.36" stroke="#2a2a2a" stroke-width="1.0"/>
<text transform="translate(51.5 411.96) scale(1 1.12)" font-size="8.9" text-anchor="end" fill="#1a1a1a">0,4</text>
<path d="M54.1,369.44L58.4,369.44" stroke="#2a2a2a" stroke-width="1.0"/>
<text transform="translate(51.5 372.04) scale(1 1.12)" font-size="8.9" text-anchor="end" fill="#1a1a1a">0,6</text>
<path d="M54.1,329.52L58.4,329.52" stroke="#2a2a2a" stroke-width="1.0"/>
<text transform="translate(51.5 332.12) scale(1 1.12)" font-size="8.9" text-anchor="end" fill="#1a1a1a">0,8</text>
<path d="M54.1,289.6L58.4,289.6" stroke="#2a2a2a" stroke-width="1.0"/>
<text transform="translate(51.5 292.2) scale(1 1.12)" font-size="8.9" text-anchor="end" fill="#1a1a1a">1,0</text>
<path d="M56.1,469.24L58.4,469.24" stroke="#2a2a2a" stroke-width="1.0"/>
<path d="M56.1,429.32L58.4,429.32" stroke="#2a2a2a" stroke-width="1.0"/>
<path d="M56.1,389.4L58.4,389.4" stroke="#2a2a2a" stroke-width="1.0"/>
<path d="M56.1,349.48L58.4,349.48" stroke="#2a2a2a" stroke-width="1.0"/>
<path d="M56.1,309.56L58.4,309.56" stroke="#2a2a2a" stroke-width="1.0"/>
<path d="M58.4,489.2L58.4,493.1" stroke="#2a2a2a" stroke-width="1.0"/>
<text transform="translate(58.4 502.8) scale(1 1.12)" font-size="8.9" text-anchor="middle" fill="#1a1a1a">0</text>
<path d="M104.45,489.2L104.45,493.1" stroke="#2a2a2a" stroke-width="1.0"/>
<text transform="translate(104.45 502.8) scale(1 1.12)" font-size="8.9" text-anchor="middle" fill="#1a1a1a">100</text>
<path d="M150.5,489.2L150.5,493.1" stroke="#2a2a2a" stroke-width="1.0"/>
<text transform="translate(150.5 502.8) scale(1 1.12)" font-size="8.9" text-anchor="middle" fill="#1a1a1a">200</text>
<path d="M196.55,489.2L196.55,493.1" stroke="#2a2a2a" stroke-width="1.0"/>
<text transform="translate(196.55 502.8) scale(1 1.12)" font-size="8.9" text-anchor="middle" fill="#1a1a1a">300</text>
<path d="M242.6,489.2L242.6,493.1" stroke="#2a2a2a" stroke-width="1.0"/>
<text transform="translate(242.6 502.8) scale(1 1.12)" font-size="8.9" text-anchor="middle" fill="#1a1a1a">400</text>
<path d="M288.65,489.2L288.65,493.1" stroke="#2a2a2a" stroke-width="1.0"/>
<text transform="translate(288.65 502.8) scale(1 1.12)" font-size="8.9" text-anchor="middle" fill="#1a1a1a">500</text>
<path d="M334.7,489.2L334.7,493.1" stroke="#2a2a2a" stroke-width="1.0"/>
<text transform="translate(334.7 502.8) scale(1 1.12)" font-size="8.9" text-anchor="middle" fill="#1a1a1a">600</text>
<path d="M81.42,489.2L81.42,491.5" stroke="#2a2a2a" stroke-width="1.0"/>
<path d="M127.47,489.2L127.47,491.5" stroke="#2a2a2a" stroke-width="1.0"/>
<path d="M173.53,489.2L173.53,491.5" stroke="#2a2a2a" stroke-width="1.0"/>
<path d="M219.58,489.2L219.58,491.5" stroke="#2a2a2a" stroke-width="1.0"/>
<path d="M265.62,489.2L265.62,491.5" stroke="#2a2a2a" stroke-width="1.0"/>
<path d="M311.68,489.2L311.68,491.5" stroke="#2a2a2a" stroke-width="1.0"/>
<path d="M357.72,489.2L357.72,491.5" stroke="#2a2a2a" stroke-width="1.0"/>
<path d="M357.72,489.2L357.72,491.5" stroke="#2a2a2a" stroke-width="1.0"/>
<text transform="translate(220.3 519.1) scale(1 1.12)" font-size="10.5" text-anchor="middle" fill="#1a1a1a">Time (s)</text>
<text transform="translate(27 368.8) rotate(-90) scale(1 1.12)" font-size="10.4" text-anchor="middle" fill="#1a1a1a">Relative Fluorescence</text>
<rect x="63.3" y="263.7" width="90.4" height="42.9" fill="#fff" stroke="#9a9a9a" stroke-width="0.8"/>
<path d="M68.6,268.9L84.6,268.9" stroke="#000" stroke-width="1.9"/>
<text transform="translate(86 271.4) scale(1 1.12)" font-size="6.97" fill="#1a1a1a">NegM, Control</text>
<path d="M68.6,277.32L84.6,277.32" stroke="#f00" stroke-width="1.9"/>
<text transform="translate(86 279.82) scale(1 1.12)" font-size="6.97" fill="#1a1a1a">NegM, 0.13 OCT:LIP</text>
<path d="M68.6,285.74L84.6,285.74" stroke="#00f" stroke-width="1.9"/>
<text transform="translate(86 288.24) scale(1 1.12)" font-size="6.97" fill="#1a1a1a">NegM, 0.19 OCT:LIP</text>
<path d="M68.6,294.16L84.6,294.16" stroke="#f0f" stroke-width="1.9"/>
<text transform="translate(86 296.66) scale(1 1.12)" font-size="6.97" fill="#1a1a1a">NegM, 0.25 OCT:LIP</text>
<path d="M68.6,302.58L84.6,302.58" stroke="#080" stroke-width="1.9"/>
<text transform="translate(86 305.08) scale(1 1.12)" font-size="6.97" fill="#1a1a1a">NegM, 0.31 OCT:LIP</text>
<rect x="466.9" y="459.91" width="25.3" height="29.99" fill="#ee0000" stroke="#222" stroke-width="0.7"/>
<rect x="492.2" y="324.56" width="25.3" height="165.34" fill="#33649a" stroke="#222" stroke-width="0.7"/>
<rect x="530.1" y="430.18" width="25.3" height="59.72" fill="#ee0000" stroke="#222" stroke-width="0.7"/>
<rect x="555.4" y="395.6" width="25.3" height="94.3" fill="#33649a" stroke="#222" stroke-width="0.7"/>
<rect x="593.3" y="472.93" width="25.3" height="16.97" fill="#ee0000" stroke="#222" stroke-width="0.7"/>
<rect x="618.6" y="398.74" width="25.3" height="91.16" fill="#33649a" stroke="#222" stroke-width="0.7"/>
<rect x="656.5" y="476.7" width="25.3" height="13.2" fill="#ee0000" stroke="#222" stroke-width="0.7"/>
<rect x="681.8" y="484.56" width="25.3" height="5.34" fill="#33649a" stroke="#222" stroke-width="0.7"/>
<path d="M479.55,447.15L479.55,472.61" stroke="#444" stroke-width="0.7"/>
<path d="M476.55,447.15L482.55,447.15" stroke="#444" stroke-width="0.7"/>
<path d="M476.55,472.61L482.55,472.61" stroke="#444" stroke-width="0.7"/>
<path d="M504.85,304.44L504.85,345.31" stroke="#444" stroke-width="0.7"/>
<path d="M501.85,304.44L507.85,304.44" stroke="#444" stroke-width="0.7"/>
<path d="M501.85,345.31L507.85,345.31" stroke="#444" stroke-width="0.7"/>
<path d="M542.75,415.72L542.75,444.64" stroke="#444" stroke-width="0.7"/>
<path d="M539.75,415.72L545.75,415.72" stroke="#444" stroke-width="0.7"/>
<path d="M539.75,444.64L545.75,444.64" stroke="#444" stroke-width="0.7"/>
<path d="M568.05,357.25L568.05,434.58" stroke="#444" stroke-width="0.7"/>
<path d="M565.05,357.25L571.05,357.25" stroke="#444" stroke-width="0.7"/>
<path d="M565.05,434.58L571.05,434.58" stroke="#444" stroke-width="0.7"/>
<path d="M605.95,464.75L605.95,481.1" stroke="#444" stroke-width="0.7"/>
<path d="M602.95,464.75L608.95,464.75" stroke="#444" stroke-width="0.7"/>
<path d="M602.95,481.1L608.95,481.1" stroke="#444" stroke-width="0.7"/>
<path d="M631.25,378L631.25,418.86" stroke="#444" stroke-width="0.7"/>
<path d="M628.25,378L634.25,378" stroke="#444" stroke-width="0.7"/>
<path d="M628.25,418.86L634.25,418.86" stroke="#444" stroke-width="0.7"/>
<path d="M669.15,473.55L669.15,479.21" stroke="#444" stroke-width="0.7"/>
<path d="M666.15,473.55L672.15,473.55" stroke="#444" stroke-width="0.7"/>
<path d="M666.15,479.21L672.15,479.21" stroke="#444" stroke-width="0.7"/>
<path d="M460.6,285.5L460.6,490.4" stroke="#222" stroke-width="1.1"/>
<path d="M458.4,285.5L460.6,285.5" stroke="#222" stroke-width="1.0"/>
<path d="M460.1,489.9L713.4,489.9" stroke="#222" stroke-width="1.1"/>
<path d="M456.7,489.9L460.6,489.9" stroke="#222" stroke-width="1.0"/>
<text transform="translate(454.1 492.5) scale(1 1.12)" font-size="8.6" text-anchor="end" fill="#1a1a1a">0</text>
<path d="M456.7,458.47L460.6,458.47" stroke="#222" stroke-width="1.0"/>
<text transform="translate(454.1 461.07) scale(1 1.12)" font-size="8.6" text-anchor="end" fill="#1a1a1a">50</text>
<path d="M456.7,427.03L460.6,427.03" stroke="#222" stroke-width="1.0"/>
<text transform="translate(454.1 429.63) scale(1 1.12)" font-size="8.6" text-anchor="end" fill="#1a1a1a">100</text>
<path d="M456.7,395.6L460.6,395.6" stroke="#222" stroke-width="1.0"/>
<text transform="translate(454.1 398.2) scale(1 1.12)" font-size="8.6" text-anchor="end" fill="#1a1a1a">150</text>
<path d="M456.7,364.17L460.6,364.17" stroke="#222" stroke-width="1.0"/>
<text transform="translate(454.1 366.77) scale(1 1.12)" font-size="8.6" text-anchor="end" fill="#1a1a1a">200</text>
<path d="M456.7,332.73L460.6,332.73" stroke="#222" stroke-width="1.0"/>
<text transform="translate(454.1 335.33) scale(1 1.12)" font-size="8.6" text-anchor="end" fill="#1a1a1a">250</text>
<path d="M456.7,301.3L460.6,301.3" stroke="#222" stroke-width="1.0"/>
<text transform="translate(454.1 303.9) scale(1 1.12)" font-size="8.6" text-anchor="end" fill="#1a1a1a">300</text>
<path d="M458.4,474.18L460.6,474.18" stroke="#222" stroke-width="1.0"/>
<path d="M458.4,442.75L460.6,442.75" stroke="#222" stroke-width="1.0"/>
<path d="M458.4,411.32L460.6,411.32" stroke="#222" stroke-width="1.0"/>
<path d="M458.4,379.88L460.6,379.88" stroke="#222" stroke-width="1.0"/>
<path d="M458.4,348.45L460.6,348.45" stroke="#222" stroke-width="1.0"/>
<path d="M458.4,317.02L460.6,317.02" stroke="#222" stroke-width="1.0"/>
<path d="M458.4,285.58L460.6,285.58" stroke="#222" stroke-width="1.0"/>
<path d="M492.2,489.9L492.2,493.8" stroke="#222" stroke-width="1.0"/>
<text transform="translate(492.2 503.8) scale(1 1.12)" font-size="8.6" text-anchor="middle" fill="#1a1a1a">0</text>
<path d="M555.4,489.9L555.4,493.8" stroke="#222" stroke-width="1.0"/>
<text transform="translate(555.4 503.8) scale(1 1.12)" font-size="8.6" text-anchor="middle" fill="#1a1a1a">0,1</text>
<path d="M618.6,489.9L618.6,493.8" stroke="#222" stroke-width="1.0"/>
<text transform="translate(618.6 503.8) scale(1 1.12)" font-size="8.6" text-anchor="middle" fill="#1a1a1a">0,3</text>
<path d="M681.8,489.9L681.8,493.8" stroke="#222" stroke-width="1.0"/>
<text transform="translate(681.8 503.8) scale(1 1.12)" font-size="8.6" text-anchor="middle" fill="#1a1a1a">0,5</text>
<path d="M523.8,489.9L523.8,492.1" stroke="#222" stroke-width="1.0"/>
<path d="M587,489.9L587,492.1" stroke="#222" stroke-width="1.0"/>
<path d="M650.2,489.9L650.2,492.1" stroke="#222" stroke-width="1.0"/>
<path d="M713.4,489.9L713.4,492.1" stroke="#222" stroke-width="1.0"/>
<text transform="translate(587.3 519.2) scale(1 1.12)" font-size="10.9" text-anchor="middle" fill="#1a1a1a">OCT:LIP</text>
<text transform="translate(434.9 387.4) rotate(-90) scale(1 1.0)" font-size="10.6" text-anchor="middle" fill="#1a1a1a">Bending Rigidity (fold KbT)</text>
<rect x="667.4" y="262.6" width="57.6" height="27.8" fill="#fff" stroke="#9a9a9a" stroke-width="0.8"/>
<rect x="669" y="264.5" width="23.6" height="11.4" fill="#ee0000" stroke="#555" stroke-width="0.7"/>
<rect x="669" y="277.7" width="23.6" height="11.3" fill="#33649a" stroke="#555" stroke-width="0.7"/>
<text transform="translate(695.6 273.5) scale(1 1.0)" font-size="10.8" fill="#1a1a1a">NLM</text>
<text transform="translate(695.6 286.6) scale(1 1.0)" font-size="10.8" fill="#1a1a1a">NegM</text>
<clipPath id="clipB"><path d="M368.0,25.0L378.0,21.0L390.0,21.5L400.0,22.0L408.0,24.0L416.0,28.0L422.0,32.0L430.0,37.0L436.0,42.0L440.0,50.0L445.0,57.0L449.0,63.0L453.0,70.0L455.0,80.0L455.5,91.0L454.0,102.0L448.0,108.0L445.0,118.0L443.0,128.0L441.0,137.0L437.0,146.0L431.0,156.0L426.0,164.0L419.0,173.0L410.0,178.0L403.0,181.0L394.0,186.0L386.0,194.0L378.0,199.0L370.0,202.0L363.0,200.0L350.0,195.0L341.0,187.0L333.0,178.0L326.0,171.0L321.0,163.0L317.5,155.0L317.0,140.0L318.0,122.0L320.0,112.0L327.0,104.0L331.0,92.0L335.0,82.0L339.0,72.0L345.0,64.0L350.0,56.0L357.0,45.0L364.0,32.0Z"/></clipPath>
<filter id="fD" x="300" y="0" width="170" height="230" filterUnits="userSpaceOnUse" color-interpolation-filters="sRGB"><feTurbulence type="fractalNoise" baseFrequency="0.5" numOctaves="2" seed="3"/><feColorMatrix type="matrix" values="0 0 0 0 0.12 0 0 0 0 0.4 0 0 0 0 0.42 0 6 0 0 -3.1"/><feGaussianBlur stdDeviation="0.35"/></filter>
<filter id="fW" x="300" y="0" width="170" height="230" filterUnits="userSpaceOnUse" color-interpolation-filters="sRGB"><feTurbulence type="fractalNoise" baseFrequency="0.5" numOctaves="2" seed="3"/><feColorMatrix type="matrix" values="0 0 0 0 0.88 0 0 0 0 0.94 0 0 0 0 0.94 7 0 0 0 -3.45"/><feGaussianBlur stdDeviation="0.35"/></filter>
<filter id="fR" x="300" y="0" width="170" height="230" filterUnits="userSpaceOnUse" color-interpolation-filters="sRGB"><feTurbulence type="fractalNoise" baseFrequency="0.42" numOctaves="2" seed="9"/><feColorMatrix type="matrix" values="0 0 0 0 0.84 0 0 0 0 0.06 0 0 0 0 0.06 0 0 12 0 -6.95"/><feGaussianBlur stdDeviation="0.35"/></filter>
<filter id="fU" x="300" y="0" width="170" height="230" filterUnits="userSpaceOnUse" color-interpolation-filters="sRGB"><feTurbulence type="fractalNoise" baseFrequency="0.42" numOctaves="2" seed="17"/><feColorMatrix type="matrix" values="0 0 0 0 0.12 0 0 0 0 0.12 0 0 0 0 0.8 12 0 0 0 -7.9"/><feGaussianBlur stdDeviation="0.35"/></filter>
<g clip-path="url(#clipB)">
<rect x="310" y="15" width="150" height="195" fill="#44b0b0"/>
<rect x="310" y="15" width="150" height="195" filter="url(#fD)"/>
<rect x="310" y="15" width="150" height="195" filter="url(#fW)"/>
<rect x="310" y="15" width="150" height="195" filter="url(#fR)"/>
<rect x="310" y="15" width="150" height="195" filter="url(#fU)"/>
</g>
<radialGradient id="pg" cx="0.4" cy="0.36" r="0.6"><stop offset="0" stop-color="#aa50ff"/><stop offset="0.5" stop-color="#6e1ad2"/><stop offset="1" stop-color="#3c0880"/></radialGradient>
<g fill="#4a0e98"><ellipse cx="373.7" cy="30" rx="6.3" ry="5.2"/><ellipse cx="384.7" cy="30" rx="5.9" ry="8.6"/><ellipse cx="373" cy="49" rx="8.1" ry="14.9"/><ellipse cx="361" cy="38.6" rx="4.1" ry="5.8"/><ellipse cx="379.4" cy="68" rx="5.2" ry="7.6"/><ellipse cx="394.2" cy="30" rx="9.8" ry="8.6"/><ellipse cx="400.5" cy="42.5" rx="4.6" ry="5.1"/><ellipse cx="413.2" cy="32.2" rx="9.2" ry="6.3"/><ellipse cx="429.2" cy="42" rx="5.8" ry="4.6"/><ellipse cx="423" cy="63.3" rx="10.9" ry="5.3"/><ellipse cx="412.6" cy="70.3" rx="5.2" ry="5.3"/><ellipse cx="388.5" cy="72.5" rx="4.1" ry="3.6"/><ellipse cx="337.5" cy="94.7" rx="8.1" ry="16.1"/><ellipse cx="350" cy="83" rx="5.6" ry="4.6"/><ellipse cx="342.6" cy="105.5" rx="7.6" ry="5.1"/><ellipse cx="331.7" cy="121.8" rx="10.3" ry="8.8"/><ellipse cx="347.2" cy="124.7" rx="6.3" ry="5.8"/><ellipse cx="382.4" cy="94.7" rx="8.2" ry="8.1"/><ellipse cx="379" cy="120.7" rx="11.6" ry="9.9"/><ellipse cx="383.5" cy="73.5" rx="7.1" ry="4.1"/><ellipse cx="360" cy="84.4" rx="4.1" ry="3.6"/><ellipse cx="440.2" cy="78.6" rx="12.1" ry="7.0"/><ellipse cx="434" cy="94.7" rx="21.9" ry="8.1"/><ellipse cx="392" cy="90.7" rx="7.6" ry="6.4"/><ellipse cx="411.5" cy="123" rx="8.6" ry="7.6"/><ellipse cx="390.7" cy="117.2" rx="6.4" ry="13.3"/><ellipse cx="411.5" cy="73.5" rx="6.3" ry="4.1"/><ellipse cx="341.5" cy="131.4" rx="20.1" ry="7.0"/><ellipse cx="326" cy="146.4" rx="9.3" ry="9.3"/><ellipse cx="337.5" cy="164.7" rx="8.1" ry="9.3"/><ellipse cx="354.2" cy="161.7" rx="9.8" ry="12.3"/><ellipse cx="359.3" cy="147.3" rx="4.6" ry="5.9"/><ellipse cx="370.2" cy="163" rx="9.8" ry="8.6"/><ellipse cx="379.5" cy="132" rx="11.1" ry="7.6"/><ellipse cx="381.2" cy="152" rx="9.3" ry="8.1"/><ellipse cx="352.4" cy="178" rx="11.6" ry="7.6"/><ellipse cx="373.6" cy="178" rx="10.9" ry="7.6"/><ellipse cx="391.3" cy="144" rx="6.9" ry="19.6"/><ellipse cx="404.6" cy="148" rx="7.6" ry="14.6"/><ellipse cx="414.3" cy="128" rx="6.9" ry="3.6"/><ellipse cx="393" cy="169.3" rx="5.2" ry="6.9"/><ellipse cx="352.5" cy="182.8" rx="11.1" ry="13.4"/><ellipse cx="375.1" cy="187.7" rx="12.7" ry="14.6"/><ellipse cx="389.8" cy="175" rx="6.7" ry="5.6"/><ellipse cx="339" cy="173.6" rx="7.3" ry="4.3"/></g>
<g fill="url(#pg)"><circle cx="395.8" cy="22.8" r="2.8"/><circle cx="394.8" cy="22.9" r="2.6"/><circle cx="385.5" cy="23.8" r="2.8"/><circle cx="390.6" cy="24.2" r="2.7"/><circle cx="385.5" cy="24.5" r="2.9"/><circle cx="398.0" cy="24.6" r="2.4"/><circle cx="381.8" cy="25.1" r="2.8"/><circle cx="389.1" cy="25.3" r="3.1"/><circle cx="393.5" cy="25.4" r="2.8"/><circle cx="386.0" cy="25.6" r="2.5"/><circle cx="374.8" cy="26.2" r="2.5"/><circle cx="375.6" cy="26.8" r="2.8"/><circle cx="396.7" cy="27.0" r="2.4"/><circle cx="401.2" cy="27.0" r="3.0"/><circle cx="370.4" cy="27.0" r="3.0"/><circle cx="384.0" cy="27.2" r="2.8"/><circle cx="401.5" cy="27.8" r="2.6"/><circle cx="392.8" cy="28.1" r="2.7"/><circle cx="411.4" cy="28.3" r="2.9"/><circle cx="417.8" cy="28.3" r="2.7"/><circle cx="415.0" cy="28.5" r="2.7"/><circle cx="390.9" cy="28.8" r="2.9"/><circle cx="397.3" cy="28.9" r="2.8"/><circle cx="392.7" cy="28.9" r="3.0"/><circle cx="409.0" cy="29.0" r="2.7"/><circle cx="413.0" cy="29.2" r="2.4"/><circle cx="378.3" cy="29.2" r="2.7"/><circle cx="388.4" cy="29.3" r="3.0"/><circle cx="371.3" cy="29.3" r="2.5"/><circle cx="384.8" cy="29.4" r="2.9"/><circle cx="376.9" cy="29.5" r="3.1"/><circle cx="399.5" cy="29.6" r="3.0"/><circle cx="419.9" cy="29.8" r="2.8"/><circle cx="397.0" cy="30.0" r="2.9"/><circle cx="371.8" cy="30.2" r="2.6"/><circle cx="386.5" cy="30.3" r="2.9"/><circle cx="401.3" cy="30.5" r="2.8"/><circle cx="370.5" cy="30.5" r="2.6"/><circle cx="385.3" cy="30.6" r="3.0"/><circle cx="374.3" cy="30.8" r="2.9"/><circle cx="410.6" cy="30.9" r="2.5"/><circle cx="414.4" cy="31.0" r="2.4"/><circle cx="380.6" cy="31.1" r="2.9"/><circle cx="394.3" cy="31.3" r="2.5"/><circle cx="417.9" cy="31.4" r="3.2"/><circle cx="401.0" cy="31.4" r="2.4"/><circle cx="369.3" cy="31.5" r="3.1"/><circle cx="408.4" cy="31.9" r="3.0"/><circle cx="377.5" cy="32.1" r="3.2"/><circle cx="410.1" cy="32.1" r="2.7"/><circle cx="371.2" cy="32.2" r="3.1"/><circle cx="380.9" cy="32.4" r="3.1"/><circle cx="405.8" cy="32.4" r="2.5"/><circle cx="396.9" cy="32.4" r="2.8"/><circle cx="417.6" cy="32.9" r="2.7"/><circle cx="399.7" cy="33.3" r="2.9"/><circle cx="400.1" cy="33.3" r="3.1"/><circle cx="375.3" cy="33.7" r="2.8"/><circle cx="384.0" cy="33.9" r="2.9"/><circle cx="407.7" cy="33.9" r="2.9"/><circle cx="362.1" cy="34.1" r="2.8"/><circle cx="399.2" cy="34.2" r="2.9"/><circle cx="392.1" cy="34.2" r="2.5"/><circle cx="400.1" cy="34.3" r="3.2"/><circle cx="361.9" cy="34.3" r="2.6"/><circle cx="386.5" cy="34.4" r="2.8"/><circle cx="387.1" cy="34.4" r="2.5"/><circle cx="381.2" cy="34.4" r="2.6"/><circle cx="383.7" cy="34.4" r="2.9"/><circle cx="362.2" cy="34.7" r="2.5"/><circle cx="411.0" cy="34.7" r="2.5"/><circle cx="417.3" cy="34.7" r="2.5"/><circle cx="392.4" cy="34.8" r="3.1"/><circle cx="387.4" cy="34.8" r="2.6"/><circle cx="385.4" cy="34.9" r="2.7"/><circle cx="411.8" cy="34.9" r="2.7"/><circle cx="400.3" cy="35.0" r="2.5"/><circle cx="400.4" cy="35.0" r="3.1"/><circle cx="408.0" cy="35.2" r="2.9"/><circle cx="383.4" cy="35.3" r="2.4"/><circle cx="414.2" cy="35.6" r="2.9"/><circle cx="383.1" cy="35.8" r="3.1"/><circle cx="414.1" cy="35.9" r="2.9"/><circle cx="359.7" cy="36.0" r="3.1"/><circle cx="410.6" cy="36.2" r="3.0"/><circle cx="396.6" cy="36.3" r="3.1"/><circle cx="359.1" cy="36.4" r="3.1"/><circle cx="392.0" cy="36.6" r="2.8"/><circle cx="410.5" cy="36.6" r="3.0"/><circle cx="392.5" cy="36.9" r="3.1"/><circle cx="385.2" cy="36.9" r="2.4"/><circle cx="371.6" cy="37.3" r="3.0"/><circle cx="363.2" cy="37.9" r="2.9"/><circle cx="364.0" cy="39.1" r="2.5"/><circle cx="398.6" cy="39.6" r="3.2"/><circle cx="400.0" cy="40.3" r="3.2"/><circle cx="430.6" cy="40.4" r="2.9"/><circle cx="358.7" cy="40.6" r="2.7"/><circle cx="378.5" cy="40.6" r="3.0"/><circle cx="424.6" cy="40.7" r="3.1"/><circle cx="369.8" cy="40.8" r="2.5"/><circle cx="400.4" cy="40.8" r="2.6"/><circle cx="397.7" cy="41.0" r="2.5"/><circle cx="431.0" cy="41.1" r="2.4"/><circle cx="378.2" cy="41.2" r="2.8"/><circle cx="373.5" cy="41.6" r="2.9"/><circle cx="378.1" cy="41.6" r="2.5"/><circle cx="375.1" cy="41.9" r="3.0"/><circle cx="378.8" cy="41.9" r="3.0"/><circle cx="401.1" cy="41.9" r="3.0"/><circle cx="361.0" cy="41.9" r="2.6"/><circle cx="425.4" cy="42.1" r="2.5"/><circle cx="407.7" cy="42.3" r="3.1"/><circle cx="429.3" cy="42.4" r="2.8"/><circle cx="426.0" cy="42.5" r="2.5"/><circle cx="406.8" cy="42.7" r="3.0"/><circle cx="371.0" cy="43.0" r="3.0"/><circle cx="431.9" cy="43.2" r="3.0"/><circle cx="430.2" cy="43.4" r="3.1"/><circle cx="415.0" cy="43.4" r="2.9"/><circle cx="407.1" cy="43.4" r="3.2"/><circle cx="401.8" cy="43.5" r="2.5"/><circle cx="367.8" cy="43.6" r="2.6"/><circle cx="396.8" cy="43.6" r="3.0"/><circle cx="403.1" cy="43.6" r="2.5"/><circle cx="403.3" cy="43.6" r="2.9"/><circle cx="408.8" cy="43.7" r="3.1"/><circle cx="428.6" cy="43.8" r="2.8"/><circle cx="411.0" cy="44.0" r="3.0"/><circle cx="408.5" cy="44.1" r="2.8"/><circle cx="407.2" cy="44.2" r="2.6"/><circle cx="417.3" cy="44.4" r="2.6"/><circle cx="374.8" cy="44.6" r="3.0"/><circle cx="413.8" cy="44.6" r="2.8"/><circle cx="402.6" cy="44.7" r="3.1"/><circle cx="414.4" cy="44.8" r="2.9"/><circle cx="374.2" cy="44.9" r="2.5"/><circle cx="432.3" cy="45.0" r="2.8"/><circle cx="411.1" cy="45.0" r="3.2"/><circle cx="411.6" cy="45.2" r="3.1"/><circle cx="406.4" cy="45.3" r="2.8"/><circle cx="415.7" cy="45.3" r="3.0"/><circle cx="377.6" cy="45.4" r="2.9"/><circle cx="405.9" cy="45.5" r="2.7"/><circle cx="419.5" cy="45.6" r="3.1"/><circle cx="410.8" cy="45.6" r="2.7"/><circle cx="370.6" cy="45.7" r="3.1"/><circle cx="409.2" cy="45.8" r="3.1"/><circle cx="419.0" cy="45.9" r="2.6"/><circle cx="418.8" cy="45.9" r="2.8"/><circle cx="378.5" cy="46.0" r="2.6"/><circle cx="404.2" cy="46.1" r="2.7"/><circle cx="407.6" cy="46.3" r="3.0"/><circle cx="376.3" cy="46.4" r="2.6"/><circle cx="426.0" cy="46.5" r="2.8"/><circle cx="419.3" cy="46.5" r="2.8"/><circle cx="399.3" cy="46.5" r="2.9"/><circle cx="416.6" cy="46.5" r="2.6"/><circle cx="404.3" cy="46.6" r="2.6"/><circle cx="374.8" cy="46.6" r="2.8"/><circle cx="418.6" cy="46.7" r="2.8"/><circle cx="376.8" cy="46.8" r="2.6"/><circle cx="409.3" cy="46.9" r="2.4"/><circle cx="413.2" cy="47.0" r="2.9"/><circle cx="413.2" cy="47.0" r="2.8"/><circle cx="417.9" cy="47.0" r="2.7"/><circle cx="413.8" cy="47.3" r="2.7"/><circle cx="417.4" cy="47.4" r="3.0"/><circle cx="424.0" cy="47.5" r="3.0"/><circle cx="376.6" cy="47.7" r="3.0"/><circle cx="408.9" cy="47.7" r="3.1"/><circle cx="422.8" cy="47.8" r="2.8"/><circle cx="434.9" cy="47.9" r="3.2"/><circle cx="425.6" cy="47.9" r="2.8"/><circle cx="420.2" cy="48.0" r="2.4"/><circle cx="421.3" cy="48.0" r="2.7"/><circle cx="414.5" cy="48.0" r="2.9"/><circle cx="418.6" cy="48.1" r="2.8"/><circle cx="412.2" cy="48.1" r="2.5"/><circle cx="428.8" cy="48.3" r="2.5"/><circle cx="422.5" cy="48.4" r="3.1"/><circle cx="430.5" cy="48.4" r="3.0"/><circle cx="374.0" cy="48.5" r="2.8"/><circle cx="416.4" cy="48.6" r="2.6"/><circle cx="421.3" cy="48.6" r="2.8"/><circle cx="420.0" cy="48.6" r="2.8"/><circle cx="423.6" cy="48.6" r="2.8"/><circle cx="425.6" cy="48.6" r="2.5"/><circle cx="406.2" cy="48.7" r="2.6"/><circle cx="405.7" cy="48.8" r="3.0"/><circle cx="405.6" cy="48.8" r="3.0"/><circle cx="413.8" cy="48.8" r="2.8"/><circle cx="413.7" cy="48.9" r="2.7"/><circle cx="366.0" cy="48.9" r="2.5"/><circle cx="412.5" cy="49.0" r="2.4"/><circle cx="416.5" cy="49.1" r="2.9"/><circle cx="416.4" cy="49.1" r="2.9"/><circle cx="434.0" cy="49.1" r="2.8"/><circle cx="418.6" cy="49.2" r="3.2"/><circle cx="421.0" cy="49.2" r="2.8"/><circle cx="428.2" cy="49.3" r="2.6"/><circle cx="424.5" cy="49.3" r="2.6"/><circle cx="411.6" cy="49.3" r="2.7"/><circle cx="431.8" cy="49.4" r="2.7"/><circle cx="414.2" cy="49.4" r="2.9"/><circle cx="427.8" cy="49.5" r="3.2"/><circle cx="436.6" cy="49.7" r="2.8"/><circle cx="430.1" cy="49.7" r="2.5"/><circle cx="414.3" cy="49.7" r="2.7"/><circle cx="428.0" cy="50.2" r="2.5"/><circle cx="423.4" cy="50.2" r="2.6"/><circle cx="420.7" cy="50.3" r="2.5"/><circle cx="433.3" cy="50.4" r="2.8"/><circle cx="432.7" cy="50.4" r="2.6"/><circle cx="433.0" cy="50.4" r="3.2"/><circle cx="376.3" cy="50.5" r="2.8"/><circle cx="375.8" cy="50.5" r="2.7"/><circle cx="431.1" cy="50.5" r="2.6"/><circle cx="373.1" cy="50.6" r="2.5"/><circle cx="422.4" cy="50.6" r="2.6"/><circle cx="435.3" cy="50.7" r="2.4"/><circle cx="421.5" cy="50.8" r="2.9"/><circle cx="432.6" cy="50.9" r="2.5"/><circle cx="379.7" cy="51.0" r="2.8"/><circle cx="430.5" cy="51.0" r="2.5"/><circle cx="432.0" cy="51.1" r="2.5"/><circle cx="420.7" cy="51.2" r="2.7"/><circle cx="377.4" cy="51.2" r="2.8"/><circle cx="431.0" cy="51.3" r="2.7"/><circle cx="436.4" cy="51.4" r="3.1"/><circle cx="418.3" cy="51.4" r="2.9"/><circle cx="431.9" cy="51.5" r="2.7"/><circle cx="432.5" cy="51.6" r="2.6"/><circle cx="430.2" cy="51.7" r="3.0"/><circle cx="427.5" cy="51.8" r="2.5"/><circle cx="427.5" cy="52.0" r="3.1"/><circle cx="421.6" cy="52.1" r="2.5"/><circle cx="423.2" cy="52.2" r="3.1"/><circle cx="374.8" cy="52.4" r="3.1"/><circle cx="430.2" cy="52.4" r="2.7"/><circle cx="431.6" cy="52.4" r="2.7"/><circle cx="367.3" cy="52.5" r="2.6"/><circle cx="368.3" cy="52.6" r="2.4"/><circle cx="428.7" cy="52.7" r="2.5"/><circle cx="436.1" cy="52.7" r="3.0"/><circle cx="438.5" cy="52.9" r="3.0"/><circle cx="437.1" cy="53.0" r="2.7"/><circle cx="434.5" cy="53.1" r="2.7"/><circle cx="432.3" cy="53.1" r="2.4"/><circle cx="425.9" cy="53.2" r="2.7"/><circle cx="431.3" cy="53.2" r="2.5"/><circle cx="376.6" cy="53.2" r="2.5"/><circle cx="427.8" cy="53.2" r="2.5"/><circle cx="353.3" cy="53.3" r="2.9"/><circle cx="376.6" cy="53.6" r="3.0"/><circle cx="367.5" cy="53.7" r="2.9"/><circle cx="434.7" cy="54.0" r="3.1"/><circle cx="437.8" cy="54.3" r="3.1"/><circle cx="371.8" cy="54.5" r="3.0"/><circle cx="432.3" cy="54.5" r="2.8"/><circle cx="371.9" cy="54.6" r="2.9"/><circle cx="433.3" cy="54.7" r="2.5"/><circle cx="350.4" cy="54.8" r="2.7"/><circle cx="378.4" cy="54.9" r="2.8"/><circle cx="375.5" cy="55.0" r="2.5"/><circle cx="433.8" cy="55.1" r="3.0"/><circle cx="377.1" cy="55.3" r="2.9"/><circle cx="432.1" cy="55.4" r="2.5"/><circle cx="377.4" cy="55.6" r="2.5"/><circle cx="434.1" cy="55.8" r="2.9"/><circle cx="356.8" cy="56.1" r="3.2"/><circle cx="432.4" cy="56.1" r="2.9"/><circle cx="435.0" cy="56.3" r="2.6"/><circle cx="377.8" cy="56.3" r="3.1"/><circle cx="434.1" cy="56.4" r="2.6"/><circle cx="377.2" cy="56.6" r="2.8"/><circle cx="432.1" cy="56.8" r="3.1"/><circle cx="432.0" cy="57.0" r="2.5"/><circle cx="371.6" cy="57.0" r="2.8"/><circle cx="434.8" cy="57.2" r="3.0"/><circle cx="369.9" cy="57.3" r="2.9"/><circle cx="436.4" cy="57.4" r="2.6"/><circle cx="436.6" cy="57.5" r="2.8"/><circle cx="436.3" cy="57.9" r="2.8"/><circle cx="375.6" cy="58.0" r="3.1"/><circle cx="430.8" cy="58.0" r="2.6"/><circle cx="372.5" cy="58.1" r="2.7"/><circle cx="435.5" cy="58.3" r="3.0"/><circle cx="372.8" cy="58.6" r="3.1"/><circle cx="436.2" cy="58.8" r="2.7"/><circle cx="434.0" cy="58.8" r="3.0"/><circle cx="351.0" cy="59.2" r="2.5"/><circle cx="423.0" cy="59.4" r="2.7"/><circle cx="353.5" cy="59.6" r="2.5"/><circle cx="433.9" cy="59.6" r="3.0"/><circle cx="419.3" cy="60.1" r="3.0"/><circle cx="428.1" cy="60.1" r="2.8"/><circle cx="423.5" cy="60.2" r="3.1"/><circle cx="348.9" cy="60.3" r="3.1"/><circle cx="435.6" cy="60.6" r="2.6"/><circle cx="415.1" cy="61.1" r="3.1"/><circle cx="426.1" cy="61.1" r="2.8"/><circle cx="436.8" cy="61.2" r="3.0"/><circle cx="356.0" cy="62.0" r="2.7"/><circle cx="352.9" cy="62.1" r="2.4"/><circle cx="416.9" cy="62.3" r="2.9"/><circle cx="357.6" cy="62.4" r="2.5"/><circle cx="431.0" cy="62.4" r="3.0"/><circle cx="354.1" cy="62.5" r="2.4"/><circle cx="420.4" cy="62.9" r="3.0"/><circle cx="432.5" cy="62.9" r="2.6"/><circle cx="430.6" cy="62.9" r="2.9"/><circle cx="377.1" cy="63.0" r="3.0"/><circle cx="429.7" cy="63.0" r="2.8"/><circle cx="417.4" cy="63.3" r="2.8"/><circle cx="427.2" cy="63.6" r="3.1"/><circle cx="422.9" cy="63.7" r="3.0"/><circle cx="426.3" cy="63.7" r="3.0"/><circle cx="355.8" cy="63.9" r="3.1"/><circle cx="421.4" cy="64.1" r="2.8"/><circle cx="420.5" cy="64.2" r="3.1"/><circle cx="381.4" cy="64.3" r="2.8"/><circle cx="352.3" cy="64.3" r="2.9"/><circle cx="377.2" cy="64.4" r="2.6"/><circle cx="376.1" cy="64.7" r="3.0"/><circle cx="377.6" cy="64.8" r="2.6"/><circle cx="414.9" cy="65.7" r="3.0"/><circle cx="379.2" cy="66.0" r="2.5"/><circle cx="429.8" cy="66.1" r="3.0"/><circle cx="412.3" cy="66.1" r="3.0"/><circle cx="420.7" cy="66.1" r="2.9"/><circle cx="414.5" cy="66.4" r="2.4"/><circle cx="426.4" cy="66.5" r="2.7"/><circle cx="410.6" cy="66.5" r="2.6"/><circle cx="411.8" cy="66.7" r="3.0"/><circle cx="381.7" cy="66.9" r="3.1"/><circle cx="355.2" cy="67.1" r="2.6"/><circle cx="350.3" cy="67.2" r="2.5"/><circle cx="377.8" cy="68.3" r="2.7"/><circle cx="414.4" cy="68.8" r="2.6"/><circle cx="410.6" cy="69.0" r="2.7"/><circle cx="387.5" cy="69.7" r="2.9"/><circle cx="378.0" cy="70.4" r="2.7"/><circle cx="416.7" cy="70.4" r="2.8"/><circle cx="377.6" cy="70.6" r="2.9"/><circle cx="416.2" cy="71.0" r="2.7"/><circle cx="415.2" cy="71.1" r="2.5"/><circle cx="412.7" cy="71.3" r="2.9"/><circle cx="390.3" cy="71.6" r="2.8"/><circle cx="378.6" cy="71.8" r="2.7"/><circle cx="411.7" cy="71.9" r="2.8"/><circle cx="378.2" cy="72.0" r="3.0"/><circle cx="378.0" cy="72.0" r="2.8"/><circle cx="412.9" cy="72.3" r="2.8"/><circle cx="382.0" cy="72.4" r="2.8"/><circle cx="380.2" cy="72.4" r="2.5"/><circle cx="391.6" cy="72.5" r="2.6"/><circle cx="382.2" cy="72.5" r="2.9"/><circle cx="384.8" cy="72.5" r="3.0"/><circle cx="407.8" cy="72.6" r="2.8"/><circle cx="382.2" cy="72.9" r="3.2"/><circle cx="378.0" cy="73.0" r="3.2"/><circle cx="387.8" cy="73.1" r="2.7"/><circle cx="410.4" cy="73.1" r="2.4"/><circle cx="388.0" cy="73.2" r="3.0"/><circle cx="387.7" cy="73.3" r="2.5"/><circle cx="386.0" cy="73.3" r="2.8"/><circle cx="380.5" cy="73.4" r="3.0"/><circle cx="410.2" cy="73.7" r="3.1"/><circle cx="382.4" cy="73.9" r="2.7"/><circle cx="389.9" cy="73.9" r="2.9"/><circle cx="411.2" cy="74.0" r="2.5"/><circle cx="445.2" cy="74.0" r="2.6"/><circle cx="385.0" cy="74.2" r="2.9"/><circle cx="408.1" cy="74.3" r="2.5"/><circle cx="433.5" cy="74.4" r="2.7"/><circle cx="379.9" cy="74.4" r="2.9"/><circle cx="431.9" cy="74.8" r="2.7"/><circle cx="407.9" cy="75.0" r="3.0"/><circle cx="410.0" cy="75.2" r="2.5"/><circle cx="431.7" cy="75.2" r="2.9"/><circle cx="384.7" cy="75.3" r="2.5"/><circle cx="431.1" cy="75.8" r="2.4"/><circle cx="414.3" cy="76.1" r="2.9"/><circle cx="440.9" cy="76.2" r="2.8"/><circle cx="410.8" cy="76.2" r="2.5"/><circle cx="444.4" cy="76.2" r="2.4"/><circle cx="438.1" cy="76.5" r="2.7"/><circle cx="450.6" cy="77.0" r="2.4"/><circle cx="434.2" cy="77.1" r="2.6"/><circle cx="439.3" cy="77.5" r="2.9"/><circle cx="440.1" cy="77.6" r="3.1"/><circle cx="447.9" cy="77.6" r="3.2"/><circle cx="436.1" cy="78.1" r="3.1"/><circle cx="442.3" cy="78.1" r="3.1"/><circle cx="442.5" cy="78.1" r="2.7"/><circle cx="430.6" cy="79.2" r="2.9"/><circle cx="443.6" cy="79.4" r="3.1"/><circle cx="447.1" cy="79.5" r="2.8"/><circle cx="432.8" cy="79.5" r="2.4"/><circle cx="432.6" cy="79.6" r="3.0"/><circle cx="448.4" cy="79.8" r="2.8"/><circle cx="349.7" cy="80.4" r="3.1"/><circle cx="434.5" cy="80.4" r="2.5"/><circle cx="337.6" cy="80.6" r="2.8"/><circle cx="348.8" cy="80.8" r="2.5"/><circle cx="437.6" cy="80.8" r="2.5"/><circle cx="353.8" cy="81.1" r="2.6"/><circle cx="449.5" cy="81.5" r="2.9"/><circle cx="346.3" cy="81.7" r="3.0"/><circle cx="431.5" cy="81.9" r="3.0"/><circle cx="350.2" cy="82.6" r="2.8"/><circle cx="433.1" cy="82.6" r="2.5"/><circle cx="358.7" cy="82.7" r="2.8"/><circle cx="335.9" cy="82.8" r="3.0"/><circle cx="441.9" cy="82.9" r="2.5"/><circle cx="363.0" cy="83.2" r="2.7"/><circle cx="435.6" cy="83.3" r="3.1"/><circle cx="437.3" cy="83.4" r="3.1"/><circle cx="444.0" cy="83.8" r="2.9"/><circle cx="339.8" cy="83.8" r="3.1"/><circle cx="439.8" cy="83.9" r="3.1"/><circle cx="338.9" cy="84.3" r="3.0"/><circle cx="352.5" cy="84.4" r="3.1"/><circle cx="347.2" cy="84.7" r="2.9"/><circle cx="345.9" cy="84.9" r="2.8"/><circle cx="358.1" cy="84.9" r="2.9"/><circle cx="336.3" cy="85.2" r="2.5"/><circle cx="360.5" cy="85.2" r="3.0"/><circle cx="338.4" cy="85.4" r="3.1"/><circle cx="335.5" cy="85.6" r="2.6"/><circle cx="358.9" cy="85.8" r="2.7"/><circle cx="392.8" cy="85.9" r="2.7"/><circle cx="360.5" cy="86.2" r="2.9"/><circle cx="352.0" cy="86.4" r="2.6"/><circle cx="394.1" cy="86.5" r="2.6"/><circle cx="390.1" cy="86.6" r="3.2"/><circle cx="349.9" cy="86.6" r="2.9"/><circle cx="332.4" cy="88.0" r="2.9"/><circle cx="391.6" cy="88.0" r="3.0"/><circle cx="335.5" cy="88.0" r="3.1"/><circle cx="428.5" cy="88.0" r="2.8"/><circle cx="396.9" cy="88.0" r="3.0"/><circle cx="438.9" cy="88.2" r="2.8"/><circle cx="433.8" cy="88.4" r="3.1"/><circle cx="382.9" cy="88.5" r="2.8"/><circle cx="333.0" cy="88.8" r="3.1"/><circle cx="337.9" cy="88.9" r="3.1"/><circle cx="378.9" cy="89.0" r="2.5"/><circle cx="433.7" cy="89.1" r="3.1"/><circle cx="394.9" cy="89.2" r="2.5"/><circle cx="340.6" cy="89.5" r="2.9"/><circle cx="423.3" cy="89.5" r="3.0"/><circle cx="426.6" cy="89.6" r="2.7"/><circle cx="447.8" cy="89.6" r="3.1"/><circle cx="386.5" cy="89.9" r="2.6"/><circle cx="340.5" cy="90.1" r="2.6"/><circle cx="395.4" cy="90.1" r="2.6"/><circle cx="419.1" cy="90.1" r="3.1"/><circle cx="441.6" cy="90.2" r="2.5"/><circle cx="340.9" cy="90.2" r="2.8"/><circle cx="389.0" cy="90.4" r="3.0"/><circle cx="439.7" cy="90.4" r="2.6"/><circle cx="438.9" cy="90.4" r="2.8"/><circle cx="397.0" cy="90.5" r="2.4"/><circle cx="339.5" cy="90.7" r="2.6"/><circle cx="383.6" cy="90.8" r="3.1"/><circle cx="425.3" cy="90.8" r="3.1"/><circle cx="440.3" cy="90.8" r="2.9"/><circle cx="336.2" cy="90.9" r="3.2"/><circle cx="339.0" cy="91.0" r="2.4"/><circle cx="379.0" cy="91.0" r="2.7"/><circle cx="390.0" cy="91.0" r="2.6"/><circle cx="340.6" cy="91.1" r="2.8"/><circle cx="387.8" cy="91.2" r="3.1"/><circle cx="425.6" cy="91.2" r="3.1"/><circle cx="341.2" cy="91.2" r="2.4"/><circle cx="389.2" cy="91.2" r="2.6"/><circle cx="444.7" cy="91.2" r="3.0"/><circle cx="434.8" cy="91.3" r="3.1"/><circle cx="432.3" cy="91.4" r="2.5"/><circle cx="335.8" cy="91.4" r="2.6"/><circle cx="436.5" cy="91.5" r="3.1"/><circle cx="331.0" cy="91.6" r="2.9"/><circle cx="436.8" cy="91.7" r="2.9"/><circle cx="390.4" cy="91.7" r="3.0"/><circle cx="382.8" cy="92.1" r="2.5"/><circle cx="383.1" cy="92.2" r="2.6"/><circle cx="379.8" cy="92.2" r="2.7"/><circle cx="388.0" cy="92.2" r="2.6"/><circle cx="451.4" cy="92.6" r="2.7"/><circle cx="448.3" cy="92.6" r="2.7"/><circle cx="447.1" cy="92.7" r="3.2"/><circle cx="388.5" cy="92.7" r="3.1"/><circle cx="416.0" cy="92.8" r="2.7"/><circle cx="385.4" cy="92.9" r="3.1"/><circle cx="388.1" cy="93.0" r="2.9"/><circle cx="438.1" cy="93.1" r="3.0"/><circle cx="411.8" cy="93.1" r="3.0"/><circle cx="415.6" cy="93.1" r="2.9"/><circle cx="417.0" cy="93.2" r="3.0"/><circle cx="449.7" cy="93.3" r="2.7"/><circle cx="419.9" cy="93.3" r="3.1"/><circle cx="391.5" cy="93.5" r="2.6"/><circle cx="336.7" cy="93.6" r="2.6"/><circle cx="343.0" cy="93.6" r="2.7"/><circle cx="451.8" cy="93.7" r="3.1"/><circle cx="388.9" cy="93.8" r="3.0"/><circle cx="393.5" cy="93.8" r="2.6"/><circle cx="389.3" cy="93.9" r="2.5"/><circle cx="337.8" cy="93.9" r="2.9"/><circle cx="420.2" cy="94.1" r="2.8"/><circle cx="442.9" cy="94.2" r="2.6"/><circle cx="438.9" cy="94.4" r="2.6"/><circle cx="416.7" cy="94.4" r="3.0"/><circle cx="334.6" cy="94.4" r="3.2"/><circle cx="438.4" cy="94.5" r="2.8"/><circle cx="410.6" cy="94.5" r="3.2"/><circle cx="447.1" cy="94.5" r="2.8"/><circle cx="386.9" cy="94.7" r="2.6"/><circle cx="337.9" cy="94.8" r="3.2"/><circle cx="439.6" cy="94.9" r="2.8"/><circle cx="412.1" cy="95.1" r="2.8"/><circle cx="381.5" cy="95.3" r="3.1"/><circle cx="332.5" cy="95.4" r="2.7"/><circle cx="340.7" cy="95.4" r="2.8"/><circle cx="393.4" cy="95.6" r="2.4"/><circle cx="416.9" cy="95.7" r="2.8"/><circle cx="341.6" cy="95.7" r="2.5"/><circle cx="415.5" cy="95.7" r="2.4"/><circle cx="443.2" cy="95.7" r="2.5"/><circle cx="442.2" cy="95.8" r="3.2"/><circle cx="449.1" cy="95.9" r="2.5"/><circle cx="337.8" cy="96.0" r="2.4"/><circle cx="379.9" cy="96.0" r="2.9"/><circle cx="332.9" cy="96.1" r="3.2"/><circle cx="417.6" cy="96.2" r="2.6"/><circle cx="410.1" cy="96.2" r="2.5"/><circle cx="412.5" cy="96.3" r="2.7"/><circle cx="412.3" cy="96.4" r="2.8"/><circle cx="435.7" cy="96.4" r="2.9"/><circle cx="410.1" cy="96.5" r="2.4"/><circle cx="377.1" cy="96.6" r="3.1"/><circle cx="413.1" cy="96.8" r="2.5"/><circle cx="417.5" cy="96.8" r="3.1"/><circle cx="410.7" cy="96.8" r="2.8"/><circle cx="434.9" cy="96.8" r="2.8"/><circle cx="413.2" cy="96.9" r="2.7"/><circle cx="425.0" cy="97.0" r="2.6"/><circle cx="421.9" cy="97.0" r="2.5"/><circle cx="341.0" cy="97.1" r="2.9"/><circle cx="444.5" cy="97.1" r="2.5"/><circle cx="441.9" cy="97.1" r="3.2"/><circle cx="338.5" cy="97.1" r="3.1"/><circle cx="449.0" cy="97.2" r="2.8"/><circle cx="381.8" cy="97.3" r="2.9"/><circle cx="436.5" cy="97.3" r="2.6"/><circle cx="410.1" cy="97.4" r="2.6"/><circle cx="410.0" cy="97.4" r="2.9"/><circle cx="422.4" cy="97.4" r="2.9"/><circle cx="437.9" cy="97.5" r="3.0"/><circle cx="441.7" cy="97.5" r="2.8"/><circle cx="340.7" cy="97.6" r="2.8"/><circle cx="432.1" cy="97.7" r="3.2"/><circle cx="423.9" cy="97.8" r="2.7"/><circle cx="335.7" cy="97.9" r="2.4"/><circle cx="422.1" cy="97.9" r="2.8"/><circle cx="410.7" cy="98.0" r="3.2"/><circle cx="409.1" cy="98.0" r="2.8"/><circle cx="408.0" cy="98.1" r="2.5"/><circle cx="415.1" cy="98.3" r="2.9"/><circle cx="382.2" cy="98.5" r="2.9"/><circle cx="439.3" cy="98.5" r="2.8"/><circle cx="341.0" cy="98.5" r="2.4"/><circle cx="409.6" cy="98.6" r="3.0"/><circle cx="442.2" cy="98.6" r="2.6"/><circle cx="432.4" cy="98.6" r="2.5"/><circle cx="339.1" cy="98.7" r="3.0"/><circle cx="376.7" cy="98.8" r="2.9"/><circle cx="386.4" cy="98.9" r="2.6"/><circle cx="332.9" cy="98.9" r="2.4"/><circle cx="407.3" cy="99.1" r="3.1"/><circle cx="434.7" cy="99.1" r="3.0"/><circle cx="429.7" cy="99.1" r="2.7"/><circle cx="383.3" cy="99.1" r="3.1"/><circle cx="445.6" cy="99.2" r="2.6"/><circle cx="333.6" cy="99.2" r="2.4"/><circle cx="425.0" cy="99.3" r="2.9"/><circle cx="440.0" cy="99.5" r="2.7"/><circle cx="420.1" cy="99.5" r="3.0"/><circle cx="382.7" cy="99.5" r="2.9"/><circle cx="447.4" cy="99.6" r="3.0"/><circle cx="412.8" cy="99.8" r="2.8"/><circle cx="429.8" cy="99.8" r="2.5"/><circle cx="441.5" cy="100.0" r="2.7"/><circle cx="408.5" cy="100.0" r="2.5"/><circle cx="436.1" cy="100.1" r="2.9"/><circle cx="409.1" cy="100.1" r="2.7"/><circle cx="410.4" cy="100.1" r="2.5"/><circle cx="409.4" cy="100.2" r="3.1"/><circle cx="408.9" cy="100.3" r="2.5"/><circle cx="409.6" cy="100.3" r="2.5"/><circle cx="385.7" cy="100.4" r="2.4"/><circle cx="379.5" cy="100.6" r="2.8"/><circle cx="407.1" cy="100.7" r="3.1"/><circle cx="441.3" cy="101.0" r="2.5"/><circle cx="384.4" cy="101.2" r="2.8"/><circle cx="335.9" cy="101.3" r="2.6"/><circle cx="412.5" cy="101.4" r="2.8"/><circle cx="410.5" cy="101.7" r="2.8"/><circle cx="343.8" cy="101.9" r="2.9"/><circle cx="411.8" cy="102.1" r="2.4"/><circle cx="410.1" cy="102.2" r="2.9"/><circle cx="410.9" cy="102.6" r="2.6"/><circle cx="337.7" cy="102.6" r="2.7"/><circle cx="341.3" cy="102.6" r="3.1"/><circle cx="413.8" cy="102.7" r="2.5"/><circle cx="411.5" cy="102.7" r="2.8"/><circle cx="341.8" cy="102.9" r="3.1"/><circle cx="346.8" cy="102.9" r="2.6"/><circle cx="407.0" cy="103.0" r="2.6"/><circle cx="343.0" cy="103.2" r="2.4"/><circle cx="405.1" cy="103.4" r="2.8"/><circle cx="408.3" cy="103.5" r="2.7"/><circle cx="409.0" cy="103.5" r="2.4"/><circle cx="411.9" cy="103.9" r="2.9"/><circle cx="341.5" cy="103.9" r="2.7"/><circle cx="412.6" cy="103.9" r="2.5"/><circle cx="409.2" cy="104.0" r="2.6"/><circle cx="408.4" cy="104.1" r="2.5"/><circle cx="335.6" cy="104.3" r="2.4"/><circle cx="334.4" cy="104.3" r="2.7"/><circle cx="407.8" cy="104.4" r="3.0"/><circle cx="410.5" cy="104.5" r="2.6"/><circle cx="412.9" cy="104.5" r="3.0"/><circle cx="344.4" cy="104.7" r="3.1"/><circle cx="405.9" cy="104.8" r="2.4"/><circle cx="404.7" cy="105.1" r="3.0"/><circle cx="412.2" cy="105.2" r="2.5"/><circle cx="338.5" cy="105.2" r="3.0"/><circle cx="404.7" cy="105.3" r="2.5"/><circle cx="406.8" cy="105.5" r="2.7"/><circle cx="338.7" cy="105.6" r="2.7"/><circle cx="389.4" cy="105.9" r="2.9"/><circle cx="348.3" cy="106.0" r="3.2"/><circle cx="390.6" cy="106.2" r="3.1"/><circle cx="339.1" cy="106.3" r="2.6"/><circle cx="336.3" cy="106.3" r="2.6"/><circle cx="340.0" cy="106.5" r="2.8"/><circle cx="334.8" cy="106.5" r="3.0"/><circle cx="408.3" cy="106.8" r="2.8"/><circle cx="392.7" cy="106.8" r="2.7"/><circle cx="410.4" cy="106.9" r="2.8"/><circle cx="411.3" cy="107.0" r="2.4"/><circle cx="403.2" cy="107.1" r="2.8"/><circle cx="339.4" cy="107.1" r="2.5"/><circle cx="406.9" cy="107.2" r="2.7"/><circle cx="338.4" cy="107.3" r="2.9"/><circle cx="343.8" cy="107.3" r="2.8"/><circle cx="401.7" cy="107.3" r="2.8"/><circle cx="405.9" cy="107.5" r="3.1"/><circle cx="347.4" cy="107.8" r="2.6"/><circle cx="340.8" cy="108.0" r="2.9"/><circle cx="391.3" cy="108.3" r="2.9"/><circle cx="388.6" cy="108.4" r="2.9"/><circle cx="391.0" cy="108.5" r="2.8"/><circle cx="342.3" cy="108.5" r="2.4"/><circle cx="407.6" cy="108.6" r="2.9"/><circle cx="387.4" cy="108.7" r="2.8"/><circle cx="400.9" cy="109.1" r="2.9"/><circle cx="406.8" cy="109.1" r="2.5"/><circle cx="402.1" cy="109.3" r="3.0"/><circle cx="405.9" cy="109.3" r="2.5"/><circle cx="342.9" cy="109.7" r="2.5"/><circle cx="403.2" cy="109.8" r="2.7"/><circle cx="404.4" cy="110.1" r="3.1"/><circle cx="387.6" cy="110.7" r="2.5"/><circle cx="437.0" cy="110.8" r="2.6"/><circle cx="388.3" cy="111.1" r="2.6"/><circle cx="408.2" cy="111.1" r="3.0"/><circle cx="404.7" cy="111.2" r="3.1"/><circle cx="404.9" cy="111.3" r="2.8"/><circle cx="433.2" cy="111.3" r="3.1"/><circle cx="387.9" cy="111.5" r="3.1"/><circle cx="403.3" cy="111.6" r="2.6"/><circle cx="395.3" cy="111.9" r="2.7"/><circle cx="407.9" cy="112.0" r="3.1"/><circle cx="403.1" cy="112.1" r="2.4"/><circle cx="405.9" cy="112.3" r="2.4"/><circle cx="403.6" cy="112.4" r="3.1"/><circle cx="441.3" cy="112.8" r="2.8"/><circle cx="405.6" cy="113.5" r="3.0"/><circle cx="381.8" cy="113.5" r="2.8"/><circle cx="406.6" cy="113.5" r="3.1"/><circle cx="400.8" cy="113.6" r="3.1"/><circle cx="408.3" cy="113.7" r="3.0"/><circle cx="441.7" cy="113.9" r="2.8"/><circle cx="439.5" cy="114.1" r="2.5"/><circle cx="404.4" cy="114.2" r="3.1"/><circle cx="403.4" cy="114.4" r="2.9"/><circle cx="382.7" cy="114.4" r="2.5"/><circle cx="444.2" cy="114.4" r="3.1"/><circle cx="390.7" cy="114.5" r="2.6"/><circle cx="408.1" cy="114.7" r="3.2"/><circle cx="442.5" cy="114.8" r="3.2"/><circle cx="331.3" cy="114.8" r="2.8"/><circle cx="406.5" cy="114.9" r="2.4"/><circle cx="382.2" cy="114.9" r="2.5"/><circle cx="406.5" cy="114.9" r="2.9"/><circle cx="443.7" cy="115.0" r="2.6"/><circle cx="429.5" cy="115.0" r="3.0"/><circle cx="380.0" cy="115.0" r="2.4"/><circle cx="379.3" cy="115.1" r="3.1"/><circle cx="387.9" cy="115.1" r="2.9"/><circle cx="436.5" cy="115.1" r="3.0"/><circle cx="332.8" cy="115.1" r="2.6"/><circle cx="386.0" cy="115.2" r="2.8"/><circle cx="378.5" cy="115.2" r="2.6"/><circle cx="403.3" cy="115.4" r="2.7"/><circle cx="380.4" cy="115.6" r="3.1"/><circle cx="331.7" cy="115.7" r="3.0"/><circle cx="386.9" cy="115.7" r="2.9"/><circle cx="403.5" cy="115.9" r="2.5"/><circle cx="407.0" cy="116.1" r="2.5"/><circle cx="388.2" cy="116.1" r="3.0"/><circle cx="443.0" cy="116.1" r="2.9"/><circle cx="405.4" cy="116.3" r="3.0"/><circle cx="402.6" cy="116.3" r="3.1"/><circle cx="410.2" cy="116.6" r="3.1"/><circle cx="379.0" cy="116.7" r="2.5"/><circle cx="403.5" cy="116.7" r="2.6"/><circle cx="383.6" cy="116.8" r="3.2"/><circle cx="338.4" cy="117.0" r="3.0"/><circle cx="325.5" cy="117.0" r="2.8"/><circle cx="387.8" cy="117.2" r="2.5"/><circle cx="442.5" cy="117.5" r="2.8"/><circle cx="332.2" cy="117.6" r="3.1"/><circle cx="437.4" cy="117.8" r="2.5"/><circle cx="411.9" cy="117.8" r="2.5"/><circle cx="374.9" cy="117.8" r="2.6"/><circle cx="414.3" cy="117.8" r="3.0"/><circle cx="405.0" cy="117.8" r="2.8"/><circle cx="406.3" cy="118.0" r="3.0"/><circle cx="403.2" cy="118.0" r="2.8"/><circle cx="415.5" cy="118.0" r="2.6"/><circle cx="376.8" cy="118.0" r="2.8"/><circle cx="330.6" cy="118.1" r="3.1"/><circle cx="381.5" cy="118.1" r="3.1"/><circle cx="407.3" cy="118.2" r="2.7"/><circle cx="324.4" cy="118.2" r="3.0"/><circle cx="382.7" cy="118.2" r="2.9"/><circle cx="381.4" cy="118.2" r="2.7"/><circle cx="389.3" cy="118.3" r="2.7"/><circle cx="385.5" cy="118.3" r="2.4"/><circle cx="382.3" cy="118.4" r="2.8"/><circle cx="408.8" cy="118.4" r="2.6"/><circle cx="389.9" cy="118.5" r="3.2"/><circle cx="436.7" cy="118.5" r="2.6"/><circle cx="374.9" cy="118.6" r="2.6"/><circle cx="371.6" cy="118.6" r="3.1"/><circle cx="403.6" cy="118.9" r="2.6"/><circle cx="406.6" cy="118.9" r="3.0"/><circle cx="412.6" cy="118.9" r="3.1"/><circle cx="392.4" cy="119.0" r="3.2"/><circle cx="391.7" cy="119.6" r="3.1"/><circle cx="433.9" cy="119.7" r="2.9"/><circle cx="411.2" cy="119.7" r="2.9"/><circle cx="415.1" cy="119.9" r="2.8"/><circle cx="414.9" cy="120.0" r="2.6"/><circle cx="347.2" cy="120.0" r="3.2"/><circle cx="408.4" cy="120.1" r="2.4"/><circle cx="335.4" cy="120.2" r="2.8"/><circle cx="407.3" cy="120.2" r="2.6"/><circle cx="387.3" cy="120.3" r="3.2"/><circle cx="334.8" cy="120.4" r="2.7"/><circle cx="326.9" cy="120.4" r="2.5"/><circle cx="402.3" cy="120.4" r="3.1"/><circle cx="413.5" cy="120.4" r="2.7"/><circle cx="337.8" cy="120.4" r="2.9"/><circle cx="386.3" cy="120.5" r="2.7"/><circle cx="334.4" cy="120.5" r="2.7"/><circle cx="370.1" cy="120.5" r="3.0"/><circle cx="406.3" cy="120.5" r="3.0"/><circle cx="408.1" cy="120.6" r="2.9"/><circle cx="391.0" cy="120.6" r="2.8"/><circle cx="371.3" cy="120.7" r="2.9"/><circle cx="407.7" cy="120.7" r="3.0"/><circle cx="434.4" cy="120.7" r="2.8"/><circle cx="403.6" cy="120.7" r="2.8"/><circle cx="417.7" cy="120.8" r="3.0"/><circle cx="405.6" cy="120.8" r="2.8"/><circle cx="435.9" cy="120.9" r="2.7"/><circle cx="334.8" cy="121.0" r="2.8"/><circle cx="406.1" cy="121.1" r="3.0"/><circle cx="340.3" cy="121.1" r="3.2"/><circle cx="438.8" cy="121.1" r="2.8"/><circle cx="405.7" cy="121.3" r="3.2"/><circle cx="371.0" cy="121.3" r="2.6"/><circle cx="344.7" cy="121.3" r="2.9"/><circle cx="381.5" cy="121.4" r="2.4"/><circle cx="405.1" cy="121.5" r="3.0"/><circle cx="345.1" cy="121.6" r="2.6"/><circle cx="339.0" cy="121.9" r="3.2"/><circle cx="412.6" cy="121.9" r="2.6"/><circle cx="387.6" cy="121.9" r="2.4"/><circle cx="391.2" cy="121.9" r="2.5"/><circle cx="402.7" cy="121.9" r="2.8"/><circle cx="325.2" cy="122.1" r="2.8"/><circle cx="414.1" cy="122.2" r="2.7"/><circle cx="392.3" cy="122.2" r="2.6"/><circle cx="406.2" cy="122.3" r="2.5"/><circle cx="395.2" cy="122.4" r="3.0"/><circle cx="384.8" cy="122.5" r="2.7"/><circle cx="385.4" cy="122.5" r="2.9"/><circle cx="374.9" cy="122.6" r="2.5"/><circle cx="405.0" cy="122.6" r="3.1"/><circle cx="416.7" cy="122.6" r="2.5"/><circle cx="350.4" cy="122.7" r="2.7"/><circle cx="404.2" cy="122.8" r="2.5"/><circle cx="406.2" cy="122.8" r="2.9"/><circle cx="405.9" cy="122.9" r="2.7"/><circle cx="380.8" cy="122.9" r="2.8"/><circle cx="380.3" cy="123.0" r="2.5"/><circle cx="391.0" cy="123.0" r="2.4"/><circle cx="324.8" cy="123.1" r="2.7"/><circle cx="405.7" cy="123.2" r="2.9"/><circle cx="350.2" cy="123.2" r="2.7"/><circle cx="330.6" cy="123.2" r="3.0"/><circle cx="405.9" cy="123.3" r="2.5"/><circle cx="336.2" cy="123.4" r="2.8"/><circle cx="328.4" cy="123.5" r="2.8"/><circle cx="409.0" cy="123.5" r="2.6"/><circle cx="344.0" cy="123.5" r="3.0"/><circle cx="386.8" cy="123.6" r="2.4"/><circle cx="391.3" cy="123.6" r="3.0"/><circle cx="404.7" cy="123.8" r="2.6"/><circle cx="418.3" cy="123.9" r="2.6"/><circle cx="412.2" cy="124.1" r="2.9"/><circle cx="325.6" cy="124.1" r="2.5"/><circle cx="333.6" cy="124.1" r="2.9"/><circle cx="393.4" cy="124.2" r="3.2"/><circle cx="385.1" cy="124.2" r="3.0"/><circle cx="331.4" cy="124.2" r="3.1"/><circle cx="410.5" cy="124.3" r="3.1"/><circle cx="392.5" cy="124.3" r="3.0"/><circle cx="408.5" cy="124.4" r="2.8"/><circle cx="370.9" cy="124.7" r="2.7"/><circle cx="328.3" cy="124.8" r="2.7"/><circle cx="331.6" cy="124.9" r="2.5"/><circle cx="373.2" cy="125.0" r="2.6"/><circle cx="339.7" cy="125.1" r="2.5"/><circle cx="374.3" cy="125.1" r="2.6"/><circle cx="403.3" cy="125.1" r="2.8"/><circle cx="406.5" cy="125.1" r="2.5"/><circle cx="336.6" cy="125.3" r="2.6"/><circle cx="346.8" cy="125.3" r="2.6"/><circle cx="331.6" cy="125.3" r="2.4"/><circle cx="343.1" cy="125.4" r="3.2"/><circle cx="414.5" cy="125.4" r="2.6"/><circle cx="371.5" cy="125.4" r="3.2"/><circle cx="339.6" cy="125.5" r="2.7"/><circle cx="409.6" cy="125.5" r="2.5"/><circle cx="339.8" cy="125.5" r="2.6"/><circle cx="404.7" cy="125.6" r="2.9"/><circle cx="331.8" cy="125.6" r="2.5"/><circle cx="413.1" cy="125.7" r="3.2"/><circle cx="406.9" cy="125.7" r="2.9"/><circle cx="342.7" cy="125.7" r="2.9"/><circle cx="352.0" cy="125.8" r="2.8"/><circle cx="412.9" cy="125.9" r="2.9"/><circle cx="417.6" cy="126.1" r="2.5"/><circle cx="404.2" cy="126.1" r="3.2"/><circle cx="347.4" cy="126.4" r="3.0"/><circle cx="376.1" cy="126.5" r="2.9"/><circle cx="401.5" cy="126.7" r="2.9"/><circle cx="388.3" cy="126.7" r="2.9"/><circle cx="406.5" cy="126.9" r="3.2"/><circle cx="338.1" cy="127.0" r="3.1"/><circle cx="334.3" cy="127.0" r="3.2"/><circle cx="381.0" cy="127.0" r="2.7"/><circle cx="349.7" cy="127.0" r="2.5"/><circle cx="379.5" cy="127.1" r="3.1"/><circle cx="385.0" cy="127.2" r="3.1"/><circle cx="348.6" cy="127.3" r="2.9"/><circle cx="391.1" cy="127.4" r="3.1"/><circle cx="413.6" cy="127.4" r="3.0"/><circle cx="413.0" cy="127.5" r="3.2"/><circle cx="377.0" cy="127.6" r="3.0"/><circle cx="380.9" cy="127.7" r="2.5"/><circle cx="404.7" cy="127.7" r="2.9"/><circle cx="380.2" cy="127.8" r="3.1"/><circle cx="383.2" cy="127.8" r="2.7"/><circle cx="345.7" cy="127.9" r="2.7"/><circle cx="338.9" cy="127.9" r="2.4"/><circle cx="327.2" cy="127.9" r="2.8"/><circle cx="348.2" cy="128.0" r="2.7"/><circle cx="354.2" cy="128.0" r="2.4"/><circle cx="344.8" cy="128.0" r="2.7"/><circle cx="417.9" cy="128.0" r="2.8"/><circle cx="356.3" cy="128.1" r="3.2"/><circle cx="389.2" cy="128.1" r="2.9"/><circle cx="334.1" cy="128.2" r="2.9"/><circle cx="343.8" cy="128.2" r="2.9"/><circle cx="336.3" cy="128.3" r="2.8"/><circle cx="330.8" cy="128.3" r="2.7"/><circle cx="407.0" cy="128.3" r="2.9"/><circle cx="343.7" cy="128.3" r="3.0"/><circle cx="382.4" cy="128.3" r="2.6"/><circle cx="387.2" cy="128.4" r="3.1"/><circle cx="329.0" cy="128.4" r="3.2"/><circle cx="335.1" cy="128.4" r="2.5"/><circle cx="373.8" cy="128.4" r="2.9"/><circle cx="416.6" cy="128.4" r="2.5"/><circle cx="338.3" cy="128.5" r="3.2"/><circle cx="374.8" cy="128.6" r="2.8"/><circle cx="419.1" cy="128.6" r="3.1"/><circle cx="374.2" cy="128.7" r="3.0"/><circle cx="413.1" cy="128.7" r="3.1"/><circle cx="405.8" cy="128.7" r="3.1"/><circle cx="409.3" cy="128.9" r="3.0"/><circle cx="356.2" cy="128.9" r="2.6"/><circle cx="330.5" cy="128.9" r="2.4"/><circle cx="377.1" cy="129.2" r="2.7"/><circle cx="386.1" cy="129.3" r="2.5"/><circle cx="382.0" cy="129.3" r="2.5"/><circle cx="335.0" cy="129.4" r="3.1"/><circle cx="389.6" cy="129.4" r="2.6"/><circle cx="418.4" cy="129.4" r="2.6"/><circle cx="405.8" cy="129.4" r="3.1"/><circle cx="415.4" cy="129.5" r="2.4"/><circle cx="342.7" cy="129.5" r="3.2"/><circle cx="352.2" cy="129.7" r="2.8"/><circle cx="340.9" cy="129.8" r="3.1"/><circle cx="347.8" cy="129.9" r="2.8"/><circle cx="346.1" cy="130.0" r="2.8"/><circle cx="388.6" cy="130.0" r="2.7"/><circle cx="390.1" cy="130.2" r="3.0"/><circle cx="353.1" cy="130.2" r="2.9"/><circle cx="329.9" cy="130.2" r="2.5"/><circle cx="325.0" cy="130.7" r="3.1"/><circle cx="358.8" cy="130.7" r="2.4"/><circle cx="353.9" cy="130.8" r="2.8"/><circle cx="414.0" cy="130.8" r="2.8"/><circle cx="339.3" cy="130.9" r="3.0"/><circle cx="375.8" cy="131.0" r="2.7"/><circle cx="375.0" cy="131.1" r="2.6"/><circle cx="380.3" cy="131.1" r="2.5"/><circle cx="352.0" cy="131.1" r="2.4"/><circle cx="329.1" cy="131.1" r="2.6"/><circle cx="378.2" cy="131.2" r="2.9"/><circle cx="332.2" cy="131.3" r="2.5"/><circle cx="371.0" cy="131.4" r="2.9"/><circle cx="389.4" cy="131.6" r="2.9"/><circle cx="335.8" cy="131.7" r="2.9"/><circle cx="359.1" cy="131.8" r="3.0"/><circle cx="387.5" cy="131.9" r="2.4"/><circle cx="378.4" cy="132.0" r="2.8"/><circle cx="372.2" cy="132.0" r="2.9"/><circle cx="350.9" cy="132.0" r="2.9"/><circle cx="358.9" cy="132.1" r="3.1"/><circle cx="383.8" cy="132.1" r="2.8"/><circle cx="347.7" cy="132.1" r="3.2"/><circle cx="341.5" cy="132.1" r="2.8"/><circle cx="350.2" cy="132.2" r="2.6"/><circle cx="387.6" cy="132.6" r="3.2"/><circle cx="347.5" cy="132.6" r="2.9"/><circle cx="340.6" cy="132.7" r="2.5"/><circle cx="380.6" cy="132.9" r="2.9"/><circle cx="351.0" cy="132.9" r="2.8"/><circle cx="379.4" cy="133.0" r="2.8"/><circle cx="385.5" cy="133.1" r="2.5"/><circle cx="387.1" cy="133.2" r="2.6"/><circle cx="345.4" cy="133.3" r="3.0"/><circle cx="371.8" cy="133.5" r="3.0"/><circle cx="331.2" cy="133.5" r="2.8"/><circle cx="331.0" cy="133.5" r="2.5"/><circle cx="353.4" cy="133.5" r="3.1"/><circle cx="343.6" cy="133.6" r="2.9"/><circle cx="342.9" cy="133.9" r="2.8"/><circle cx="390.1" cy="133.9" r="2.9"/><circle cx="386.9" cy="134.2" r="2.7"/><circle cx="388.9" cy="134.2" r="2.5"/><circle cx="392.3" cy="134.4" r="3.2"/><circle cx="377.8" cy="134.5" r="2.6"/><circle cx="343.2" cy="135.0" r="2.4"/><circle cx="334.2" cy="135.0" r="2.7"/><circle cx="386.8" cy="135.0" r="2.6"/><circle cx="387.7" cy="135.1" r="3.2"/><circle cx="349.3" cy="135.2" r="3.0"/><circle cx="405.0" cy="135.2" r="2.9"/><circle cx="389.1" cy="135.3" r="3.2"/><circle cx="329.4" cy="135.3" r="3.1"/><circle cx="382.4" cy="135.3" r="2.8"/><circle cx="387.5" cy="135.3" r="2.7"/><circle cx="374.4" cy="135.4" r="3.2"/><circle cx="337.5" cy="135.5" r="2.8"/><circle cx="376.0" cy="135.7" r="2.6"/><circle cx="385.1" cy="135.8" r="2.6"/><circle cx="386.1" cy="136.3" r="3.1"/><circle cx="403.6" cy="136.4" r="3.1"/><circle cx="338.1" cy="136.5" r="2.7"/><circle cx="393.1" cy="137.1" r="2.4"/><circle cx="390.2" cy="137.7" r="2.4"/><circle cx="377.4" cy="138.3" r="3.0"/><circle cx="407.8" cy="138.5" r="2.4"/><circle cx="400.7" cy="138.9" r="3.0"/><circle cx="396.1" cy="139.2" r="2.5"/><circle cx="408.1" cy="139.4" r="2.5"/><circle cx="393.9" cy="139.5" r="3.0"/><circle cx="389.5" cy="139.5" r="3.0"/><circle cx="328.5" cy="139.7" r="2.6"/><circle cx="388.5" cy="139.8" r="2.5"/><circle cx="393.3" cy="140.5" r="2.8"/><circle cx="389.8" cy="140.6" r="2.5"/><circle cx="388.8" cy="140.9" r="3.1"/><circle cx="330.0" cy="141.4" r="2.5"/><circle cx="319.8" cy="141.5" r="3.0"/><circle cx="401.6" cy="141.5" r="2.5"/><circle cx="403.8" cy="141.6" r="2.9"/><circle cx="388.4" cy="141.6" r="2.7"/><circle cx="332.0" cy="141.8" r="2.7"/><circle cx="410.0" cy="141.9" r="3.1"/><circle cx="326.7" cy="141.9" r="3.0"/><circle cx="392.6" cy="142.0" r="2.9"/><circle cx="326.2" cy="142.7" r="3.2"/><circle cx="329.9" cy="142.7" r="2.6"/><circle cx="360.6" cy="142.8" r="2.6"/><circle cx="357.8" cy="142.9" r="3.2"/><circle cx="394.0" cy="142.9" r="2.5"/><circle cx="392.2" cy="143.0" r="2.5"/><circle cx="319.2" cy="143.1" r="2.6"/><circle cx="393.1" cy="143.2" r="2.6"/><circle cx="404.1" cy="143.2" r="2.9"/><circle cx="394.2" cy="143.2" r="3.0"/><circle cx="385.5" cy="143.4" r="3.1"/><circle cx="360.1" cy="143.5" r="3.0"/><circle cx="396.3" cy="143.9" r="2.4"/><circle cx="323.4" cy="144.1" r="2.4"/><circle cx="403.4" cy="144.3" r="3.0"/><circle cx="396.0" cy="144.4" r="2.5"/><circle cx="403.4" cy="144.7" r="3.0"/><circle cx="326.2" cy="144.9" r="3.0"/><circle cx="400.3" cy="145.4" r="3.1"/><circle cx="380.9" cy="145.6" r="2.8"/><circle cx="407.2" cy="145.8" r="2.6"/><circle cx="384.5" cy="146.0" r="2.8"/><circle cx="322.7" cy="146.0" r="2.8"/><circle cx="381.6" cy="146.0" r="2.9"/><circle cx="332.9" cy="146.1" r="2.7"/><circle cx="318.1" cy="146.2" r="2.8"/><circle cx="383.3" cy="146.2" r="2.9"/><circle cx="386.9" cy="146.2" r="2.9"/><circle cx="407.2" cy="146.4" r="2.6"/><circle cx="386.2" cy="146.5" r="2.9"/><circle cx="356.9" cy="146.5" r="2.8"/><circle cx="386.5" cy="146.5" r="2.7"/><circle cx="362.7" cy="146.9" r="2.4"/><circle cx="362.3" cy="147.1" r="2.6"/><circle cx="423.2" cy="147.1" r="3.0"/><circle cx="408.3" cy="147.2" r="3.2"/><circle cx="394.0" cy="147.2" r="2.8"/><circle cx="324.9" cy="147.3" r="2.6"/><circle cx="386.8" cy="147.3" r="3.2"/><circle cx="383.2" cy="147.3" r="3.1"/><circle cx="383.5" cy="147.6" r="3.0"/><circle cx="427.7" cy="147.8" r="2.9"/><circle cx="404.4" cy="147.8" r="2.7"/><circle cx="319.2" cy="147.8" r="2.7"/><circle cx="325.7" cy="147.9" r="2.6"/><circle cx="407.4" cy="147.9" r="2.5"/><circle cx="386.6" cy="147.9" r="2.5"/><circle cx="382.7" cy="148.1" r="3.1"/><circle cx="399.4" cy="148.3" r="2.9"/><circle cx="322.3" cy="148.6" r="2.4"/><circle cx="385.6" cy="148.8" r="2.9"/><circle cx="318.8" cy="148.8" r="2.6"/><circle cx="360.5" cy="148.8" r="2.8"/><circle cx="409.0" cy="148.9" r="3.2"/><circle cx="330.0" cy="148.9" r="2.4"/><circle cx="384.8" cy="148.9" r="3.2"/><circle cx="359.4" cy="149.0" r="2.8"/><circle cx="392.6" cy="149.0" r="3.2"/><circle cx="326.2" cy="149.1" r="2.6"/><circle cx="406.6" cy="149.1" r="3.0"/><circle cx="382.9" cy="149.1" r="2.6"/><circle cx="391.4" cy="149.2" r="2.4"/><circle cx="362.3" cy="149.2" r="2.9"/><circle cx="406.2" cy="149.2" r="3.1"/><circle cx="383.5" cy="149.6" r="3.1"/><circle cx="376.3" cy="149.6" r="2.8"/><circle cx="323.4" cy="149.7" r="2.7"/><circle cx="322.2" cy="149.7" r="2.7"/><circle cx="421.4" cy="149.8" r="2.5"/><circle cx="425.6" cy="150.2" r="3.0"/><circle cx="396.2" cy="150.2" r="2.6"/><circle cx="376.3" cy="150.3" r="2.7"/><circle cx="332.0" cy="150.4" r="2.9"/><circle cx="403.1" cy="150.4" r="2.6"/><circle cx="330.1" cy="150.4" r="2.6"/><circle cx="384.8" cy="150.6" r="2.9"/><circle cx="378.4" cy="150.6" r="2.6"/><circle cx="357.2" cy="150.7" r="2.4"/><circle cx="387.2" cy="150.7" r="2.7"/><circle cx="398.2" cy="150.8" r="2.4"/><circle cx="332.5" cy="150.8" r="3.2"/><circle cx="358.5" cy="150.9" r="2.7"/><circle cx="390.8" cy="151.1" r="2.7"/><circle cx="398.3" cy="151.1" r="2.9"/><circle cx="379.3" cy="151.2" r="2.8"/><circle cx="320.2" cy="151.2" r="2.8"/><circle cx="354.9" cy="151.4" r="2.6"/><circle cx="330.8" cy="151.6" r="3.0"/><circle cx="399.8" cy="151.6" r="2.6"/><circle cx="356.4" cy="151.6" r="2.4"/><circle cx="393.4" cy="151.7" r="2.6"/><circle cx="399.1" cy="151.7" r="3.0"/><circle cx="388.7" cy="151.7" r="2.7"/><circle cx="395.8" cy="151.7" r="3.0"/><circle cx="377.1" cy="151.7" r="3.2"/><circle cx="426.6" cy="151.8" r="2.6"/><circle cx="325.5" cy="151.9" r="2.7"/><circle cx="405.5" cy="152.2" r="2.7"/><circle cx="328.8" cy="152.5" r="2.9"/><circle cx="393.2" cy="152.5" r="2.4"/><circle cx="403.3" cy="152.6" r="2.7"/><circle cx="424.9" cy="152.6" r="2.5"/><circle cx="394.8" cy="152.7" r="2.5"/><circle cx="321.7" cy="152.9" r="2.4"/><circle cx="358.3" cy="153.0" r="2.5"/><circle cx="405.2" cy="153.0" r="2.6"/><circle cx="354.4" cy="153.1" r="3.1"/><circle cx="351.4" cy="153.5" r="2.6"/><circle cx="398.8" cy="153.6" r="3.1"/><circle cx="355.1" cy="153.8" r="2.7"/><circle cx="375.1" cy="153.8" r="2.7"/><circle cx="329.1" cy="153.9" r="2.6"/><circle cx="391.6" cy="154.0" r="2.7"/><circle cx="375.9" cy="154.2" r="2.8"/><circle cx="358.3" cy="154.2" r="2.6"/><circle cx="325.3" cy="154.3" r="2.4"/><circle cx="381.6" cy="154.3" r="3.1"/><circle cx="396.0" cy="154.3" r="2.9"/><circle cx="325.6" cy="154.5" r="2.8"/><circle cx="377.1" cy="154.8" r="2.6"/><circle cx="359.2" cy="154.9" r="2.9"/><circle cx="352.4" cy="154.9" r="3.2"/><circle cx="408.0" cy="155.0" r="3.0"/><circle cx="420.3" cy="155.0" r="2.4"/><circle cx="352.1" cy="155.0" r="3.1"/><circle cx="400.8" cy="155.1" r="3.1"/><circle cx="347.7" cy="155.6" r="2.5"/><circle cx="406.4" cy="155.6" r="3.0"/><circle cx="423.6" cy="155.7" r="3.0"/><circle cx="356.7" cy="155.7" r="2.5"/><circle cx="381.4" cy="155.8" r="2.5"/><circle cx="353.4" cy="155.9" r="2.5"/><circle cx="369.0" cy="155.9" r="2.5"/><circle cx="394.3" cy="155.9" r="2.8"/><circle cx="426.1" cy="156.0" r="3.0"/><circle cx="400.4" cy="156.1" r="2.6"/><circle cx="406.2" cy="156.2" r="2.6"/><circle cx="375.0" cy="156.2" r="2.9"/><circle cx="368.6" cy="156.3" r="2.9"/><circle cx="374.2" cy="156.5" r="2.6"/><circle cx="366.7" cy="156.6" r="2.5"/><circle cx="400.2" cy="156.7" r="2.8"/><circle cx="354.5" cy="157.1" r="2.8"/><circle cx="401.9" cy="157.4" r="2.9"/><circle cx="349.6" cy="157.5" r="3.1"/><circle cx="394.5" cy="157.6" r="3.0"/><circle cx="394.7" cy="157.7" r="3.2"/><circle cx="356.8" cy="157.8" r="2.9"/><circle cx="354.2" cy="157.8" r="2.8"/><circle cx="341.2" cy="157.8" r="2.5"/><circle cx="365.6" cy="158.0" r="3.0"/><circle cx="366.8" cy="158.0" r="2.7"/><circle cx="381.7" cy="158.1" r="2.9"/><circle cx="404.0" cy="158.1" r="2.6"/><circle cx="376.4" cy="158.2" r="2.8"/><circle cx="380.2" cy="158.2" r="2.8"/><circle cx="379.3" cy="158.4" r="3.1"/><circle cx="365.3" cy="158.4" r="3.0"/><circle cx="402.3" cy="158.4" r="2.6"/><circle cx="336.4" cy="158.5" r="2.8"/><circle cx="401.3" cy="158.6" r="2.9"/><circle cx="403.9" cy="158.6" r="2.6"/><circle cx="366.2" cy="158.7" r="2.8"/><circle cx="389.9" cy="158.8" r="3.1"/><circle cx="389.3" cy="158.9" r="2.8"/><circle cx="368.6" cy="158.9" r="3.2"/><circle cx="349.4" cy="159.0" r="2.5"/><circle cx="363.7" cy="159.2" r="2.9"/><circle cx="354.0" cy="159.5" r="2.4"/><circle cx="370.6" cy="159.7" r="2.5"/><circle cx="360.7" cy="159.9" r="2.8"/><circle cx="364.5" cy="160.1" r="2.9"/><circle cx="350.2" cy="160.1" r="2.7"/><circle cx="404.7" cy="160.5" r="3.1"/><circle cx="358.8" cy="160.7" r="3.0"/><circle cx="340.8" cy="160.7" r="2.8"/><circle cx="354.1" cy="160.9" r="3.2"/><circle cx="392.3" cy="161.3" r="3.1"/><circle cx="375.2" cy="161.4" r="2.8"/><circle cx="363.6" cy="161.6" r="2.9"/><circle cx="347.7" cy="161.8" r="2.9"/><circle cx="357.6" cy="161.9" r="2.4"/><circle cx="352.3" cy="162.0" r="3.1"/><circle cx="344.0" cy="162.1" r="2.7"/><circle cx="366.4" cy="162.2" r="2.8"/><circle cx="372.2" cy="162.2" r="2.5"/><circle cx="362.9" cy="162.2" r="2.7"/><circle cx="355.5" cy="162.3" r="3.1"/><circle cx="372.1" cy="162.4" r="3.1"/><circle cx="346.5" cy="162.4" r="2.8"/><circle cx="340.0" cy="162.6" r="2.6"/><circle cx="377.7" cy="162.9" r="2.5"/><circle cx="346.8" cy="163.4" r="2.8"/><circle cx="333.3" cy="163.5" r="2.6"/><circle cx="336.1" cy="163.6" r="3.1"/><circle cx="357.4" cy="163.6" r="3.0"/><circle cx="335.3" cy="163.6" r="3.0"/><circle cx="362.3" cy="163.8" r="2.5"/><circle cx="341.0" cy="163.9" r="3.0"/><circle cx="339.6" cy="163.9" r="3.0"/><circle cx="362.1" cy="164.0" r="2.8"/><circle cx="376.2" cy="164.1" r="2.9"/><circle cx="371.4" cy="164.3" r="2.6"/><circle cx="391.7" cy="164.4" r="2.5"/><circle cx="365.5" cy="164.5" r="3.1"/><circle cx="391.2" cy="164.5" r="2.6"/><circle cx="335.7" cy="164.5" r="2.6"/><circle cx="376.4" cy="164.7" r="2.7"/><circle cx="359.0" cy="165.1" r="2.6"/><circle cx="373.5" cy="165.3" r="2.7"/><circle cx="369.8" cy="165.4" r="2.8"/><circle cx="352.0" cy="165.4" r="2.6"/><circle cx="359.1" cy="165.8" r="2.8"/><circle cx="351.3" cy="165.8" r="2.5"/><circle cx="393.8" cy="166.0" r="3.1"/><circle cx="333.5" cy="166.1" r="2.7"/><circle cx="336.3" cy="166.2" r="2.6"/><circle cx="374.3" cy="166.3" r="2.5"/><circle cx="339.7" cy="166.7" r="3.2"/><circle cx="361.8" cy="166.9" r="2.7"/><circle cx="350.5" cy="167.0" r="2.8"/><circle cx="389.1" cy="167.1" r="3.1"/><circle cx="363.3" cy="167.3" r="2.4"/><circle cx="376.1" cy="167.3" r="2.9"/><circle cx="342.9" cy="167.5" r="2.4"/><circle cx="364.4" cy="167.6" r="3.0"/><circle cx="333.1" cy="167.6" r="2.6"/><circle cx="332.9" cy="167.9" r="3.1"/><circle cx="351.6" cy="168.1" r="2.8"/><circle cx="331.5" cy="168.2" r="2.7"/><circle cx="356.3" cy="168.3" r="2.7"/><circle cx="351.5" cy="168.3" r="2.6"/><circle cx="371.7" cy="168.4" r="3.1"/><circle cx="396.0" cy="168.6" r="2.8"/><circle cx="371.4" cy="168.7" r="3.0"/><circle cx="343.3" cy="168.8" r="2.5"/><circle cx="333.2" cy="168.9" r="2.7"/><circle cx="391.5" cy="169.1" r="2.5"/><circle cx="341.7" cy="169.2" r="3.1"/><circle cx="340.4" cy="169.4" r="2.7"/><circle cx="338.9" cy="169.5" r="2.6"/><circle cx="390.7" cy="169.5" r="2.4"/><circle cx="351.8" cy="169.7" r="2.6"/><circle cx="389.5" cy="169.8" r="2.8"/><circle cx="340.0" cy="169.9" r="3.1"/><circle cx="334.5" cy="170.3" r="2.9"/><circle cx="341.8" cy="170.5" r="2.7"/><circle cx="396.2" cy="170.5" r="2.5"/><circle cx="356.3" cy="170.5" r="2.5"/><circle cx="359.2" cy="170.5" r="3.1"/><circle cx="341.9" cy="170.7" r="3.0"/><circle cx="337.0" cy="170.9" r="3.1"/><circle cx="339.1" cy="171.0" r="2.7"/><circle cx="350.6" cy="171.1" r="2.4"/><circle cx="394.2" cy="171.1" r="3.2"/><circle cx="337.1" cy="171.1" r="2.4"/><circle cx="338.6" cy="171.2" r="3.1"/><circle cx="334.4" cy="171.3" r="2.7"/><circle cx="394.8" cy="171.5" r="2.8"/><circle cx="396.3" cy="171.5" r="2.8"/><circle cx="391.6" cy="171.8" r="2.7"/><circle cx="340.1" cy="171.8" r="2.7"/><circle cx="342.1" cy="172.0" r="2.6"/><circle cx="355.2" cy="172.1" r="3.1"/><circle cx="370.5" cy="172.2" r="2.4"/><circle cx="356.4" cy="172.2" r="2.6"/><circle cx="350.1" cy="172.2" r="2.8"/><circle cx="344.2" cy="172.3" r="2.8"/><circle cx="396.2" cy="172.5" r="2.6"/><circle cx="379.1" cy="172.6" r="2.9"/><circle cx="392.5" cy="172.9" r="2.4"/><circle cx="348.4" cy="173.1" r="2.8"/><circle cx="350.1" cy="173.1" r="3.1"/><circle cx="391.6" cy="173.2" r="2.6"/><circle cx="338.0" cy="173.2" r="2.5"/><circle cx="357.0" cy="173.2" r="2.5"/><circle cx="354.8" cy="173.4" r="2.9"/><circle cx="344.5" cy="173.4" r="3.0"/><circle cx="369.0" cy="173.7" r="2.6"/><circle cx="392.0" cy="173.8" r="3.1"/><circle cx="376.6" cy="174.0" r="2.9"/><circle cx="349.3" cy="174.1" r="3.1"/><circle cx="342.3" cy="174.2" r="2.4"/><circle cx="373.9" cy="174.3" r="3.2"/><circle cx="341.3" cy="174.5" r="2.7"/><circle cx="371.4" cy="174.8" r="2.4"/><circle cx="337.8" cy="174.8" r="2.9"/><circle cx="348.7" cy="174.8" r="2.8"/><circle cx="347.6" cy="174.8" r="2.5"/><circle cx="350.7" cy="175.1" r="2.9"/><circle cx="356.9" cy="175.2" r="2.7"/><circle cx="350.8" cy="175.2" r="3.0"/><circle cx="352.8" cy="175.2" r="2.7"/><circle cx="352.2" cy="175.3" r="3.0"/><circle cx="349.5" cy="175.3" r="2.9"/><circle cx="372.2" cy="175.4" r="3.2"/><circle cx="359.7" cy="175.4" r="2.5"/><circle cx="379.4" cy="175.8" r="3.1"/><circle cx="392.7" cy="175.8" r="3.0"/><circle cx="387.7" cy="175.9" r="2.8"/><circle cx="347.1" cy="175.9" r="2.7"/><circle cx="359.3" cy="176.1" r="2.7"/><circle cx="373.0" cy="176.1" r="3.0"/><circle cx="344.5" cy="176.2" r="2.9"/><circle cx="373.9" cy="176.3" r="2.7"/><circle cx="392.6" cy="176.3" r="2.5"/><circle cx="350.3" cy="176.4" r="2.7"/><circle cx="369.8" cy="176.4" r="2.6"/><circle cx="391.6" cy="176.6" r="2.7"/><circle cx="368.3" cy="176.9" r="2.6"/><circle cx="344.0" cy="176.9" r="2.7"/><circle cx="347.1" cy="176.9" r="2.6"/><circle cx="374.9" cy="177.0" r="2.6"/><circle cx="357.8" cy="177.0" r="2.6"/><circle cx="370.8" cy="177.0" r="2.6"/><circle cx="388.8" cy="177.0" r="2.6"/><circle cx="360.5" cy="177.1" r="2.6"/><circle cx="371.6" cy="177.1" r="2.5"/><circle cx="388.0" cy="177.1" r="3.0"/><circle cx="377.8" cy="177.2" r="2.6"/><circle cx="383.0" cy="177.2" r="3.0"/><circle cx="367.6" cy="177.2" r="2.4"/><circle cx="348.1" cy="177.5" r="3.0"/><circle cx="360.6" cy="177.6" r="2.8"/><circle cx="372.1" cy="177.6" r="2.6"/><circle cx="351.3" cy="177.7" r="2.8"/><circle cx="387.0" cy="177.8" r="2.9"/><circle cx="357.6" cy="177.8" r="2.4"/><circle cx="350.7" cy="177.9" r="2.8"/><circle cx="382.1" cy="177.9" r="2.8"/><circle cx="347.5" cy="177.9" r="3.2"/><circle cx="345.2" cy="178.0" r="2.8"/><circle cx="358.4" cy="178.0" r="3.1"/><circle cx="352.2" cy="178.3" r="2.8"/><circle cx="386.8" cy="178.4" r="2.7"/><circle cx="372.5" cy="178.4" r="3.0"/><circle cx="380.1" cy="178.6" r="2.6"/><circle cx="351.3" cy="178.6" r="3.2"/><circle cx="381.9" cy="178.6" r="2.8"/><circle cx="344.3" cy="178.6" r="2.8"/><circle cx="351.0" cy="178.7" r="3.1"/><circle cx="392.1" cy="178.9" r="2.4"/><circle cx="390.1" cy="178.9" r="2.7"/><circle cx="359.5" cy="179.0" r="2.6"/><circle cx="387.4" cy="179.0" r="2.9"/><circle cx="379.2" cy="179.1" r="3.0"/><circle cx="370.7" cy="179.2" r="2.8"/><circle cx="369.3" cy="179.3" r="2.6"/><circle cx="373.0" cy="179.4" r="3.1"/><circle cx="382.7" cy="179.4" r="2.9"/><circle cx="350.9" cy="179.5" r="2.4"/><circle cx="376.8" cy="179.5" r="2.8"/><circle cx="349.4" cy="179.5" r="3.1"/><circle cx="373.9" cy="179.5" r="3.1"/><circle cx="357.6" cy="179.6" r="3.2"/><circle cx="367.7" cy="179.6" r="2.6"/><circle cx="360.7" cy="179.7" r="2.5"/><circle cx="368.2" cy="179.7" r="3.1"/><circle cx="367.7" cy="179.8" r="2.6"/><circle cx="352.3" cy="179.8" r="2.5"/><circle cx="361.7" cy="179.9" r="3.0"/><circle cx="379.2" cy="180.0" r="2.6"/><circle cx="367.0" cy="180.0" r="2.5"/><circle cx="366.8" cy="180.0" r="3.1"/><circle cx="374.3" cy="180.2" r="2.6"/><circle cx="366.5" cy="180.2" r="3.0"/><circle cx="377.9" cy="180.3" r="2.7"/><circle cx="368.0" cy="180.3" r="2.8"/><circle cx="354.6" cy="180.4" r="3.1"/><circle cx="384.1" cy="180.4" r="2.4"/><circle cx="375.7" cy="180.5" r="2.4"/><circle cx="358.9" cy="180.5" r="2.6"/><circle cx="355.9" cy="180.5" r="2.5"/><circle cx="355.7" cy="180.5" r="3.1"/><circle cx="377.3" cy="180.7" r="2.5"/><circle cx="360.8" cy="180.8" r="3.0"/><circle cx="358.9" cy="180.8" r="3.1"/><circle cx="352.4" cy="180.8" r="3.1"/><circle cx="371.3" cy="180.9" r="3.0"/><circle cx="359.2" cy="181.0" r="3.0"/><circle cx="345.8" cy="181.1" r="2.7"/><circle cx="381.9" cy="181.2" r="2.9"/><circle cx="379.4" cy="181.2" r="2.7"/><circle cx="384.8" cy="181.4" r="3.0"/><circle cx="354.9" cy="181.5" r="3.1"/><circle cx="343.7" cy="181.7" r="2.6"/><circle cx="351.6" cy="181.8" r="2.8"/><circle cx="369.0" cy="182.2" r="2.9"/><circle cx="343.4" cy="182.4" r="2.6"/><circle cx="374.8" cy="182.4" r="3.1"/><circle cx="381.7" cy="182.5" r="2.5"/><circle cx="348.9" cy="182.5" r="2.4"/><circle cx="372.1" cy="182.5" r="2.7"/><circle cx="384.9" cy="182.5" r="2.9"/><circle cx="346.7" cy="182.7" r="2.7"/><circle cx="368.3" cy="182.8" r="2.4"/><circle cx="366.4" cy="183.2" r="2.8"/><circle cx="368.9" cy="183.2" r="2.4"/><circle cx="354.9" cy="183.3" r="2.9"/><circle cx="358.9" cy="183.3" r="3.1"/><circle cx="357.3" cy="183.3" r="3.1"/><circle cx="375.1" cy="183.6" r="2.8"/><circle cx="357.8" cy="183.6" r="3.0"/><circle cx="354.9" cy="183.6" r="2.5"/><circle cx="366.5" cy="183.7" r="3.1"/><circle cx="366.3" cy="183.7" r="2.4"/><circle cx="355.8" cy="183.8" r="2.7"/><circle cx="345.6" cy="183.9" r="2.4"/><circle cx="385.2" cy="184.0" r="2.8"/><circle cx="375.4" cy="184.2" r="3.0"/><circle cx="353.6" cy="184.2" r="2.5"/><circle cx="349.8" cy="184.3" r="2.7"/><circle cx="364.8" cy="184.3" r="3.1"/><circle cx="367.9" cy="184.9" r="2.7"/><circle cx="354.6" cy="184.9" r="3.0"/><circle cx="380.0" cy="185.3" r="2.4"/><circle cx="355.6" cy="185.7" r="2.8"/><circle cx="351.4" cy="186.0" r="2.4"/><circle cx="381.3" cy="186.1" r="2.9"/><circle cx="381.3" cy="186.2" r="2.8"/><circle cx="365.3" cy="186.2" r="3.1"/><circle cx="356.8" cy="186.3" r="2.6"/><circle cx="360.7" cy="186.5" r="3.1"/><circle cx="366.2" cy="186.8" r="3.0"/><circle cx="378.7" cy="186.8" r="2.9"/><circle cx="368.5" cy="186.8" r="2.6"/><circle cx="359.7" cy="186.8" r="3.1"/><circle cx="374.3" cy="187.1" r="2.6"/><circle cx="343.6" cy="187.1" r="2.6"/><circle cx="349.3" cy="187.2" r="2.7"/><circle cx="377.2" cy="187.6" r="3.0"/><circle cx="382.9" cy="187.6" r="2.5"/><circle cx="377.5" cy="187.7" r="3.1"/><circle cx="383.6" cy="187.7" r="2.9"/><circle cx="365.0" cy="187.8" r="3.1"/><circle cx="358.1" cy="187.8" r="2.9"/><circle cx="373.7" cy="188.0" r="2.5"/><circle cx="349.3" cy="188.3" r="2.9"/><circle cx="374.9" cy="188.7" r="3.0"/><circle cx="364.8" cy="188.9" r="2.4"/><circle cx="356.0" cy="189.1" r="2.8"/><circle cx="379.8" cy="189.1" r="2.7"/><circle cx="353.1" cy="189.3" r="2.9"/><circle cx="345.7" cy="189.4" r="2.4"/><circle cx="348.2" cy="189.4" r="2.8"/><circle cx="353.3" cy="189.7" r="2.6"/><circle cx="369.4" cy="189.8" r="3.1"/><circle cx="348.7" cy="190.1" r="3.1"/><circle cx="372.4" cy="190.6" r="2.8"/><circle cx="365.5" cy="191.2" r="3.0"/><circle cx="349.5" cy="191.3" r="2.7"/><circle cx="367.4" cy="191.7" r="3.1"/><circle cx="347.5" cy="192.1" r="2.9"/><circle cx="357.2" cy="192.3" r="2.8"/><circle cx="375.2" cy="192.6" r="2.6"/><circle cx="379.2" cy="192.8" r="2.8"/><circle cx="380.9" cy="193.1" r="2.5"/><circle cx="372.5" cy="193.1" r="2.8"/><circle cx="348.5" cy="193.3" r="2.6"/><circle cx="351.0" cy="194.3" r="2.4"/><circle cx="367.3" cy="195.1" r="2.8"/><circle cx="371.8" cy="195.5" r="2.7"/><circle cx="368.8" cy="195.8" r="2.5"/><circle cx="380.0" cy="196.0" r="2.6"/><circle cx="371.1" cy="196.3" r="2.7"/><circle cx="381.4" cy="196.5" r="2.6"/><circle cx="379.2" cy="196.7" r="2.8"/><circle cx="373.7" cy="197.1" r="2.4"/><circle cx="370.5" cy="197.7" r="3.1"/><circle cx="369.6" cy="198.2" r="2.9"/><circle cx="372.5" cy="198.8" r="3.0"/><circle cx="377.2" cy="199.3" r="3.0"/><circle cx="374.7" cy="199.5" r="3.0"/><circle cx="375.2" cy="200.7" r="2.5"/></g>
<path d="M369.2,25.0L369.4,21.2M369.4,21.2L368.9,22.4M369.4,21.2L370.8,20.6M371.7,24.1L370.9,19.8M370.9,19.8L370.8,20.7M370.9,19.8L370.7,20.1M374.2,22.7L372.0,18.5M372.0,18.5L375.2,17.8M372.0,18.5L370.9,17.6M376.7,22.3L376.5,14.4M376.5,14.4L374.7,14.3M376.5,14.4L376.6,15.8M380.0,23.4L381.1,18.3M381.1,18.3L379.4,15.5M381.1,18.3L378.6,16.9M382.0,22.8L378.4,16.6M378.4,16.6L377.7,15.6M378.4,16.6L380.9,15.6M381.4,22.6L380.6,16.6M380.6,16.6L379.4,16.8M380.6,16.6L380.2,15.0M385.4,23.4L385.9,16.2M385.9,16.2L384.5,16.3M385.9,16.2L384.9,14.7M388.5,22.3L388.0,18.1M388.0,18.1L389.4,20.1M388.0,18.1L389.2,21.0M390.1,23.8L389.8,21.3M389.8,21.3L390.0,21.8M389.8,21.3L391.9,21.9M391.3,22.1L393.5,16.4M393.5,16.4L392.5,15.4M393.5,16.4L392.4,15.3M394.6,23.9L394.1,20.0M394.1,20.0L394.6,20.4M394.1,20.0L393.0,19.8M397.0,23.1L398.4,21.0M398.4,21.0L399.7,20.2M398.4,21.0L395.5,21.5M398.5,24.0L398.3,17.8M398.3,17.8L399.2,18.5M398.3,17.8L397.4,19.6M402.6,24.8L405.6,16.6M405.6,16.6L406.0,16.9M405.6,16.6L401.2,15.2M403.4,24.2L405.8,19.7M405.8,19.7L404.1,20.2M405.8,19.7L405.2,19.5M406.9,24.3L408.3,16.7M408.3,16.7L407.1,18.2M408.3,16.7L409.6,16.6M408.6,25.2L411.2,19.6M411.2,19.6L411.6,20.8M411.2,19.6L409.2,17.9M411.7,27.4L415.5,19.3M415.5,19.3L418.4,18.3M415.5,19.3L415.8,20.7M410.8,27.7L416.5,23.5M416.5,23.5L419.1,25.4M416.5,23.5L417.1,21.9M413.7,27.2L417.3,17.3M417.3,17.3L416.8,18.3M417.3,17.3L416.9,18.4M416.2,28.9L419.6,23.5M419.6,23.5L421.5,22.1M419.6,23.5L420.1,23.6M418.0,31.4L425.4,24.6M425.4,24.6L422.6,19.6M425.4,24.6L426.6,24.4M419.9,31.8L425.7,24.2M425.7,24.2L425.0,24.2M425.7,24.2L426.5,24.1M423.5,34.1L427.8,30.2M427.8,30.2L426.9,30.1M427.8,30.2L427.9,29.6M423.2,35.0L422.1,34.5M422.1,34.5L421.9,35.5M422.1,34.5L419.9,33.8M424.1,36.8L428.4,30.7M428.4,30.7L427.6,30.3M428.4,30.7L430.4,27.7M428.4,36.9L432.7,26.6M432.7,26.6L431.5,23.4M432.7,26.6L431.1,28.5M431.5,38.9L433.5,33.0M433.5,33.0L433.4,34.4M433.5,33.0L434.9,34.0M432.7,41.7L434.1,42.2M434.1,42.2L431.3,41.8M434.1,42.2L436.0,39.8M433.6,43.6L437.6,37.1M437.6,37.1L438.7,37.9M437.6,37.1L436.2,37.3M433.9,43.9L436.5,41.2M436.5,41.2L436.8,39.1M436.5,41.2L434.6,39.6M436.4,46.0L441.4,42.6M441.4,42.6L440.5,43.0M441.4,42.6L440.4,42.1M436.6,48.4L445.0,45.0M445.0,45.0L446.8,45.9M445.0,45.0L442.6,43.2M438.2,48.3L444.3,47.1M444.3,47.1L444.8,46.3M444.3,47.1L441.0,47.2M439.2,52.1L446.2,49.1M446.2,49.1L444.7,48.2M446.2,49.1L446.1,47.8M441.3,54.5L448.4,50.6M448.4,50.6L445.6,50.6M448.4,50.6L448.8,52.2M442.1,54.6L444.8,49.9M444.8,49.9L446.6,51.8M444.8,49.9L445.3,52.3M444.0,57.8L451.5,54.8M451.5,54.8L450.8,53.8M451.5,54.8L451.9,52.2M445.6,58.8L447.7,56.6M447.7,56.6L446.5,56.4M447.7,56.6L450.7,58.8M446.1,61.3L451.1,57.9M451.1,57.9L450.9,55.0M451.1,57.9L452.9,61.2M446.9,61.7L452.2,56.6M452.2,56.6L453.2,57.0M452.2,56.6L451.4,55.5M449.1,65.7L456.9,61.4M456.9,61.4L456.7,59.1M456.9,61.4L458.5,57.0M449.9,68.8L456.8,66.6M456.8,66.6L455.7,67.6M456.8,66.6L457.1,63.9M450.3,68.0L453.6,66.7M453.6,66.7L452.9,68.0M453.6,66.7L451.1,66.6M452.7,70.2L463.2,68.0M463.2,68.0L464.5,68.1M463.2,68.0L461.8,67.6M451.6,71.5L458.2,68.4M458.2,68.4L455.5,69.1M458.2,68.4L456.9,68.9M453.0,73.6L460.8,72.9M460.8,72.9L460.1,71.4M460.8,72.9L459.9,71.0M454.0,79.7L462.7,76.6M462.7,76.6L462.1,72.4M462.7,76.6L462.5,76.3M454.7,79.9L461.4,80.3M461.4,80.3L461.3,81.9M461.4,80.3L459.0,81.5M452.1,81.8L461.6,80.4M461.6,80.4L462.2,77.5M461.6,80.4L458.2,82.6M454.2,83.8L461.9,84.6M461.9,84.6L462.6,84.9M461.9,84.6L463.6,83.5M453.9,89.0L459.6,88.8M459.6,88.8L459.7,87.1M459.6,88.8L460.9,87.2M453.8,88.4L460.4,89.1M460.4,89.1L459.3,91.0M460.4,89.1L459.6,89.0M454.0,92.4L458.7,93.5M458.7,93.5L458.8,94.9M458.7,93.5L457.6,92.0M455.1,93.1L458.4,95.0M458.4,95.0L456.8,93.9M458.4,95.0L456.1,98.3M453.8,94.5L459.3,95.8M459.3,95.8L458.9,97.6M459.3,95.8L463.0,94.3M454.0,99.4L461.1,100.0M461.1,100.0L461.1,98.7M461.1,100.0L462.5,99.4M453.2,98.9L458.1,99.6M458.1,99.6L459.4,102.2M458.1,99.6L459.0,100.9M451.9,102.8L455.3,104.3M455.3,104.3L454.8,104.1M455.3,104.3L454.5,106.6M451.1,102.9L452.9,103.5M452.9,103.5L453.0,103.6M452.9,103.5L450.7,102.7M448.6,106.6L453.0,112.2M453.0,112.2L452.7,107.6M453.0,112.2L452.2,114.0M445.1,108.2L449.8,109.9M449.8,109.9L447.7,112.5M449.8,109.9L449.7,110.0M445.0,110.4L447.5,112.0M447.5,112.0L446.5,108.6M447.5,112.0L447.4,109.6M445.0,109.9L450.3,109.5M450.3,109.5L448.5,111.2M450.3,109.5L453.9,110.7M444.1,115.0L456.1,117.6M456.1,117.6L459.4,119.8M456.1,117.6L453.3,116.5M444.8,118.8L455.3,118.9M455.3,118.9L455.7,119.9M455.3,118.9L455.3,119.1M443.8,118.0L446.5,119.1M446.5,119.1L448.7,120.6M446.5,119.1L446.6,117.3M444.0,120.6L446.6,120.1M446.6,120.1L444.7,117.4M446.6,120.1L446.2,117.7M443.1,125.0L448.3,126.8M448.3,126.8L447.5,126.1M448.3,126.8L449.2,125.7M441.1,124.3L448.3,126.7M448.3,126.7L445.2,128.9M448.3,126.7L449.0,128.4M440.6,128.6L448.1,129.8M448.1,129.8L449.5,127.3M448.1,129.8L447.2,133.1M440.3,131.3L443.2,131.0M443.2,131.0L442.9,132.4M443.2,131.0L442.1,132.3M441.4,131.1L448.3,133.0M448.3,133.0L448.8,131.6M448.3,133.0L448.2,135.3M438.9,135.0L441.0,136.4M441.0,136.4L439.1,134.1M441.0,136.4L441.4,137.3M439.4,137.3L446.8,141.1M446.8,141.1L444.4,137.8M446.8,141.1L448.0,139.8M439.2,138.7L446.8,140.9M446.8,140.9L443.8,141.1M446.8,140.9L446.0,140.2M437.2,142.9L439.1,145.3M439.1,145.3L439.5,145.9M439.1,145.3L437.5,144.1M437.1,142.3L438.1,143.6M438.1,143.6L442.0,143.8M438.1,143.6L440.4,142.4M434.6,144.6L440.2,146.5M440.2,146.5L441.8,148.4M440.2,146.5L442.6,149.4M433.8,148.8L441.4,151.6M441.4,151.6L439.8,152.4M441.4,151.6L441.1,151.6M433.0,147.9L437.4,152.3M437.4,152.3L438.6,149.9M437.4,152.3L436.4,151.0M431.1,152.5L437.0,157.2M437.0,157.2L437.9,157.8M437.0,157.2L437.6,157.7M431.1,151.8L434.6,154.3M434.6,154.3L435.1,156.2M434.6,154.3L434.9,154.7M430.6,156.1L435.8,158.4M435.8,158.4L438.1,159.2M435.8,158.4L435.7,157.5M429.0,156.0L437.2,161.2M437.2,161.2L438.6,158.1M437.2,161.2L437.1,160.6M427.6,160.7L434.4,163.1M434.4,163.1L434.8,166.3M434.4,163.1L433.5,166.0M424.0,161.8L428.1,164.0M428.1,164.0L427.1,164.2M428.1,164.0L429.6,164.0M424.1,164.7L426.4,168.0M426.4,168.0L428.4,166.9M426.4,168.0L425.3,168.6M422.9,167.5L430.4,172.4M430.4,172.4L429.9,174.9M430.4,172.4L428.1,169.8M421.8,168.0L429.7,175.2M429.7,175.2L426.9,177.1M429.7,175.2L429.2,176.3M419.0,169.3L423.9,170.1M423.9,170.1L423.9,168.4M423.9,170.1L424.7,171.3M418.7,170.7L423.7,171.4M423.7,171.4L424.7,172.9M423.7,171.4L423.3,169.5M416.7,173.7L420.2,180.9M420.2,180.9L419.2,179.8M420.2,180.9L420.3,182.5M415.7,174.5L416.0,178.7M416.0,178.7L414.5,177.6M416.0,178.7L415.1,178.6M412.9,176.3L414.2,182.5M414.2,182.5L414.1,184.3M414.2,182.5L413.1,179.9M412.1,174.4L414.3,177.8M414.3,177.8L417.1,176.2M414.3,177.8L413.2,178.7M409.3,176.3L413.0,181.7M413.0,181.7L412.7,180.0M413.0,181.7L412.7,180.1M406.5,177.6L409.2,184.1M409.2,184.1L408.7,183.3M409.2,184.1L409.9,183.5M406.2,177.7L409.1,183.7M409.1,183.7L407.5,184.8M409.1,183.7L408.3,183.8M404.2,179.1L409.9,186.2M409.9,186.2L408.3,185.0M409.9,186.2L409.5,182.4M399.0,181.1L403.3,187.3M403.3,187.3L404.2,188.5M403.3,187.3L402.0,186.5M399.6,182.5L403.2,187.8M403.2,187.8L402.4,185.8M403.2,187.8L403.5,188.5M398.0,182.5L403.0,186.7M403.0,186.7L402.0,186.1M403.0,186.7L402.3,186.9M395.1,183.4L398.3,188.4M398.3,188.4L397.0,189.7M398.3,188.4L398.0,186.1M393.7,186.2L398.1,189.8M398.1,189.8L399.0,189.7M398.1,189.8L398.3,190.3M390.1,187.3L397.1,192.1M397.1,192.1L397.4,192.7M397.1,192.1L398.1,190.2M388.1,190.3L395.7,197.0M395.7,197.0L394.0,198.2M395.7,197.0L395.4,197.9M385.5,191.3L392.2,198.3M392.2,198.3L391.3,196.2M392.2,198.3L394.8,202.3M384.6,191.8L386.9,195.1M386.9,195.1L384.9,194.9M386.9,195.1L387.2,196.5M382.9,192.9L385.6,194.9M385.6,194.9L386.2,194.2M385.6,194.9L384.2,196.6M382.3,193.4L386.3,201.2M386.3,201.2L386.5,200.3M386.3,201.2L387.5,200.9M378.4,195.7L383.3,202.2M383.3,202.2L384.0,202.8M383.3,202.2L383.0,201.1M379.7,197.4L386.4,206.3M386.4,206.3L387.0,206.2M386.4,206.3L384.4,206.0M376.9,196.5L381.9,202.0M381.9,202.0L380.8,204.3M381.9,202.0L383.2,201.4M372.1,198.8L375.5,209.3M375.5,209.3L375.8,210.4M375.5,209.3L372.8,208.6M370.1,199.0L374.1,204.4M374.1,204.4L375.2,207.4M374.1,204.4L370.9,206.8M370.1,199.4L370.5,208.3M370.5,208.3L372.3,208.9M370.5,208.3L371.4,207.7M367.4,201.0L366.0,208.2M366.0,208.2L363.6,206.8M366.0,208.2L363.5,208.2M366.5,198.5L365.7,203.3M365.7,203.3L365.4,200.2M365.7,203.3L365.1,203.3M364.9,197.7L362.6,205.1M362.6,205.1L364.2,204.9M362.6,205.1L363.1,204.8M362.8,197.7L360.2,205.8M360.2,205.8L359.7,205.2M360.2,205.8L359.4,203.1M361.3,196.8L359.1,203.2M359.1,203.2L358.4,201.8M359.1,203.2L357.5,200.4M357.1,196.5L354.8,201.8M354.8,201.8L354.3,201.3M354.8,201.8L357.1,202.8M355.6,195.0L352.5,198.8M352.5,198.8L352.1,200.6M352.5,198.8L353.5,198.8M352.7,195.2L350.9,201.5M350.9,201.5L349.6,202.9M350.9,201.5L345.9,202.1M352.3,193.1L351.5,194.6M351.5,194.6L353.1,195.3M351.5,194.6L351.7,195.9M348.3,191.1L347.1,190.7M347.1,190.7L346.2,192.6M347.1,190.7L344.9,187.3M346.7,191.3L341.5,194.3M341.5,194.3L342.3,195.4M341.5,194.3L338.7,196.1M345.2,187.8L343.1,191.6M343.1,191.6L344.5,188.7M343.1,191.6L340.7,190.5M344.7,189.6L340.2,197.5M340.2,197.5L338.8,197.9M340.2,197.5L338.8,197.2M341.3,186.8L336.2,192.6M336.2,192.6L339.2,192.0M336.2,192.6L336.4,191.8M340.9,182.9L337.0,188.3M337.0,188.3L336.9,190.0M337.0,188.3L341.1,188.8M339.3,183.9L333.5,188.0M333.5,188.0L331.1,186.1M333.5,188.0L332.7,187.9M338.2,182.4L332.4,188.4M332.4,188.4L334.2,188.5M332.4,188.4L331.7,190.2M336.4,180.5L333.1,183.4M333.1,183.4L331.9,184.0M333.1,183.4L332.4,181.1M335.5,178.1L332.7,179.1M332.7,179.1L332.4,178.2M332.7,179.1L331.0,182.1M332.8,176.3L329.7,179.8M329.7,179.8L330.2,179.4M329.7,179.8L330.4,180.4M331.4,175.1L329.7,174.3M329.7,174.3L330.5,175.9M329.7,174.3L333.7,173.7M330.6,172.9L324.9,177.9M324.9,177.9L324.6,174.7M324.9,177.9L326.3,176.6M327.2,170.8L324.6,173.1M324.6,173.1L325.3,175.4M324.6,173.1L325.7,174.6M326.6,171.4L324.3,176.3M324.3,176.3L325.3,173.9M324.3,176.3L322.9,175.8M325.5,168.1L321.4,173.0M321.4,173.0L323.4,171.4M321.4,173.0L322.2,172.0M324.2,164.4L317.3,171.5M317.3,171.5L317.6,175.4M317.3,171.5L317.6,171.6M322.5,165.1L319.0,168.4M319.0,168.4L320.9,170.2M319.0,168.4L318.4,168.3M323.2,161.7L316.0,168.9M316.0,168.9L317.4,168.5M316.0,168.9L317.3,171.6M320.2,161.0L311.1,164.7M311.1,164.7L312.0,167.4M311.1,164.7L311.8,165.4M321.6,158.6L311.8,162.4M311.8,162.4L312.1,165.2M311.8,162.4L311.5,162.5M319.3,155.0L313.2,158.8M313.2,158.8L314.1,158.5M313.2,158.8L314.0,159.3M319.3,154.3L314.2,156.2M314.2,156.2L316.9,160.5M314.2,156.2L312.2,154.1M317.8,151.8L309.2,152.3M309.2,152.3L310.0,151.2M309.2,152.3L308.8,152.3M317.4,146.6L309.5,147.2M309.5,147.2L310.5,144.2M309.5,147.2L307.1,148.2M317.9,144.5L314.1,143.6M314.1,143.6L315.8,148.7M314.1,143.6L310.5,144.7M317.4,145.0L310.8,145.4M310.8,145.4L309.4,146.6M310.8,145.4L308.5,147.4M320.0,142.2L310.1,144.8M310.1,144.8L312.0,143.5M310.1,144.8L309.9,145.0M318.3,139.4L309.9,138.9M309.9,138.9L312.0,138.9M309.9,138.9L309.3,138.0M318.3,135.5L317.5,135.1M317.5,135.1L318.7,131.1M317.5,135.1L318.5,134.8M318.2,133.3L311.0,134.1M311.0,134.1L311.4,133.6M311.0,134.1L309.4,131.8M317.6,133.6L308.9,133.5M308.9,133.5L308.8,134.9M308.9,133.5L309.8,128.7M319.6,131.4L314.6,131.6M314.6,131.6L311.9,132.7M314.6,131.6L315.8,131.7M319.7,127.9L311.4,128.8M311.4,128.8L311.2,128.6M311.4,128.8L308.7,128.5M320.9,123.7L315.6,122.7M315.6,122.7L316.9,119.1M315.6,122.7L316.1,125.3M319.4,121.4L316.4,120.6M316.4,120.6L317.3,119.3M316.4,120.6L317.6,124.0M319.8,122.3L314.0,120.9M314.0,120.9L315.4,120.0M314.0,120.9L315.4,120.6M319.3,117.9L316.1,116.6M316.1,116.6L317.1,115.8M316.1,116.6L314.4,116.3M319.1,117.1L310.7,116.0M310.7,116.0L313.3,116.6M310.7,116.0L311.7,117.2M321.1,113.0L314.1,112.8M314.1,112.8L314.6,113.0M314.1,112.8L309.9,116.1M322.7,111.0L317.6,104.7M317.6,104.7L318.2,103.0M317.6,104.7L315.9,102.5M323.5,111.0L316.1,105.6M316.1,105.6L314.1,105.0M316.1,105.6L315.3,106.3M324.7,110.9L318.6,104.5M318.6,104.5L318.1,103.3M318.6,104.5L317.7,107.2M327.5,107.6L325.0,104.4M325.0,104.4L323.9,104.0M325.0,104.4L324.7,104.7M327.6,105.4L319.4,98.3M319.4,98.3L318.7,97.6M319.4,98.3L322.6,99.9M328.1,100.9L324.2,101.2M324.2,101.2L325.0,103.2M324.2,101.2L323.9,100.9M328.4,100.5L321.0,97.8M321.0,97.8L319.4,94.4M321.0,97.8L320.8,100.1M332.2,97.1L322.7,95.1M322.7,95.1L322.0,94.2M322.7,95.1L321.6,91.8M331.0,96.7L324.4,93.8M324.4,93.8L322.5,93.5M324.4,93.8L327.2,97.2M330.6,94.6L323.5,92.2M323.5,92.2L322.5,92.3M323.5,92.2L322.7,94.8M332.8,92.3L329.2,93.4M329.2,93.4L331.3,90.4M329.2,93.4L328.7,91.5M332.7,90.9L329.4,88.5M329.4,88.5L329.5,84.4M329.4,88.5L327.7,88.6M333.8,87.8L332.0,84.8M332.0,84.8L332.4,84.9M332.0,84.8L334.8,84.5M336.9,84.9L329.4,81.4M329.4,81.4L329.2,82.8M329.4,81.4L330.3,80.2M335.7,84.1L331.4,82.0M331.4,82.0L331.3,79.4M331.4,82.0L333.7,80.8M336.8,82.1L329.5,78.5M329.5,78.5L331.5,80.1M329.5,78.5L329.9,79.7M338.6,80.2L335.6,77.7M335.6,77.7L338.0,77.2M335.6,77.7L335.7,78.9M337.7,77.5L335.9,75.6M335.9,75.6L335.7,75.6M335.9,75.6L337.3,75.4M341.1,72.9L333.1,68.2M333.1,68.2L331.5,67.4M333.1,68.2L335.0,68.2M341.0,70.3L336.3,64.6M336.3,64.6L335.5,67.5M336.3,64.6L336.7,64.2M342.1,72.6L337.3,70.0M337.3,70.0L335.5,70.0M337.3,70.0L335.5,68.4M344.5,68.0L337.1,63.1M337.1,63.1L335.3,63.8M337.1,63.1L339.0,63.0M345.3,65.8L343.7,67.8M343.7,67.8L343.5,67.6M343.7,67.8L344.9,70.4M347.4,62.9L342.6,58.8M342.6,58.8L340.8,59.2M342.6,58.8L340.6,60.7M348.0,63.6L343.6,63.0M343.6,63.0L343.8,62.1M343.6,63.0L341.8,60.0M348.4,61.4L341.2,59.2M341.2,59.2L340.1,58.8M341.2,59.2L339.5,60.8M350.6,59.2L340.3,53.6M340.3,53.6L342.4,51.3M340.3,53.6L341.3,55.6M352.9,55.9L350.4,55.4M350.4,55.4L350.3,54.5M350.4,55.4L349.0,56.9M354.1,54.5L350.1,52.7M350.1,52.7L354.2,52.5M350.1,52.7L349.4,54.3M354.7,53.3L352.6,50.1M352.6,50.1L350.1,47.1M352.6,50.1L353.3,47.9M355.6,52.2L347.7,48.5M347.7,48.5L346.4,46.9M347.7,48.5L349.6,49.1M356.1,47.4L349.8,42.1M349.8,42.1L353.1,41.2M349.8,42.1L352.3,41.8M358.3,45.3L355.3,45.5M355.3,45.5L358.2,45.1M355.3,45.5L355.3,44.7M360.0,45.6L352.2,43.9M352.2,43.9L353.2,47.3M352.2,43.9L351.5,44.2M361.4,42.5L358.7,41.0M358.7,41.0L358.6,40.4M358.7,41.0L357.3,42.1M360.4,40.5L354.3,34.4M354.3,34.4L353.5,35.1M354.3,34.4L354.2,32.2M363.2,39.0L359.5,38.6M359.5,38.6L357.5,36.9M359.5,38.6L360.7,40.3M363.4,36.2L357.1,33.9M357.1,33.9L356.4,33.5M357.1,33.9L355.3,32.9M364.9,33.2L356.6,29.0M356.6,29.0L354.0,27.3M356.6,29.0L358.8,28.7M365.9,30.2L364.9,26.0M364.9,26.0L365.3,25.9M364.9,26.0L367.3,27.5M368.0,31.1L365.3,28.4M365.3,28.4L363.9,28.7M365.3,28.4L365.0,30.8M366.8,28.1L361.2,25.2M361.2,25.2L363.5,26.2M361.2,25.2L361.5,27.2M368.9,26.5L368.3,25.1M368.3,25.1L367.6,27.4M368.3,25.1L369.6,25.6" stroke="#44b0b0" stroke-width="0.9" fill="none"/>
<circle cx="369.4" cy="21.2" r="0.9" fill="#cc1818"/><circle cx="370.9" cy="19.8" r="0.9" fill="#e4e4e4"/><circle cx="372.0" cy="18.5" r="0.9" fill="#cc1818"/><circle cx="376.5" cy="14.4" r="0.9" fill="#2828c8"/><circle cx="381.1" cy="18.3" r="0.9" fill="#2828c8"/><circle cx="380.6" cy="16.6" r="0.9" fill="#2828c8"/><circle cx="385.9" cy="16.2" r="0.9" fill="#2828c8"/><circle cx="388.0" cy="18.1" r="0.9" fill="#cc1818"/><circle cx="389.8" cy="21.3" r="0.9" fill="#2828c8"/><circle cx="393.5" cy="16.4" r="0.9" fill="#e4e4e4"/><circle cx="398.4" cy="21.0" r="0.9" fill="#e4e4e4"/><circle cx="398.3" cy="17.8" r="0.9" fill="#2828c8"/><circle cx="405.8" cy="19.7" r="0.9" fill="#e4e4e4"/><circle cx="408.3" cy="16.7" r="0.9" fill="#2828c8"/><circle cx="411.2" cy="19.6" r="0.9" fill="#2828c8"/><circle cx="415.5" cy="19.3" r="0.9" fill="#2828c8"/><circle cx="416.5" cy="23.5" r="0.9" fill="#e4e4e4"/><circle cx="417.3" cy="17.3" r="0.9" fill="#cc1818"/><circle cx="419.6" cy="23.5" r="0.9" fill="#e4e4e4"/><circle cx="425.7" cy="24.2" r="0.9" fill="#cc1818"/><circle cx="427.8" cy="30.2" r="0.9" fill="#2828c8"/><circle cx="422.1" cy="34.5" r="0.9" fill="#cc1818"/><circle cx="428.4" cy="30.7" r="0.9" fill="#e4e4e4"/><circle cx="432.7" cy="26.6" r="0.9" fill="#2828c8"/><circle cx="433.5" cy="33.0" r="0.9" fill="#e4e4e4"/><circle cx="434.1" cy="42.2" r="0.9" fill="#e4e4e4"/><circle cx="437.6" cy="37.1" r="0.9" fill="#2828c8"/><circle cx="436.5" cy="41.2" r="0.9" fill="#2828c8"/><circle cx="441.4" cy="42.6" r="0.9" fill="#cc1818"/><circle cx="445.0" cy="45.0" r="0.9" fill="#2828c8"/><circle cx="444.3" cy="47.1" r="0.9" fill="#e4e4e4"/><circle cx="446.2" cy="49.1" r="0.9" fill="#2828c8"/><circle cx="448.4" cy="50.6" r="0.9" fill="#2828c8"/><circle cx="444.8" cy="49.9" r="0.9" fill="#2828c8"/><circle cx="451.5" cy="54.8" r="0.9" fill="#2828c8"/><circle cx="447.7" cy="56.6" r="0.9" fill="#2828c8"/><circle cx="451.1" cy="57.9" r="0.9" fill="#2828c8"/><circle cx="452.2" cy="56.6" r="0.9" fill="#e4e4e4"/><circle cx="456.9" cy="61.4" r="0.9" fill="#cc1818"/><circle cx="456.8" cy="66.6" r="0.9" fill="#e4e4e4"/><circle cx="463.2" cy="68.0" r="0.9" fill="#cc1818"/><circle cx="458.2" cy="68.4" r="0.9" fill="#2828c8"/><circle cx="460.8" cy="72.9" r="0.9" fill="#cc1818"/><circle cx="462.7" cy="76.6" r="0.9" fill="#e4e4e4"/><circle cx="461.4" cy="80.3" r="0.9" fill="#cc1818"/><circle cx="461.6" cy="80.4" r="0.9" fill="#2828c8"/><circle cx="461.9" cy="84.6" r="0.9" fill="#2828c8"/><circle cx="459.6" cy="88.8" r="0.9" fill="#2828c8"/><circle cx="458.7" cy="93.5" r="0.9" fill="#2828c8"/><circle cx="459.3" cy="95.8" r="0.9" fill="#2828c8"/><circle cx="458.1" cy="99.6" r="0.9" fill="#2828c8"/><circle cx="455.3" cy="104.3" r="0.9" fill="#e4e4e4"/><circle cx="452.9" cy="103.5" r="0.9" fill="#cc1818"/><circle cx="449.8" cy="109.9" r="0.9" fill="#cc1818"/><circle cx="447.5" cy="112.0" r="0.9" fill="#2828c8"/><circle cx="450.3" cy="109.5" r="0.9" fill="#e4e4e4"/><circle cx="456.1" cy="117.6" r="0.9" fill="#cc1818"/><circle cx="455.3" cy="118.9" r="0.9" fill="#cc1818"/><circle cx="446.5" cy="119.1" r="0.9" fill="#2828c8"/><circle cx="446.6" cy="120.1" r="0.9" fill="#2828c8"/><circle cx="448.3" cy="126.8" r="0.9" fill="#2828c8"/><circle cx="448.1" cy="129.8" r="0.9" fill="#e4e4e4"/><circle cx="443.2" cy="131.0" r="0.9" fill="#e4e4e4"/><circle cx="448.3" cy="133.0" r="0.9" fill="#2828c8"/><circle cx="441.0" cy="136.4" r="0.9" fill="#2828c8"/><circle cx="446.8" cy="141.1" r="0.9" fill="#cc1818"/><circle cx="446.8" cy="140.9" r="0.9" fill="#e4e4e4"/><circle cx="439.1" cy="145.3" r="0.9" fill="#e4e4e4"/><circle cx="438.1" cy="143.6" r="0.9" fill="#2828c8"/><circle cx="440.2" cy="146.5" r="0.9" fill="#e4e4e4"/><circle cx="441.4" cy="151.6" r="0.9" fill="#e4e4e4"/><circle cx="437.4" cy="152.3" r="0.9" fill="#2828c8"/><circle cx="437.0" cy="157.2" r="0.9" fill="#2828c8"/><circle cx="434.6" cy="154.3" r="0.9" fill="#cc1818"/><circle cx="435.8" cy="158.4" r="0.9" fill="#cc1818"/><circle cx="434.4" cy="163.1" r="0.9" fill="#2828c8"/><circle cx="426.4" cy="168.0" r="0.9" fill="#cc1818"/><circle cx="430.4" cy="172.4" r="0.9" fill="#e4e4e4"/><circle cx="429.7" cy="175.2" r="0.9" fill="#e4e4e4"/><circle cx="423.9" cy="170.1" r="0.9" fill="#cc1818"/><circle cx="423.7" cy="171.4" r="0.9" fill="#cc1818"/><circle cx="420.2" cy="180.9" r="0.9" fill="#cc1818"/><circle cx="416.0" cy="178.7" r="0.9" fill="#2828c8"/><circle cx="414.2" cy="182.5" r="0.9" fill="#e4e4e4"/><circle cx="414.3" cy="177.8" r="0.9" fill="#cc1818"/><circle cx="413.0" cy="181.7" r="0.9" fill="#cc1818"/><circle cx="409.2" cy="184.1" r="0.9" fill="#2828c8"/><circle cx="409.1" cy="183.7" r="0.9" fill="#2828c8"/><circle cx="409.9" cy="186.2" r="0.9" fill="#2828c8"/><circle cx="403.3" cy="187.3" r="0.9" fill="#2828c8"/><circle cx="403.2" cy="187.8" r="0.9" fill="#e4e4e4"/><circle cx="403.0" cy="186.7" r="0.9" fill="#cc1818"/><circle cx="398.3" cy="188.4" r="0.9" fill="#cc1818"/><circle cx="398.1" cy="189.8" r="0.9" fill="#e4e4e4"/><circle cx="397.1" cy="192.1" r="0.9" fill="#e4e4e4"/><circle cx="395.7" cy="197.0" r="0.9" fill="#2828c8"/><circle cx="385.6" cy="194.9" r="0.9" fill="#2828c8"/><circle cx="386.3" cy="201.2" r="0.9" fill="#e4e4e4"/><circle cx="386.4" cy="206.3" r="0.9" fill="#e4e4e4"/><circle cx="381.9" cy="202.0" r="0.9" fill="#cc1818"/><circle cx="375.5" cy="209.3" r="0.9" fill="#2828c8"/><circle cx="374.1" cy="204.4" r="0.9" fill="#e4e4e4"/><circle cx="370.5" cy="208.3" r="0.9" fill="#e4e4e4"/><circle cx="366.0" cy="208.2" r="0.9" fill="#e4e4e4"/><circle cx="365.7" cy="203.3" r="0.9" fill="#cc1818"/><circle cx="362.6" cy="205.1" r="0.9" fill="#e4e4e4"/><circle cx="360.2" cy="205.8" r="0.9" fill="#cc1818"/><circle cx="359.1" cy="203.2" r="0.9" fill="#2828c8"/><circle cx="354.8" cy="201.8" r="0.9" fill="#cc1818"/><circle cx="352.5" cy="198.8" r="0.9" fill="#cc1818"/><circle cx="351.5" cy="194.6" r="0.9" fill="#2828c8"/><circle cx="347.1" cy="190.7" r="0.9" fill="#2828c8"/><circle cx="341.5" cy="194.3" r="0.9" fill="#2828c8"/><circle cx="343.1" cy="191.6" r="0.9" fill="#2828c8"/><circle cx="340.2" cy="197.5" r="0.9" fill="#e4e4e4"/><circle cx="336.2" cy="192.6" r="0.9" fill="#cc1818"/><circle cx="337.0" cy="188.3" r="0.9" fill="#2828c8"/><circle cx="333.5" cy="188.0" r="0.9" fill="#e4e4e4"/><circle cx="332.4" cy="188.4" r="0.9" fill="#2828c8"/><circle cx="333.1" cy="183.4" r="0.9" fill="#e4e4e4"/><circle cx="332.7" cy="179.1" r="0.9" fill="#e4e4e4"/><circle cx="329.7" cy="179.8" r="0.9" fill="#e4e4e4"/><circle cx="329.7" cy="174.3" r="0.9" fill="#2828c8"/><circle cx="324.9" cy="177.9" r="0.9" fill="#e4e4e4"/><circle cx="324.6" cy="173.1" r="0.9" fill="#cc1818"/><circle cx="324.3" cy="176.3" r="0.9" fill="#cc1818"/><circle cx="321.4" cy="173.0" r="0.9" fill="#cc1818"/><circle cx="317.3" cy="171.5" r="0.9" fill="#2828c8"/><circle cx="316.0" cy="168.9" r="0.9" fill="#2828c8"/><circle cx="311.1" cy="164.7" r="0.9" fill="#2828c8"/><circle cx="311.8" cy="162.4" r="0.9" fill="#cc1818"/><circle cx="314.2" cy="156.2" r="0.9" fill="#2828c8"/><circle cx="309.2" cy="152.3" r="0.9" fill="#cc1818"/><circle cx="309.5" cy="147.2" r="0.9" fill="#cc1818"/><circle cx="314.1" cy="143.6" r="0.9" fill="#cc1818"/><circle cx="310.8" cy="145.4" r="0.9" fill="#cc1818"/><circle cx="309.9" cy="138.9" r="0.9" fill="#e4e4e4"/><circle cx="317.5" cy="135.1" r="0.9" fill="#e4e4e4"/><circle cx="311.0" cy="134.1" r="0.9" fill="#2828c8"/><circle cx="308.9" cy="133.5" r="0.9" fill="#e4e4e4"/><circle cx="311.4" cy="128.8" r="0.9" fill="#e4e4e4"/><circle cx="315.6" cy="122.7" r="0.9" fill="#cc1818"/><circle cx="316.4" cy="120.6" r="0.9" fill="#2828c8"/><circle cx="314.0" cy="120.9" r="0.9" fill="#e4e4e4"/><circle cx="316.1" cy="116.6" r="0.9" fill="#2828c8"/><circle cx="310.7" cy="116.0" r="0.9" fill="#2828c8"/><circle cx="314.1" cy="112.8" r="0.9" fill="#cc1818"/><circle cx="317.6" cy="104.7" r="0.9" fill="#cc1818"/><circle cx="316.1" cy="105.6" r="0.9" fill="#2828c8"/><circle cx="325.0" cy="104.4" r="0.9" fill="#e4e4e4"/><circle cx="319.4" cy="98.3" r="0.9" fill="#cc1818"/><circle cx="324.2" cy="101.2" r="0.9" fill="#cc1818"/><circle cx="322.7" cy="95.1" r="0.9" fill="#2828c8"/><circle cx="324.4" cy="93.8" r="0.9" fill="#e4e4e4"/><circle cx="323.5" cy="92.2" r="0.9" fill="#cc1818"/><circle cx="329.2" cy="93.4" r="0.9" fill="#cc1818"/><circle cx="329.4" cy="88.5" r="0.9" fill="#cc1818"/><circle cx="332.0" cy="84.8" r="0.9" fill="#e4e4e4"/><circle cx="329.4" cy="81.4" r="0.9" fill="#cc1818"/><circle cx="331.4" cy="82.0" r="0.9" fill="#2828c8"/><circle cx="329.5" cy="78.5" r="0.9" fill="#2828c8"/><circle cx="335.9" cy="75.6" r="0.9" fill="#e4e4e4"/><circle cx="333.1" cy="68.2" r="0.9" fill="#cc1818"/><circle cx="336.3" cy="64.6" r="0.9" fill="#cc1818"/><circle cx="337.3" cy="70.0" r="0.9" fill="#cc1818"/><circle cx="337.1" cy="63.1" r="0.9" fill="#cc1818"/><circle cx="343.7" cy="67.8" r="0.9" fill="#cc1818"/><circle cx="342.6" cy="58.8" r="0.9" fill="#e4e4e4"/><circle cx="343.6" cy="63.0" r="0.9" fill="#e4e4e4"/><circle cx="341.2" cy="59.2" r="0.9" fill="#2828c8"/><circle cx="340.3" cy="53.6" r="0.9" fill="#2828c8"/><circle cx="350.1" cy="52.7" r="0.9" fill="#2828c8"/><circle cx="352.6" cy="50.1" r="0.9" fill="#cc1818"/><circle cx="347.7" cy="48.5" r="0.9" fill="#2828c8"/><circle cx="355.3" cy="45.5" r="0.9" fill="#2828c8"/><circle cx="352.2" cy="43.9" r="0.9" fill="#e4e4e4"/><circle cx="358.7" cy="41.0" r="0.9" fill="#e4e4e4"/><circle cx="354.3" cy="34.4" r="0.9" fill="#2828c8"/><circle cx="359.5" cy="38.6" r="0.9" fill="#cc1818"/><circle cx="357.1" cy="33.9" r="0.9" fill="#e4e4e4"/><circle cx="356.6" cy="29.0" r="0.9" fill="#cc1818"/><circle cx="364.9" cy="26.0" r="0.9" fill="#e4e4e4"/><circle cx="365.3" cy="28.4" r="0.9" fill="#2828c8"/><circle cx="361.2" cy="25.2" r="0.9" fill="#2828c8"/><circle cx="368.3" cy="25.1" r="0.9" fill="#e4e4e4"/>
<path d="M377.0,16.0L377.7,16.0M377.0,16.0L377.6,15.2M377.0,16.0L379.8,18.1M377.0,16.0L378.7,16.2M377.0,16.0L378.5,16.3" stroke="#40a8a8" stroke-width="0.9" fill="none"/>
<circle cx="377.0" cy="16.0" r="0.9" fill="#2a2ad0"/><circle cx="377.7" cy="16.0" r="0.7" fill="#3ab0b0"/><circle cx="378.5" cy="16.3" r="0.7" fill="#e8e8e8"/>
<path d="M379.0,20.0L382.2,21.6M379.0,20.0L376.8,16.2M379.0,20.0L378.9,15.4M379.0,20.0L378.5,18.5M379.0,20.0L382.8,21.5" stroke="#40a8a8" stroke-width="0.9" fill="none"/>
<circle cx="379.0" cy="20.0" r="0.9" fill="#2a2ad0"/><circle cx="382.2" cy="21.6" r="0.7" fill="#3ab0b0"/><circle cx="376.8" cy="16.2" r="0.7" fill="#e8e8e8"/><circle cx="378.9" cy="15.4" r="0.7" fill="#e8e8e8"/>
<path d="M391.0,14.0L390.8,13.9M391.0,14.0L389.3,16.2M391.0,14.0L388.6,13.9M391.0,14.0L390.9,15.9M391.0,14.0L395.9,16.8" stroke="#40a8a8" stroke-width="0.9" fill="none"/>
<circle cx="391.0" cy="14.0" r="0.9" fill="#2a2ad0"/><circle cx="389.3" cy="16.2" r="0.7" fill="#e8e8e8"/><circle cx="388.6" cy="13.9" r="0.7" fill="#cc1818"/>
<path d="M396.0,12.0L402.2,13.7M396.0,12.0L398.1,10.8M396.0,12.0L394.6,12.9M396.0,12.0L396.9,11.7M396.0,12.0L392.8,9.5" stroke="#40a8a8" stroke-width="0.9" fill="none"/>
<circle cx="396.0" cy="12.0" r="0.9" fill="#2a2ad0"/><circle cx="398.1" cy="10.8" r="0.7" fill="#cc1818"/><circle cx="394.6" cy="12.9" r="0.7" fill="#e8e8e8"/><circle cx="392.8" cy="9.5" r="0.7" fill="#3ab0b0"/>
<path d="M402.0,11.0L402.9,11.5M402.0,11.0L403.7,13.4M402.0,11.0L404.4,13.0M402.0,11.0L404.8,5.8M402.0,11.0L401.3,13.5" stroke="#40a8a8" stroke-width="0.9" fill="none"/>
<circle cx="402.0" cy="11.0" r="0.9" fill="#2a2ad0"/><circle cx="403.7" cy="13.4" r="0.7" fill="#e8e8e8"/><circle cx="404.4" cy="13.0" r="0.7" fill="#cc1818"/>
<path d="M398.0,18.0L394.8,21.1M398.0,18.0L397.5,17.3M398.0,18.0L399.4,19.5M398.0,18.0L397.0,17.9M398.0,18.0L401.7,11.8" stroke="#40a8a8" stroke-width="0.9" fill="none"/>
<circle cx="398.0" cy="18.0" r="0.9" fill="#2a2ad0"/><circle cx="394.8" cy="21.1" r="0.7" fill="#cc1818"/>
<path d="M411.0,21.0L411.0,18.6M411.0,21.0L410.7,19.6M411.0,21.0L410.5,20.0M411.0,21.0L411.0,17.2M411.0,21.0L410.0,23.8" stroke="#40a8a8" stroke-width="0.9" fill="none"/>
<circle cx="411.0" cy="21.0" r="0.9" fill="#2a2ad0"/><circle cx="411.0" cy="18.6" r="0.7" fill="#3ab0b0"/><circle cx="410.7" cy="19.6" r="0.7" fill="#e8e8e8"/><circle cx="410.5" cy="20.0" r="0.7" fill="#3ab0b0"/>
<path d="M413.0,25.0L415.6,22.8M413.0,25.0L411.4,27.8M413.0,25.0L410.5,24.0M413.0,25.0L414.3,21.1M413.0,25.0L414.1,20.7" stroke="#40a8a8" stroke-width="0.9" fill="none"/>
<circle cx="413.0" cy="25.0" r="0.9" fill="#2a2ad0"/><circle cx="415.6" cy="22.8" r="0.7" fill="#cc1818"/><circle cx="410.5" cy="24.0" r="0.7" fill="#3ab0b0"/>
<path d="M425.0,31.0L425.4,31.9M425.0,31.0L424.2,32.9M425.0,31.0L425.1,31.8M425.0,31.0L426.7,33.7M425.0,31.0L423.8,30.5" stroke="#40a8a8" stroke-width="0.9" fill="none"/>
<circle cx="425.0" cy="31.0" r="0.9" fill="#2a2ad0"/><circle cx="424.2" cy="32.9" r="0.7" fill="#3ab0b0"/><circle cx="425.1" cy="31.8" r="0.7" fill="#cc1818"/>
<path d="M431.0,33.0L428.8,35.8M431.0,33.0L430.3,34.4M431.0,33.0L432.6,30.0M431.0,33.0L430.9,34.4M431.0,33.0L425.5,30.6" stroke="#40a8a8" stroke-width="0.9" fill="none"/>
<circle cx="431.0" cy="33.0" r="0.9" fill="#2a2ad0"/><circle cx="425.5" cy="30.6" r="0.7" fill="#e8e8e8"/>
<path d="M459.0,68.0L462.7,69.3M459.0,68.0L458.9,70.4M459.0,68.0L458.7,65.6M459.0,68.0L464.3,68.9M459.0,68.0L458.7,69.1" stroke="#40a8a8" stroke-width="0.9" fill="none"/>
<circle cx="459.0" cy="68.0" r="0.9" fill="#2a2ad0"/><circle cx="458.7" cy="65.6" r="0.7" fill="#3ab0b0"/>
<path d="M461.0,78.0L459.8,76.6M461.0,78.0L460.0,75.1M461.0,78.0L460.6,77.3M461.0,78.0L462.6,79.5M461.0,78.0L460.5,76.8" stroke="#40a8a8" stroke-width="0.9" fill="none"/>
<circle cx="461.0" cy="78.0" r="0.9" fill="#2a2ad0"/><circle cx="459.8" cy="76.6" r="0.7" fill="#3ab0b0"/><circle cx="460.0" cy="75.1" r="0.7" fill="#3ab0b0"/><circle cx="460.5" cy="76.8" r="0.7" fill="#e8e8e8"/>
<path d="M458.0,88.0L458.0,86.3M458.0,88.0L455.9,84.3M458.0,88.0L457.0,86.2M458.0,88.0L458.9,91.0M458.0,88.0L457.5,90.4" stroke="#40a8a8" stroke-width="0.9" fill="none"/>
<circle cx="458.0" cy="88.0" r="0.9" fill="#2a2ad0"/><circle cx="457.0" cy="86.2" r="0.7" fill="#e8e8e8"/>
<path d="M452.0,128.0L456.3,133.4M452.0,128.0L451.8,126.4M452.0,128.0L453.8,127.8M452.0,128.0L451.6,129.1M452.0,128.0L448.4,132.4" stroke="#40a8a8" stroke-width="0.9" fill="none"/>
<circle cx="452.0" cy="128.0" r="0.9" fill="#2a2ad0"/><circle cx="451.8" cy="126.4" r="0.7" fill="#cc1818"/>
<path d="M447.0,140.0L446.7,139.1M447.0,140.0L450.9,141.3M447.0,140.0L446.1,139.4M447.0,140.0L448.8,137.6M447.0,140.0L446.5,141.0" stroke="#40a8a8" stroke-width="0.9" fill="none"/>
<circle cx="447.0" cy="140.0" r="0.9" fill="#2a2ad0"/><circle cx="446.7" cy="139.1" r="0.7" fill="#e8e8e8"/><circle cx="450.9" cy="141.3" r="0.7" fill="#3ab0b0"/><circle cx="446.1" cy="139.4" r="0.7" fill="#cc1818"/><circle cx="448.8" cy="137.6" r="0.7" fill="#e8e8e8"/><circle cx="446.5" cy="141.0" r="0.7" fill="#e8e8e8"/>
<path d="M440.0,156.0L441.4,154.9M440.0,156.0L439.0,155.3M440.0,156.0L438.3,159.8M440.0,156.0L443.6,153.8M440.0,156.0L438.9,155.2" stroke="#40a8a8" stroke-width="0.9" fill="none"/>
<circle cx="440.0" cy="156.0" r="0.9" fill="#2a2ad0"/><circle cx="441.4" cy="154.9" r="0.7" fill="#e8e8e8"/><circle cx="438.3" cy="159.8" r="0.7" fill="#3ab0b0"/>
<path d="M437.0,163.0L440.3,165.6M437.0,163.0L437.4,161.3M437.0,163.0L434.5,162.0M437.0,163.0L436.9,166.3M437.0,163.0L435.7,159.9" stroke="#40a8a8" stroke-width="0.9" fill="none"/>
<circle cx="437.0" cy="163.0" r="0.9" fill="#2a2ad0"/><circle cx="434.5" cy="162.0" r="0.7" fill="#cc1818"/><circle cx="436.9" cy="166.3" r="0.7" fill="#3ab0b0"/><circle cx="435.7" cy="159.9" r="0.7" fill="#e8e8e8"/>
<path d="M421.0,180.0L423.4,179.5M421.0,180.0L417.2,182.0M421.0,180.0L420.3,177.0M421.0,180.0L422.5,183.9M421.0,180.0L419.7,177.8" stroke="#40a8a8" stroke-width="0.9" fill="none"/>
<circle cx="421.0" cy="180.0" r="0.9" fill="#2a2ad0"/><circle cx="420.3" cy="177.0" r="0.7" fill="#e8e8e8"/>
<path d="M416.0,186.0L419.2,184.3M416.0,186.0L417.2,186.7M416.0,186.0L416.0,185.2M416.0,186.0L415.7,184.2M416.0,186.0L417.1,185.0" stroke="#40a8a8" stroke-width="0.9" fill="none"/>
<circle cx="416.0" cy="186.0" r="0.9" fill="#2a2ad0"/><circle cx="417.2" cy="186.7" r="0.7" fill="#cc1818"/><circle cx="416.0" cy="185.2" r="0.7" fill="#3ab0b0"/><circle cx="415.7" cy="184.2" r="0.7" fill="#3ab0b0"/>
<path d="M404.0,190.0L407.8,193.4M404.0,190.0L403.1,189.3M404.0,190.0L403.2,188.6M404.0,190.0L403.9,193.9M404.0,190.0L408.6,190.1" stroke="#40a8a8" stroke-width="0.9" fill="none"/>
<circle cx="404.0" cy="190.0" r="0.9" fill="#2a2ad0"/><circle cx="403.2" cy="188.6" r="0.7" fill="#e8e8e8"/><circle cx="403.9" cy="193.9" r="0.7" fill="#3ab0b0"/>
<path d="M374.0,207.0L371.4,209.4M374.0,207.0L373.8,204.3M374.0,207.0L376.5,206.9M374.0,207.0L377.4,206.2M374.0,207.0L370.1,205.6" stroke="#40a8a8" stroke-width="0.9" fill="none"/>
<circle cx="374.0" cy="207.0" r="0.9" fill="#2a2ad0"/><circle cx="370.1" cy="205.6" r="0.7" fill="#3ab0b0"/>
<path d="M373.0,212.0L371.6,213.6M373.0,212.0L371.4,212.1M373.0,212.0L372.2,212.8M373.0,212.0L376.3,211.0M373.0,212.0L372.7,213.3" stroke="#40a8a8" stroke-width="0.9" fill="none"/>
<circle cx="373.0" cy="212.0" r="0.9" fill="#2a2ad0"/><circle cx="371.6" cy="213.6" r="0.7" fill="#cc1818"/><circle cx="372.2" cy="212.8" r="0.7" fill="#e8e8e8"/><circle cx="372.7" cy="213.3" r="0.7" fill="#cc1818"/>
<path d="M345.0,196.0L347.4,194.3M345.0,196.0L344.1,196.8M345.0,196.0L345.1,193.6M345.0,196.0L343.8,195.9M345.0,196.0L343.6,195.7" stroke="#40a8a8" stroke-width="0.9" fill="none"/>
<circle cx="345.0" cy="196.0" r="0.9" fill="#2a2ad0"/><circle cx="344.1" cy="196.8" r="0.7" fill="#cc1818"/><circle cx="345.1" cy="193.6" r="0.7" fill="#e8e8e8"/><circle cx="343.8" cy="195.9" r="0.7" fill="#e8e8e8"/>
<path d="M335.0,187.0L340.2,189.3M335.0,187.0L330.6,181.4M335.0,187.0L332.0,186.5M335.0,187.0L337.0,184.5M335.0,187.0L335.0,187.8" stroke="#40a8a8" stroke-width="0.9" fill="none"/>
<circle cx="335.0" cy="187.0" r="0.9" fill="#2a2ad0"/><circle cx="340.2" cy="189.3" r="0.7" fill="#cc1818"/><circle cx="337.0" cy="184.5" r="0.7" fill="#cc1818"/><circle cx="335.0" cy="187.8" r="0.7" fill="#cc1818"/>
<path d="M322.0,172.0L321.8,175.9M322.0,172.0L323.6,171.9M322.0,172.0L321.3,166.1M322.0,172.0L324.8,174.7M322.0,172.0L321.3,176.2" stroke="#40a8a8" stroke-width="0.9" fill="none"/>
<circle cx="322.0" cy="172.0" r="0.9" fill="#2a2ad0"/><circle cx="321.8" cy="175.9" r="0.7" fill="#cc1818"/><circle cx="323.6" cy="171.9" r="0.7" fill="#3ab0b0"/><circle cx="324.8" cy="174.7" r="0.7" fill="#e8e8e8"/><circle cx="321.3" cy="176.2" r="0.7" fill="#3ab0b0"/>
<path d="M315.0,160.0L314.1,160.0M315.0,160.0L318.6,164.9M315.0,160.0L312.2,163.4M315.0,160.0L314.4,161.1M315.0,160.0L315.3,156.8" stroke="#40a8a8" stroke-width="0.9" fill="none"/>
<circle cx="315.0" cy="160.0" r="0.9" fill="#2a2ad0"/><circle cx="314.1" cy="160.0" r="0.7" fill="#3ab0b0"/><circle cx="318.6" cy="164.9" r="0.7" fill="#3ab0b0"/><circle cx="314.4" cy="161.1" r="0.7" fill="#3ab0b0"/>
<path d="M313.0,133.0L312.8,135.5M313.0,133.0L312.7,130.3M313.0,133.0L311.9,133.0M313.0,133.0L309.2,132.5M313.0,133.0L312.2,132.5" stroke="#40a8a8" stroke-width="0.9" fill="none"/>
<circle cx="313.0" cy="133.0" r="0.9" fill="#2a2ad0"/><circle cx="312.7" cy="130.3" r="0.7" fill="#3ab0b0"/><circle cx="311.9" cy="133.0" r="0.7" fill="#3ab0b0"/><circle cx="312.2" cy="132.5" r="0.7" fill="#e8e8e8"/>
<path d="M316.0,117.0L313.7,116.9M316.0,117.0L313.7,116.2M316.0,117.0L318.1,116.8M316.0,117.0L315.2,114.4M316.0,117.0L312.8,114.7" stroke="#40a8a8" stroke-width="0.9" fill="none"/>
<circle cx="316.0" cy="117.0" r="0.9" fill="#2a2ad0"/><circle cx="313.7" cy="116.2" r="0.7" fill="#e8e8e8"/><circle cx="318.1" cy="116.8" r="0.7" fill="#3ab0b0"/><circle cx="315.2" cy="114.4" r="0.7" fill="#e8e8e8"/><circle cx="312.8" cy="114.7" r="0.7" fill="#e8e8e8"/>
<path d="M323.0,108.0L324.0,106.2M323.0,108.0L320.7,108.1M323.0,108.0L328.1,109.4M323.0,108.0L324.5,112.7M323.0,108.0L321.1,107.5" stroke="#40a8a8" stroke-width="0.9" fill="none"/>
<circle cx="323.0" cy="108.0" r="0.9" fill="#2a2ad0"/><circle cx="328.1" cy="109.4" r="0.7" fill="#cc1818"/>
<path d="M329.0,85.0L328.3,82.1M329.0,85.0L328.6,87.3M329.0,85.0L326.8,82.0M329.0,85.0L329.5,81.9M329.0,85.0L329.3,85.4" stroke="#40a8a8" stroke-width="0.9" fill="none"/>
<circle cx="329.0" cy="85.0" r="0.9" fill="#2a2ad0"/><circle cx="328.3" cy="82.1" r="0.7" fill="#e8e8e8"/><circle cx="328.6" cy="87.3" r="0.7" fill="#e8e8e8"/><circle cx="326.8" cy="82.0" r="0.7" fill="#3ab0b0"/><circle cx="329.5" cy="81.9" r="0.7" fill="#e8e8e8"/>
<path d="M336.0,66.0L335.0,64.4M336.0,66.0L335.6,65.8M336.0,66.0L331.5,64.8M336.0,66.0L338.6,70.3M336.0,66.0L339.0,67.7" stroke="#40a8a8" stroke-width="0.9" fill="none"/>
<circle cx="336.0" cy="66.0" r="0.9" fill="#2a2ad0"/><circle cx="331.5" cy="64.8" r="0.7" fill="#3ab0b0"/><circle cx="338.6" cy="70.3" r="0.7" fill="#e8e8e8"/><circle cx="339.0" cy="67.7" r="0.7" fill="#cc1818"/>
<path d="M342.0,52.0L344.1,53.6M342.0,52.0L341.9,51.3M342.0,52.0L340.4,51.6M342.0,52.0L341.5,53.0M342.0,52.0L342.7,55.2" stroke="#40a8a8" stroke-width="0.9" fill="none"/>
<circle cx="342.0" cy="52.0" r="0.9" fill="#2a2ad0"/><circle cx="341.9" cy="51.3" r="0.7" fill="#cc1818"/><circle cx="340.4" cy="51.6" r="0.7" fill="#e8e8e8"/>
<path d="M350.0,40.0L355.3,42.4M350.0,40.0L353.1,37.4M350.0,40.0L353.2,35.9M350.0,40.0L351.2,44.3M350.0,40.0L353.5,38.8" stroke="#40a8a8" stroke-width="0.9" fill="none"/>
<circle cx="350.0" cy="40.0" r="0.9" fill="#2a2ad0"/><circle cx="353.5" cy="38.8" r="0.7" fill="#cc1818"/>
<path d="M360.0,30.0L357.3,27.6M360.0,30.0L357.6,31.6M360.0,30.0L358.8,30.7M360.0,30.0L360.1,31.5M360.0,30.0L359.3,27.7" stroke="#40a8a8" stroke-width="0.9" fill="none"/>
<circle cx="360.0" cy="30.0" r="0.9" fill="#2a2ad0"/><circle cx="357.6" cy="31.6" r="0.7" fill="#3ab0b0"/><circle cx="358.8" cy="30.7" r="0.7" fill="#cc1818"/><circle cx="359.3" cy="27.7" r="0.7" fill="#3ab0b0"/>
<path d="M368.0,24.0L364.8,22.0M368.0,24.0L367.5,22.3M368.0,24.0L364.5,20.5M368.0,24.0L364.8,22.7M368.0,24.0L367.1,24.3" stroke="#40a8a8" stroke-width="0.9" fill="none"/>
<circle cx="368.0" cy="24.0" r="0.9" fill="#2a2ad0"/><circle cx="364.8" cy="22.0" r="0.7" fill="#e8e8e8"/><circle cx="364.5" cy="20.5" r="0.7" fill="#cc1818"/>
</svg>
</body></html>
